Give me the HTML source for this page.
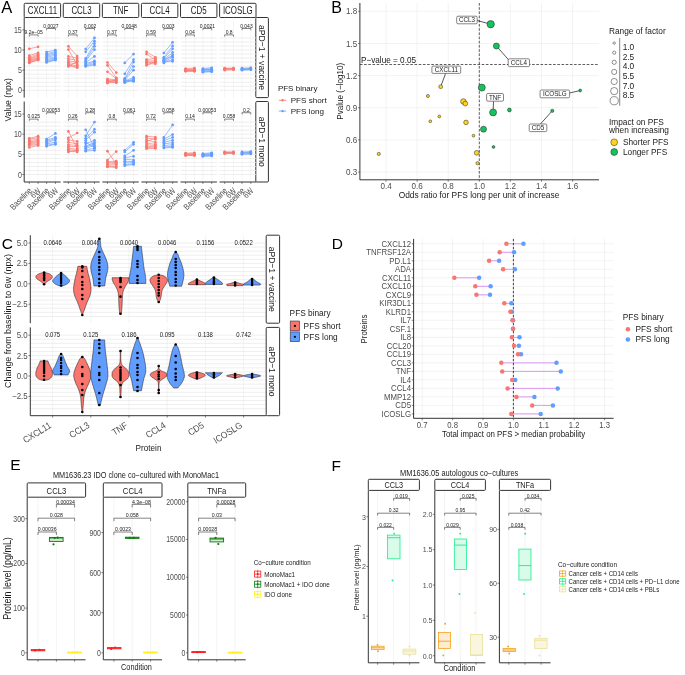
<!DOCTYPE html>
<html><head><meta charset="utf-8"><style>
html,body{margin:0;padding:0;background:#fff;width:685px;height:675px;overflow:hidden}
svg{display:block;-webkit-font-smoothing:antialiased;will-change:transform;font-family:"Liberation Sans", sans-serif}
</style></head><body>
<svg width="685" height="675" viewBox="0 0 685 675">
<rect x="0" y="0" width="685" height="675" fill="#fff"/>
<text transform="translate(1.3 13)" font-size="16.5" fill="#000" text-anchor="start">A</text>
<rect x="24.2" y="3.3" width="36.4" height="14.2" fill="#ffffff" stroke="#333333" stroke-width="1" rx="1"/>
<text transform="translate(42.4 14) scale(0.79 1)" font-size="10" fill="#1a1a1a" text-anchor="middle">CXCL11</text>
<rect x="63.28" y="3.3" width="36.4" height="14.2" fill="#ffffff" stroke="#333333" stroke-width="1" rx="1"/>
<text transform="translate(81.48 14) scale(0.79 1)" font-size="10" fill="#1a1a1a" text-anchor="middle">CCL3</text>
<rect x="102.36" y="3.3" width="36.4" height="14.2" fill="#ffffff" stroke="#333333" stroke-width="1" rx="1"/>
<text transform="translate(120.56 14) scale(0.79 1)" font-size="10" fill="#1a1a1a" text-anchor="middle">TNF</text>
<rect x="141.44" y="3.3" width="36.4" height="14.2" fill="#ffffff" stroke="#333333" stroke-width="1" rx="1"/>
<text transform="translate(159.64 14) scale(0.79 1)" font-size="10" fill="#1a1a1a" text-anchor="middle">CCL4</text>
<rect x="180.52" y="3.3" width="36.4" height="14.2" fill="#ffffff" stroke="#333333" stroke-width="1" rx="1"/>
<text transform="translate(198.72 14) scale(0.79 1)" font-size="10" fill="#1a1a1a" text-anchor="middle">CD5</text>
<rect x="219.6" y="3.3" width="36.4" height="14.2" fill="#ffffff" stroke="#333333" stroke-width="1" rx="1"/>
<text transform="translate(237.8 14) scale(0.79 1)" font-size="10" fill="#1a1a1a" text-anchor="middle">ICOSLG</text>
<rect x="255.8" y="17.5" width="12.6" height="80.1" fill="#ffffff" stroke="#333333" stroke-width="1" rx="1"/>
<text transform="translate(258.68 57.55) rotate(90) scale(0.9 1)" font-size="9.5" fill="#1a1a1a" text-anchor="middle">aPD−1 + vaccine</text>
<line x1="24.2" y1="90.3" x2="60.6" y2="90.3" stroke="#e8e8e8" stroke-width="0.75"/>
<line x1="24.2" y1="86.27" x2="60.6" y2="86.27" stroke="#e8e8e8" stroke-width="0.75"/>
<line x1="24.2" y1="82.24" x2="60.6" y2="82.24" stroke="#e8e8e8" stroke-width="0.75"/>
<line x1="24.2" y1="78.21" x2="60.6" y2="78.21" stroke="#e8e8e8" stroke-width="0.75"/>
<line x1="24.2" y1="74.18" x2="60.6" y2="74.18" stroke="#e8e8e8" stroke-width="0.75"/>
<line x1="24.2" y1="70.15" x2="60.6" y2="70.15" stroke="#e8e8e8" stroke-width="0.75"/>
<line x1="24.2" y1="66.12" x2="60.6" y2="66.12" stroke="#e8e8e8" stroke-width="0.75"/>
<line x1="24.2" y1="62.09" x2="60.6" y2="62.09" stroke="#e8e8e8" stroke-width="0.75"/>
<line x1="24.2" y1="58.06" x2="60.6" y2="58.06" stroke="#e8e8e8" stroke-width="0.75"/>
<line x1="24.2" y1="54.03" x2="60.6" y2="54.03" stroke="#e8e8e8" stroke-width="0.75"/>
<line x1="24.2" y1="50" x2="60.6" y2="50" stroke="#e8e8e8" stroke-width="0.75"/>
<line x1="24.2" y1="45.97" x2="60.6" y2="45.97" stroke="#e8e8e8" stroke-width="0.75"/>
<line x1="24.2" y1="41.94" x2="60.6" y2="41.94" stroke="#e8e8e8" stroke-width="0.75"/>
<line x1="24.2" y1="37.91" x2="60.6" y2="37.91" stroke="#e8e8e8" stroke-width="0.75"/>
<line x1="29.3" y1="17.5" x2="29.3" y2="97.6" stroke="#ebebeb" stroke-width="0.5"/>
<line x1="38.1" y1="17.5" x2="38.1" y2="97.6" stroke="#ebebeb" stroke-width="0.5"/>
<line x1="46.6" y1="17.5" x2="46.6" y2="97.6" stroke="#ebebeb" stroke-width="0.5"/>
<line x1="55.4" y1="17.5" x2="55.4" y2="97.6" stroke="#ebebeb" stroke-width="0.5"/>
<line x1="63.28" y1="90.3" x2="99.68" y2="90.3" stroke="#e8e8e8" stroke-width="0.75"/>
<line x1="63.28" y1="86.27" x2="99.68" y2="86.27" stroke="#e8e8e8" stroke-width="0.75"/>
<line x1="63.28" y1="82.24" x2="99.68" y2="82.24" stroke="#e8e8e8" stroke-width="0.75"/>
<line x1="63.28" y1="78.21" x2="99.68" y2="78.21" stroke="#e8e8e8" stroke-width="0.75"/>
<line x1="63.28" y1="74.18" x2="99.68" y2="74.18" stroke="#e8e8e8" stroke-width="0.75"/>
<line x1="63.28" y1="70.15" x2="99.68" y2="70.15" stroke="#e8e8e8" stroke-width="0.75"/>
<line x1="63.28" y1="66.12" x2="99.68" y2="66.12" stroke="#e8e8e8" stroke-width="0.75"/>
<line x1="63.28" y1="62.09" x2="99.68" y2="62.09" stroke="#e8e8e8" stroke-width="0.75"/>
<line x1="63.28" y1="58.06" x2="99.68" y2="58.06" stroke="#e8e8e8" stroke-width="0.75"/>
<line x1="63.28" y1="54.03" x2="99.68" y2="54.03" stroke="#e8e8e8" stroke-width="0.75"/>
<line x1="63.28" y1="50" x2="99.68" y2="50" stroke="#e8e8e8" stroke-width="0.75"/>
<line x1="63.28" y1="45.97" x2="99.68" y2="45.97" stroke="#e8e8e8" stroke-width="0.75"/>
<line x1="63.28" y1="41.94" x2="99.68" y2="41.94" stroke="#e8e8e8" stroke-width="0.75"/>
<line x1="63.28" y1="37.91" x2="99.68" y2="37.91" stroke="#e8e8e8" stroke-width="0.75"/>
<line x1="68.38" y1="17.5" x2="68.38" y2="97.6" stroke="#ebebeb" stroke-width="0.5"/>
<line x1="77.18" y1="17.5" x2="77.18" y2="97.6" stroke="#ebebeb" stroke-width="0.5"/>
<line x1="85.68" y1="17.5" x2="85.68" y2="97.6" stroke="#ebebeb" stroke-width="0.5"/>
<line x1="94.48" y1="17.5" x2="94.48" y2="97.6" stroke="#ebebeb" stroke-width="0.5"/>
<line x1="102.36" y1="90.3" x2="138.76" y2="90.3" stroke="#e8e8e8" stroke-width="0.75"/>
<line x1="102.36" y1="86.27" x2="138.76" y2="86.27" stroke="#e8e8e8" stroke-width="0.75"/>
<line x1="102.36" y1="82.24" x2="138.76" y2="82.24" stroke="#e8e8e8" stroke-width="0.75"/>
<line x1="102.36" y1="78.21" x2="138.76" y2="78.21" stroke="#e8e8e8" stroke-width="0.75"/>
<line x1="102.36" y1="74.18" x2="138.76" y2="74.18" stroke="#e8e8e8" stroke-width="0.75"/>
<line x1="102.36" y1="70.15" x2="138.76" y2="70.15" stroke="#e8e8e8" stroke-width="0.75"/>
<line x1="102.36" y1="66.12" x2="138.76" y2="66.12" stroke="#e8e8e8" stroke-width="0.75"/>
<line x1="102.36" y1="62.09" x2="138.76" y2="62.09" stroke="#e8e8e8" stroke-width="0.75"/>
<line x1="102.36" y1="58.06" x2="138.76" y2="58.06" stroke="#e8e8e8" stroke-width="0.75"/>
<line x1="102.36" y1="54.03" x2="138.76" y2="54.03" stroke="#e8e8e8" stroke-width="0.75"/>
<line x1="102.36" y1="50" x2="138.76" y2="50" stroke="#e8e8e8" stroke-width="0.75"/>
<line x1="102.36" y1="45.97" x2="138.76" y2="45.97" stroke="#e8e8e8" stroke-width="0.75"/>
<line x1="102.36" y1="41.94" x2="138.76" y2="41.94" stroke="#e8e8e8" stroke-width="0.75"/>
<line x1="102.36" y1="37.91" x2="138.76" y2="37.91" stroke="#e8e8e8" stroke-width="0.75"/>
<line x1="107.46" y1="17.5" x2="107.46" y2="97.6" stroke="#ebebeb" stroke-width="0.5"/>
<line x1="116.26" y1="17.5" x2="116.26" y2="97.6" stroke="#ebebeb" stroke-width="0.5"/>
<line x1="124.76" y1="17.5" x2="124.76" y2="97.6" stroke="#ebebeb" stroke-width="0.5"/>
<line x1="133.56" y1="17.5" x2="133.56" y2="97.6" stroke="#ebebeb" stroke-width="0.5"/>
<line x1="141.44" y1="90.3" x2="177.84" y2="90.3" stroke="#e8e8e8" stroke-width="0.75"/>
<line x1="141.44" y1="86.27" x2="177.84" y2="86.27" stroke="#e8e8e8" stroke-width="0.75"/>
<line x1="141.44" y1="82.24" x2="177.84" y2="82.24" stroke="#e8e8e8" stroke-width="0.75"/>
<line x1="141.44" y1="78.21" x2="177.84" y2="78.21" stroke="#e8e8e8" stroke-width="0.75"/>
<line x1="141.44" y1="74.18" x2="177.84" y2="74.18" stroke="#e8e8e8" stroke-width="0.75"/>
<line x1="141.44" y1="70.15" x2="177.84" y2="70.15" stroke="#e8e8e8" stroke-width="0.75"/>
<line x1="141.44" y1="66.12" x2="177.84" y2="66.12" stroke="#e8e8e8" stroke-width="0.75"/>
<line x1="141.44" y1="62.09" x2="177.84" y2="62.09" stroke="#e8e8e8" stroke-width="0.75"/>
<line x1="141.44" y1="58.06" x2="177.84" y2="58.06" stroke="#e8e8e8" stroke-width="0.75"/>
<line x1="141.44" y1="54.03" x2="177.84" y2="54.03" stroke="#e8e8e8" stroke-width="0.75"/>
<line x1="141.44" y1="50" x2="177.84" y2="50" stroke="#e8e8e8" stroke-width="0.75"/>
<line x1="141.44" y1="45.97" x2="177.84" y2="45.97" stroke="#e8e8e8" stroke-width="0.75"/>
<line x1="141.44" y1="41.94" x2="177.84" y2="41.94" stroke="#e8e8e8" stroke-width="0.75"/>
<line x1="141.44" y1="37.91" x2="177.84" y2="37.91" stroke="#e8e8e8" stroke-width="0.75"/>
<line x1="146.54" y1="17.5" x2="146.54" y2="97.6" stroke="#ebebeb" stroke-width="0.5"/>
<line x1="155.34" y1="17.5" x2="155.34" y2="97.6" stroke="#ebebeb" stroke-width="0.5"/>
<line x1="163.84" y1="17.5" x2="163.84" y2="97.6" stroke="#ebebeb" stroke-width="0.5"/>
<line x1="172.64" y1="17.5" x2="172.64" y2="97.6" stroke="#ebebeb" stroke-width="0.5"/>
<line x1="180.52" y1="90.3" x2="216.92" y2="90.3" stroke="#e8e8e8" stroke-width="0.75"/>
<line x1="180.52" y1="86.27" x2="216.92" y2="86.27" stroke="#e8e8e8" stroke-width="0.75"/>
<line x1="180.52" y1="82.24" x2="216.92" y2="82.24" stroke="#e8e8e8" stroke-width="0.75"/>
<line x1="180.52" y1="78.21" x2="216.92" y2="78.21" stroke="#e8e8e8" stroke-width="0.75"/>
<line x1="180.52" y1="74.18" x2="216.92" y2="74.18" stroke="#e8e8e8" stroke-width="0.75"/>
<line x1="180.52" y1="70.15" x2="216.92" y2="70.15" stroke="#e8e8e8" stroke-width="0.75"/>
<line x1="180.52" y1="66.12" x2="216.92" y2="66.12" stroke="#e8e8e8" stroke-width="0.75"/>
<line x1="180.52" y1="62.09" x2="216.92" y2="62.09" stroke="#e8e8e8" stroke-width="0.75"/>
<line x1="180.52" y1="58.06" x2="216.92" y2="58.06" stroke="#e8e8e8" stroke-width="0.75"/>
<line x1="180.52" y1="54.03" x2="216.92" y2="54.03" stroke="#e8e8e8" stroke-width="0.75"/>
<line x1="180.52" y1="50" x2="216.92" y2="50" stroke="#e8e8e8" stroke-width="0.75"/>
<line x1="180.52" y1="45.97" x2="216.92" y2="45.97" stroke="#e8e8e8" stroke-width="0.75"/>
<line x1="180.52" y1="41.94" x2="216.92" y2="41.94" stroke="#e8e8e8" stroke-width="0.75"/>
<line x1="180.52" y1="37.91" x2="216.92" y2="37.91" stroke="#e8e8e8" stroke-width="0.75"/>
<line x1="185.62" y1="17.5" x2="185.62" y2="97.6" stroke="#ebebeb" stroke-width="0.5"/>
<line x1="194.42" y1="17.5" x2="194.42" y2="97.6" stroke="#ebebeb" stroke-width="0.5"/>
<line x1="202.92" y1="17.5" x2="202.92" y2="97.6" stroke="#ebebeb" stroke-width="0.5"/>
<line x1="211.72" y1="17.5" x2="211.72" y2="97.6" stroke="#ebebeb" stroke-width="0.5"/>
<line x1="219.6" y1="90.3" x2="256" y2="90.3" stroke="#e8e8e8" stroke-width="0.75"/>
<line x1="219.6" y1="86.27" x2="256" y2="86.27" stroke="#e8e8e8" stroke-width="0.75"/>
<line x1="219.6" y1="82.24" x2="256" y2="82.24" stroke="#e8e8e8" stroke-width="0.75"/>
<line x1="219.6" y1="78.21" x2="256" y2="78.21" stroke="#e8e8e8" stroke-width="0.75"/>
<line x1="219.6" y1="74.18" x2="256" y2="74.18" stroke="#e8e8e8" stroke-width="0.75"/>
<line x1="219.6" y1="70.15" x2="256" y2="70.15" stroke="#e8e8e8" stroke-width="0.75"/>
<line x1="219.6" y1="66.12" x2="256" y2="66.12" stroke="#e8e8e8" stroke-width="0.75"/>
<line x1="219.6" y1="62.09" x2="256" y2="62.09" stroke="#e8e8e8" stroke-width="0.75"/>
<line x1="219.6" y1="58.06" x2="256" y2="58.06" stroke="#e8e8e8" stroke-width="0.75"/>
<line x1="219.6" y1="54.03" x2="256" y2="54.03" stroke="#e8e8e8" stroke-width="0.75"/>
<line x1="219.6" y1="50" x2="256" y2="50" stroke="#e8e8e8" stroke-width="0.75"/>
<line x1="219.6" y1="45.97" x2="256" y2="45.97" stroke="#e8e8e8" stroke-width="0.75"/>
<line x1="219.6" y1="41.94" x2="256" y2="41.94" stroke="#e8e8e8" stroke-width="0.75"/>
<line x1="219.6" y1="37.91" x2="256" y2="37.91" stroke="#e8e8e8" stroke-width="0.75"/>
<line x1="224.7" y1="17.5" x2="224.7" y2="97.6" stroke="#ebebeb" stroke-width="0.5"/>
<line x1="233.5" y1="17.5" x2="233.5" y2="97.6" stroke="#ebebeb" stroke-width="0.5"/>
<line x1="242" y1="17.5" x2="242" y2="97.6" stroke="#ebebeb" stroke-width="0.5"/>
<line x1="250.8" y1="17.5" x2="250.8" y2="97.6" stroke="#ebebeb" stroke-width="0.5"/>
<line x1="24.2" y1="17.5" x2="24.2" y2="97.6" stroke="#333" stroke-width="1"/>
<line x1="22.3" y1="90.3" x2="24.2" y2="90.3" stroke="#333" stroke-width="0.6"/>
<text transform="translate(21.8 93.3) scale(0.83 1)" font-size="8.5" fill="#4d4d4d" text-anchor="end">0</text>
<line x1="22.3" y1="70.15" x2="24.2" y2="70.15" stroke="#333" stroke-width="0.6"/>
<text transform="translate(21.8 73.15) scale(0.83 1)" font-size="8.5" fill="#4d4d4d" text-anchor="end">5</text>
<line x1="22.3" y1="50" x2="24.2" y2="50" stroke="#333" stroke-width="0.6"/>
<text transform="translate(21.8 53) scale(0.83 1)" font-size="8.5" fill="#4d4d4d" text-anchor="end">10</text>
<line x1="22.3" y1="29.85" x2="24.2" y2="29.85" stroke="#333" stroke-width="0.6"/>
<text transform="translate(21.8 32.85) scale(0.83 1)" font-size="8.5" fill="#4d4d4d" text-anchor="end">15</text>
<rect x="255.8" y="101.5" width="12.6" height="80.5" fill="#ffffff" stroke="#333333" stroke-width="1" rx="1"/>
<text transform="translate(258.68 141.75) rotate(90) scale(0.9 1)" font-size="9.5" fill="#1a1a1a" text-anchor="middle">aPD−1 mono</text>
<line x1="24.2" y1="174.5" x2="60.6" y2="174.5" stroke="#e8e8e8" stroke-width="0.75"/>
<line x1="24.2" y1="170.47" x2="60.6" y2="170.47" stroke="#e8e8e8" stroke-width="0.75"/>
<line x1="24.2" y1="166.44" x2="60.6" y2="166.44" stroke="#e8e8e8" stroke-width="0.75"/>
<line x1="24.2" y1="162.41" x2="60.6" y2="162.41" stroke="#e8e8e8" stroke-width="0.75"/>
<line x1="24.2" y1="158.38" x2="60.6" y2="158.38" stroke="#e8e8e8" stroke-width="0.75"/>
<line x1="24.2" y1="154.35" x2="60.6" y2="154.35" stroke="#e8e8e8" stroke-width="0.75"/>
<line x1="24.2" y1="150.32" x2="60.6" y2="150.32" stroke="#e8e8e8" stroke-width="0.75"/>
<line x1="24.2" y1="146.29" x2="60.6" y2="146.29" stroke="#e8e8e8" stroke-width="0.75"/>
<line x1="24.2" y1="142.26" x2="60.6" y2="142.26" stroke="#e8e8e8" stroke-width="0.75"/>
<line x1="24.2" y1="138.23" x2="60.6" y2="138.23" stroke="#e8e8e8" stroke-width="0.75"/>
<line x1="24.2" y1="134.2" x2="60.6" y2="134.2" stroke="#e8e8e8" stroke-width="0.75"/>
<line x1="24.2" y1="130.17" x2="60.6" y2="130.17" stroke="#e8e8e8" stroke-width="0.75"/>
<line x1="24.2" y1="126.14" x2="60.6" y2="126.14" stroke="#e8e8e8" stroke-width="0.75"/>
<line x1="24.2" y1="122.11" x2="60.6" y2="122.11" stroke="#e8e8e8" stroke-width="0.75"/>
<line x1="29.3" y1="101.5" x2="29.3" y2="182" stroke="#ebebeb" stroke-width="0.5"/>
<line x1="38.1" y1="101.5" x2="38.1" y2="182" stroke="#ebebeb" stroke-width="0.5"/>
<line x1="46.6" y1="101.5" x2="46.6" y2="182" stroke="#ebebeb" stroke-width="0.5"/>
<line x1="55.4" y1="101.5" x2="55.4" y2="182" stroke="#ebebeb" stroke-width="0.5"/>
<line x1="63.28" y1="174.5" x2="99.68" y2="174.5" stroke="#e8e8e8" stroke-width="0.75"/>
<line x1="63.28" y1="170.47" x2="99.68" y2="170.47" stroke="#e8e8e8" stroke-width="0.75"/>
<line x1="63.28" y1="166.44" x2="99.68" y2="166.44" stroke="#e8e8e8" stroke-width="0.75"/>
<line x1="63.28" y1="162.41" x2="99.68" y2="162.41" stroke="#e8e8e8" stroke-width="0.75"/>
<line x1="63.28" y1="158.38" x2="99.68" y2="158.38" stroke="#e8e8e8" stroke-width="0.75"/>
<line x1="63.28" y1="154.35" x2="99.68" y2="154.35" stroke="#e8e8e8" stroke-width="0.75"/>
<line x1="63.28" y1="150.32" x2="99.68" y2="150.32" stroke="#e8e8e8" stroke-width="0.75"/>
<line x1="63.28" y1="146.29" x2="99.68" y2="146.29" stroke="#e8e8e8" stroke-width="0.75"/>
<line x1="63.28" y1="142.26" x2="99.68" y2="142.26" stroke="#e8e8e8" stroke-width="0.75"/>
<line x1="63.28" y1="138.23" x2="99.68" y2="138.23" stroke="#e8e8e8" stroke-width="0.75"/>
<line x1="63.28" y1="134.2" x2="99.68" y2="134.2" stroke="#e8e8e8" stroke-width="0.75"/>
<line x1="63.28" y1="130.17" x2="99.68" y2="130.17" stroke="#e8e8e8" stroke-width="0.75"/>
<line x1="63.28" y1="126.14" x2="99.68" y2="126.14" stroke="#e8e8e8" stroke-width="0.75"/>
<line x1="63.28" y1="122.11" x2="99.68" y2="122.11" stroke="#e8e8e8" stroke-width="0.75"/>
<line x1="68.38" y1="101.5" x2="68.38" y2="182" stroke="#ebebeb" stroke-width="0.5"/>
<line x1="77.18" y1="101.5" x2="77.18" y2="182" stroke="#ebebeb" stroke-width="0.5"/>
<line x1="85.68" y1="101.5" x2="85.68" y2="182" stroke="#ebebeb" stroke-width="0.5"/>
<line x1="94.48" y1="101.5" x2="94.48" y2="182" stroke="#ebebeb" stroke-width="0.5"/>
<line x1="102.36" y1="174.5" x2="138.76" y2="174.5" stroke="#e8e8e8" stroke-width="0.75"/>
<line x1="102.36" y1="170.47" x2="138.76" y2="170.47" stroke="#e8e8e8" stroke-width="0.75"/>
<line x1="102.36" y1="166.44" x2="138.76" y2="166.44" stroke="#e8e8e8" stroke-width="0.75"/>
<line x1="102.36" y1="162.41" x2="138.76" y2="162.41" stroke="#e8e8e8" stroke-width="0.75"/>
<line x1="102.36" y1="158.38" x2="138.76" y2="158.38" stroke="#e8e8e8" stroke-width="0.75"/>
<line x1="102.36" y1="154.35" x2="138.76" y2="154.35" stroke="#e8e8e8" stroke-width="0.75"/>
<line x1="102.36" y1="150.32" x2="138.76" y2="150.32" stroke="#e8e8e8" stroke-width="0.75"/>
<line x1="102.36" y1="146.29" x2="138.76" y2="146.29" stroke="#e8e8e8" stroke-width="0.75"/>
<line x1="102.36" y1="142.26" x2="138.76" y2="142.26" stroke="#e8e8e8" stroke-width="0.75"/>
<line x1="102.36" y1="138.23" x2="138.76" y2="138.23" stroke="#e8e8e8" stroke-width="0.75"/>
<line x1="102.36" y1="134.2" x2="138.76" y2="134.2" stroke="#e8e8e8" stroke-width="0.75"/>
<line x1="102.36" y1="130.17" x2="138.76" y2="130.17" stroke="#e8e8e8" stroke-width="0.75"/>
<line x1="102.36" y1="126.14" x2="138.76" y2="126.14" stroke="#e8e8e8" stroke-width="0.75"/>
<line x1="102.36" y1="122.11" x2="138.76" y2="122.11" stroke="#e8e8e8" stroke-width="0.75"/>
<line x1="107.46" y1="101.5" x2="107.46" y2="182" stroke="#ebebeb" stroke-width="0.5"/>
<line x1="116.26" y1="101.5" x2="116.26" y2="182" stroke="#ebebeb" stroke-width="0.5"/>
<line x1="124.76" y1="101.5" x2="124.76" y2="182" stroke="#ebebeb" stroke-width="0.5"/>
<line x1="133.56" y1="101.5" x2="133.56" y2="182" stroke="#ebebeb" stroke-width="0.5"/>
<line x1="141.44" y1="174.5" x2="177.84" y2="174.5" stroke="#e8e8e8" stroke-width="0.75"/>
<line x1="141.44" y1="170.47" x2="177.84" y2="170.47" stroke="#e8e8e8" stroke-width="0.75"/>
<line x1="141.44" y1="166.44" x2="177.84" y2="166.44" stroke="#e8e8e8" stroke-width="0.75"/>
<line x1="141.44" y1="162.41" x2="177.84" y2="162.41" stroke="#e8e8e8" stroke-width="0.75"/>
<line x1="141.44" y1="158.38" x2="177.84" y2="158.38" stroke="#e8e8e8" stroke-width="0.75"/>
<line x1="141.44" y1="154.35" x2="177.84" y2="154.35" stroke="#e8e8e8" stroke-width="0.75"/>
<line x1="141.44" y1="150.32" x2="177.84" y2="150.32" stroke="#e8e8e8" stroke-width="0.75"/>
<line x1="141.44" y1="146.29" x2="177.84" y2="146.29" stroke="#e8e8e8" stroke-width="0.75"/>
<line x1="141.44" y1="142.26" x2="177.84" y2="142.26" stroke="#e8e8e8" stroke-width="0.75"/>
<line x1="141.44" y1="138.23" x2="177.84" y2="138.23" stroke="#e8e8e8" stroke-width="0.75"/>
<line x1="141.44" y1="134.2" x2="177.84" y2="134.2" stroke="#e8e8e8" stroke-width="0.75"/>
<line x1="141.44" y1="130.17" x2="177.84" y2="130.17" stroke="#e8e8e8" stroke-width="0.75"/>
<line x1="141.44" y1="126.14" x2="177.84" y2="126.14" stroke="#e8e8e8" stroke-width="0.75"/>
<line x1="141.44" y1="122.11" x2="177.84" y2="122.11" stroke="#e8e8e8" stroke-width="0.75"/>
<line x1="146.54" y1="101.5" x2="146.54" y2="182" stroke="#ebebeb" stroke-width="0.5"/>
<line x1="155.34" y1="101.5" x2="155.34" y2="182" stroke="#ebebeb" stroke-width="0.5"/>
<line x1="163.84" y1="101.5" x2="163.84" y2="182" stroke="#ebebeb" stroke-width="0.5"/>
<line x1="172.64" y1="101.5" x2="172.64" y2="182" stroke="#ebebeb" stroke-width="0.5"/>
<line x1="180.52" y1="174.5" x2="216.92" y2="174.5" stroke="#e8e8e8" stroke-width="0.75"/>
<line x1="180.52" y1="170.47" x2="216.92" y2="170.47" stroke="#e8e8e8" stroke-width="0.75"/>
<line x1="180.52" y1="166.44" x2="216.92" y2="166.44" stroke="#e8e8e8" stroke-width="0.75"/>
<line x1="180.52" y1="162.41" x2="216.92" y2="162.41" stroke="#e8e8e8" stroke-width="0.75"/>
<line x1="180.52" y1="158.38" x2="216.92" y2="158.38" stroke="#e8e8e8" stroke-width="0.75"/>
<line x1="180.52" y1="154.35" x2="216.92" y2="154.35" stroke="#e8e8e8" stroke-width="0.75"/>
<line x1="180.52" y1="150.32" x2="216.92" y2="150.32" stroke="#e8e8e8" stroke-width="0.75"/>
<line x1="180.52" y1="146.29" x2="216.92" y2="146.29" stroke="#e8e8e8" stroke-width="0.75"/>
<line x1="180.52" y1="142.26" x2="216.92" y2="142.26" stroke="#e8e8e8" stroke-width="0.75"/>
<line x1="180.52" y1="138.23" x2="216.92" y2="138.23" stroke="#e8e8e8" stroke-width="0.75"/>
<line x1="180.52" y1="134.2" x2="216.92" y2="134.2" stroke="#e8e8e8" stroke-width="0.75"/>
<line x1="180.52" y1="130.17" x2="216.92" y2="130.17" stroke="#e8e8e8" stroke-width="0.75"/>
<line x1="180.52" y1="126.14" x2="216.92" y2="126.14" stroke="#e8e8e8" stroke-width="0.75"/>
<line x1="180.52" y1="122.11" x2="216.92" y2="122.11" stroke="#e8e8e8" stroke-width="0.75"/>
<line x1="185.62" y1="101.5" x2="185.62" y2="182" stroke="#ebebeb" stroke-width="0.5"/>
<line x1="194.42" y1="101.5" x2="194.42" y2="182" stroke="#ebebeb" stroke-width="0.5"/>
<line x1="202.92" y1="101.5" x2="202.92" y2="182" stroke="#ebebeb" stroke-width="0.5"/>
<line x1="211.72" y1="101.5" x2="211.72" y2="182" stroke="#ebebeb" stroke-width="0.5"/>
<line x1="219.6" y1="174.5" x2="256" y2="174.5" stroke="#e8e8e8" stroke-width="0.75"/>
<line x1="219.6" y1="170.47" x2="256" y2="170.47" stroke="#e8e8e8" stroke-width="0.75"/>
<line x1="219.6" y1="166.44" x2="256" y2="166.44" stroke="#e8e8e8" stroke-width="0.75"/>
<line x1="219.6" y1="162.41" x2="256" y2="162.41" stroke="#e8e8e8" stroke-width="0.75"/>
<line x1="219.6" y1="158.38" x2="256" y2="158.38" stroke="#e8e8e8" stroke-width="0.75"/>
<line x1="219.6" y1="154.35" x2="256" y2="154.35" stroke="#e8e8e8" stroke-width="0.75"/>
<line x1="219.6" y1="150.32" x2="256" y2="150.32" stroke="#e8e8e8" stroke-width="0.75"/>
<line x1="219.6" y1="146.29" x2="256" y2="146.29" stroke="#e8e8e8" stroke-width="0.75"/>
<line x1="219.6" y1="142.26" x2="256" y2="142.26" stroke="#e8e8e8" stroke-width="0.75"/>
<line x1="219.6" y1="138.23" x2="256" y2="138.23" stroke="#e8e8e8" stroke-width="0.75"/>
<line x1="219.6" y1="134.2" x2="256" y2="134.2" stroke="#e8e8e8" stroke-width="0.75"/>
<line x1="219.6" y1="130.17" x2="256" y2="130.17" stroke="#e8e8e8" stroke-width="0.75"/>
<line x1="219.6" y1="126.14" x2="256" y2="126.14" stroke="#e8e8e8" stroke-width="0.75"/>
<line x1="219.6" y1="122.11" x2="256" y2="122.11" stroke="#e8e8e8" stroke-width="0.75"/>
<line x1="224.7" y1="101.5" x2="224.7" y2="182" stroke="#ebebeb" stroke-width="0.5"/>
<line x1="233.5" y1="101.5" x2="233.5" y2="182" stroke="#ebebeb" stroke-width="0.5"/>
<line x1="242" y1="101.5" x2="242" y2="182" stroke="#ebebeb" stroke-width="0.5"/>
<line x1="250.8" y1="101.5" x2="250.8" y2="182" stroke="#ebebeb" stroke-width="0.5"/>
<line x1="24.2" y1="101.5" x2="24.2" y2="182" stroke="#333" stroke-width="1"/>
<line x1="22.3" y1="174.5" x2="24.2" y2="174.5" stroke="#333" stroke-width="0.6"/>
<text transform="translate(21.8 177.5) scale(0.83 1)" font-size="8.5" fill="#4d4d4d" text-anchor="end">0</text>
<line x1="22.3" y1="154.35" x2="24.2" y2="154.35" stroke="#333" stroke-width="0.6"/>
<text transform="translate(21.8 157.35) scale(0.83 1)" font-size="8.5" fill="#4d4d4d" text-anchor="end">5</text>
<line x1="22.3" y1="134.2" x2="24.2" y2="134.2" stroke="#333" stroke-width="0.6"/>
<text transform="translate(21.8 137.2) scale(0.83 1)" font-size="8.5" fill="#4d4d4d" text-anchor="end">10</text>
<line x1="22.3" y1="114.05" x2="24.2" y2="114.05" stroke="#333" stroke-width="0.6"/>
<text transform="translate(21.8 117.05) scale(0.83 1)" font-size="8.5" fill="#4d4d4d" text-anchor="end">15</text>
<line x1="24.2" y1="182" x2="60.6" y2="182" stroke="#333" stroke-width="1"/>
<line x1="29.3" y1="182" x2="29.3" y2="183.9" stroke="#333" stroke-width="0.6"/>
<text transform="translate(32.5 191.3) rotate(-45) scale(0.82 1)" font-size="8.6" fill="#4d4d4d" text-anchor="end">Baseline</text>
<line x1="38.1" y1="182" x2="38.1" y2="183.9" stroke="#333" stroke-width="0.6"/>
<text transform="translate(41.3 191.3) rotate(-45) scale(0.82 1)" font-size="8.6" fill="#4d4d4d" text-anchor="end">6W</text>
<line x1="46.6" y1="182" x2="46.6" y2="183.9" stroke="#333" stroke-width="0.6"/>
<text transform="translate(49.8 191.3) rotate(-45) scale(0.82 1)" font-size="8.6" fill="#4d4d4d" text-anchor="end">Baseline</text>
<line x1="55.4" y1="182" x2="55.4" y2="183.9" stroke="#333" stroke-width="0.6"/>
<text transform="translate(58.6 191.3) rotate(-45) scale(0.82 1)" font-size="8.6" fill="#4d4d4d" text-anchor="end">6W</text>
<line x1="63.28" y1="182" x2="99.68" y2="182" stroke="#333" stroke-width="1"/>
<line x1="68.38" y1="182" x2="68.38" y2="183.9" stroke="#333" stroke-width="0.6"/>
<text transform="translate(71.58 191.3) rotate(-45) scale(0.82 1)" font-size="8.6" fill="#4d4d4d" text-anchor="end">Baseline</text>
<line x1="77.18" y1="182" x2="77.18" y2="183.9" stroke="#333" stroke-width="0.6"/>
<text transform="translate(80.38 191.3) rotate(-45) scale(0.82 1)" font-size="8.6" fill="#4d4d4d" text-anchor="end">6W</text>
<line x1="85.68" y1="182" x2="85.68" y2="183.9" stroke="#333" stroke-width="0.6"/>
<text transform="translate(88.88 191.3) rotate(-45) scale(0.82 1)" font-size="8.6" fill="#4d4d4d" text-anchor="end">Baseline</text>
<line x1="94.48" y1="182" x2="94.48" y2="183.9" stroke="#333" stroke-width="0.6"/>
<text transform="translate(97.68 191.3) rotate(-45) scale(0.82 1)" font-size="8.6" fill="#4d4d4d" text-anchor="end">6W</text>
<line x1="102.36" y1="182" x2="138.76" y2="182" stroke="#333" stroke-width="1"/>
<line x1="107.46" y1="182" x2="107.46" y2="183.9" stroke="#333" stroke-width="0.6"/>
<text transform="translate(110.66 191.3) rotate(-45) scale(0.82 1)" font-size="8.6" fill="#4d4d4d" text-anchor="end">Baseline</text>
<line x1="116.26" y1="182" x2="116.26" y2="183.9" stroke="#333" stroke-width="0.6"/>
<text transform="translate(119.46 191.3) rotate(-45) scale(0.82 1)" font-size="8.6" fill="#4d4d4d" text-anchor="end">6W</text>
<line x1="124.76" y1="182" x2="124.76" y2="183.9" stroke="#333" stroke-width="0.6"/>
<text transform="translate(127.96 191.3) rotate(-45) scale(0.82 1)" font-size="8.6" fill="#4d4d4d" text-anchor="end">Baseline</text>
<line x1="133.56" y1="182" x2="133.56" y2="183.9" stroke="#333" stroke-width="0.6"/>
<text transform="translate(136.76 191.3) rotate(-45) scale(0.82 1)" font-size="8.6" fill="#4d4d4d" text-anchor="end">6W</text>
<line x1="141.44" y1="182" x2="177.84" y2="182" stroke="#333" stroke-width="1"/>
<line x1="146.54" y1="182" x2="146.54" y2="183.9" stroke="#333" stroke-width="0.6"/>
<text transform="translate(149.74 191.3) rotate(-45) scale(0.82 1)" font-size="8.6" fill="#4d4d4d" text-anchor="end">Baseline</text>
<line x1="155.34" y1="182" x2="155.34" y2="183.9" stroke="#333" stroke-width="0.6"/>
<text transform="translate(158.54 191.3) rotate(-45) scale(0.82 1)" font-size="8.6" fill="#4d4d4d" text-anchor="end">6W</text>
<line x1="163.84" y1="182" x2="163.84" y2="183.9" stroke="#333" stroke-width="0.6"/>
<text transform="translate(167.04 191.3) rotate(-45) scale(0.82 1)" font-size="8.6" fill="#4d4d4d" text-anchor="end">Baseline</text>
<line x1="172.64" y1="182" x2="172.64" y2="183.9" stroke="#333" stroke-width="0.6"/>
<text transform="translate(175.84 191.3) rotate(-45) scale(0.82 1)" font-size="8.6" fill="#4d4d4d" text-anchor="end">6W</text>
<line x1="180.52" y1="182" x2="216.92" y2="182" stroke="#333" stroke-width="1"/>
<line x1="185.62" y1="182" x2="185.62" y2="183.9" stroke="#333" stroke-width="0.6"/>
<text transform="translate(188.82 191.3) rotate(-45) scale(0.82 1)" font-size="8.6" fill="#4d4d4d" text-anchor="end">Baseline</text>
<line x1="194.42" y1="182" x2="194.42" y2="183.9" stroke="#333" stroke-width="0.6"/>
<text transform="translate(197.62 191.3) rotate(-45) scale(0.82 1)" font-size="8.6" fill="#4d4d4d" text-anchor="end">6W</text>
<line x1="202.92" y1="182" x2="202.92" y2="183.9" stroke="#333" stroke-width="0.6"/>
<text transform="translate(206.12 191.3) rotate(-45) scale(0.82 1)" font-size="8.6" fill="#4d4d4d" text-anchor="end">Baseline</text>
<line x1="211.72" y1="182" x2="211.72" y2="183.9" stroke="#333" stroke-width="0.6"/>
<text transform="translate(214.92 191.3) rotate(-45) scale(0.82 1)" font-size="8.6" fill="#4d4d4d" text-anchor="end">6W</text>
<line x1="219.6" y1="182" x2="256" y2="182" stroke="#333" stroke-width="1"/>
<line x1="224.7" y1="182" x2="224.7" y2="183.9" stroke="#333" stroke-width="0.6"/>
<text transform="translate(227.9 191.3) rotate(-45) scale(0.82 1)" font-size="8.6" fill="#4d4d4d" text-anchor="end">Baseline</text>
<line x1="233.5" y1="182" x2="233.5" y2="183.9" stroke="#333" stroke-width="0.6"/>
<text transform="translate(236.7 191.3) rotate(-45) scale(0.82 1)" font-size="8.6" fill="#4d4d4d" text-anchor="end">6W</text>
<line x1="242" y1="182" x2="242" y2="183.9" stroke="#333" stroke-width="0.6"/>
<text transform="translate(245.2 191.3) rotate(-45) scale(0.82 1)" font-size="8.6" fill="#4d4d4d" text-anchor="end">Baseline</text>
<line x1="250.8" y1="182" x2="250.8" y2="183.9" stroke="#333" stroke-width="0.6"/>
<text transform="translate(254 191.3) rotate(-45) scale(0.82 1)" font-size="8.6" fill="#4d4d4d" text-anchor="end">6W</text>
<text transform="translate(10.6 99.8) rotate(-90)" font-size="8.6" fill="#1a1a1a" text-anchor="middle">Value (npx)</text>
<g stroke="#F8766D" stroke-width="0.65"><line x1="29.3" y1="48.79" x2="38.1" y2="46.78"/><line x1="29.3" y1="55.64" x2="38.1" y2="52.82"/><line x1="29.3" y1="57.25" x2="38.1" y2="54.03"/><line x1="29.3" y1="58.46" x2="38.1" y2="55.24"/><line x1="29.3" y1="59.27" x2="38.1" y2="56.45"/><line x1="29.3" y1="60.07" x2="38.1" y2="57.66"/><line x1="29.3" y1="60.88" x2="38.1" y2="58.46"/><line x1="29.3" y1="61.69" x2="38.1" y2="59.27"/><line x1="29.3" y1="62.49" x2="38.1" y2="59.67"/><line x1="29.3" y1="62.9" x2="38.1" y2="60.07"/></g>
<g fill="#F8766D"><circle cx="29.3" cy="48.79" r="1.35"/><circle cx="38.1" cy="46.78" r="1.35"/><circle cx="29.3" cy="55.64" r="1.35"/><circle cx="38.1" cy="52.82" r="1.35"/><circle cx="29.3" cy="57.25" r="1.35"/><circle cx="38.1" cy="54.03" r="1.35"/><circle cx="29.3" cy="58.46" r="1.35"/><circle cx="38.1" cy="55.24" r="1.35"/><circle cx="29.3" cy="59.27" r="1.35"/><circle cx="38.1" cy="56.45" r="1.35"/><circle cx="29.3" cy="60.07" r="1.35"/><circle cx="38.1" cy="57.66" r="1.35"/><circle cx="29.3" cy="60.88" r="1.35"/><circle cx="38.1" cy="58.46" r="1.35"/><circle cx="29.3" cy="61.69" r="1.35"/><circle cx="38.1" cy="59.27" r="1.35"/><circle cx="29.3" cy="62.49" r="1.35"/><circle cx="38.1" cy="59.67" r="1.35"/><circle cx="29.3" cy="62.9" r="1.35"/><circle cx="38.1" cy="60.07" r="1.35"/></g>
<g stroke="#619CFF" stroke-width="0.65"><line x1="46.6" y1="52.01" x2="55.4" y2="50"/><line x1="46.6" y1="53.63" x2="55.4" y2="51.61"/><line x1="46.6" y1="54.84" x2="55.4" y2="52.82"/><line x1="46.6" y1="56.04" x2="55.4" y2="54.03"/><line x1="46.6" y1="57.25" x2="55.4" y2="55.24"/><line x1="46.6" y1="58.46" x2="55.4" y2="56.85"/><line x1="46.6" y1="59.67" x2="55.4" y2="58.06"/><line x1="46.6" y1="60.88" x2="55.4" y2="58.87"/><line x1="46.6" y1="61.69" x2="55.4" y2="59.67"/><line x1="46.6" y1="62.49" x2="55.4" y2="60.07"/></g>
<g fill="#619CFF"><circle cx="46.6" cy="52.01" r="1.35"/><circle cx="55.4" cy="50" r="1.35"/><circle cx="46.6" cy="53.63" r="1.35"/><circle cx="55.4" cy="51.61" r="1.35"/><circle cx="46.6" cy="54.84" r="1.35"/><circle cx="55.4" cy="52.82" r="1.35"/><circle cx="46.6" cy="56.04" r="1.35"/><circle cx="55.4" cy="54.03" r="1.35"/><circle cx="46.6" cy="57.25" r="1.35"/><circle cx="55.4" cy="55.24" r="1.35"/><circle cx="46.6" cy="58.46" r="1.35"/><circle cx="55.4" cy="56.85" r="1.35"/><circle cx="46.6" cy="59.67" r="1.35"/><circle cx="55.4" cy="58.06" r="1.35"/><circle cx="46.6" cy="60.88" r="1.35"/><circle cx="55.4" cy="58.87" r="1.35"/><circle cx="46.6" cy="61.69" r="1.35"/><circle cx="55.4" cy="59.67" r="1.35"/><circle cx="46.6" cy="62.49" r="1.35"/><circle cx="55.4" cy="60.07" r="1.35"/></g>
<path d="M29.3 36.6V34.9H38.1V36.6" fill="none" stroke="#333" stroke-width="0.6"/>
<text transform="translate(33.7 34.1)" font-size="5" fill="#1a1a1a" text-anchor="middle">9.2e−05</text>
<path d="M46.6 30.2V28.5H55.4V30.2" fill="none" stroke="#333" stroke-width="0.6"/>
<text transform="translate(51 27.7)" font-size="5" fill="#1a1a1a" text-anchor="middle">0.0027</text>
<g stroke="#F8766D" stroke-width="0.65"><line x1="68.38" y1="46.37" x2="77.18" y2="56.04"/><line x1="68.38" y1="49.6" x2="77.18" y2="65.31"/><line x1="68.38" y1="56.45" x2="77.18" y2="58.06"/><line x1="68.38" y1="58.87" x2="77.18" y2="60.07"/><line x1="68.38" y1="60.88" x2="77.18" y2="62.09"/><line x1="68.38" y1="62.49" x2="77.18" y2="64.1"/><line x1="68.38" y1="63.7" x2="77.18" y2="66.12"/><line x1="68.38" y1="64.91" x2="77.18" y2="66.93"/><line x1="68.38" y1="65.72" x2="77.18" y2="67.73"/><line x1="68.38" y1="66.52" x2="77.18" y2="61.28"/></g>
<g fill="#F8766D"><circle cx="68.38" cy="46.37" r="1.35"/><circle cx="77.18" cy="56.04" r="1.35"/><circle cx="68.38" cy="49.6" r="1.35"/><circle cx="77.18" cy="65.31" r="1.35"/><circle cx="68.38" cy="56.45" r="1.35"/><circle cx="77.18" cy="58.06" r="1.35"/><circle cx="68.38" cy="58.87" r="1.35"/><circle cx="77.18" cy="60.07" r="1.35"/><circle cx="68.38" cy="60.88" r="1.35"/><circle cx="77.18" cy="62.09" r="1.35"/><circle cx="68.38" cy="62.49" r="1.35"/><circle cx="77.18" cy="64.1" r="1.35"/><circle cx="68.38" cy="63.7" r="1.35"/><circle cx="77.18" cy="66.12" r="1.35"/><circle cx="68.38" cy="64.91" r="1.35"/><circle cx="77.18" cy="66.93" r="1.35"/><circle cx="68.38" cy="65.72" r="1.35"/><circle cx="77.18" cy="67.73" r="1.35"/><circle cx="68.38" cy="66.52" r="1.35"/><circle cx="77.18" cy="61.28" r="1.35"/></g>
<g stroke="#619CFF" stroke-width="0.65"><line x1="85.68" y1="48.99" x2="94.48" y2="37.91"/><line x1="85.68" y1="51.81" x2="94.48" y2="41.13"/><line x1="85.68" y1="58.46" x2="94.48" y2="43.55"/><line x1="85.68" y1="60.07" x2="94.48" y2="46.37"/><line x1="85.68" y1="61.28" x2="94.48" y2="49.6"/><line x1="85.68" y1="62.49" x2="94.48" y2="56.45"/><line x1="85.68" y1="63.7" x2="94.48" y2="60.88"/><line x1="85.68" y1="64.91" x2="94.48" y2="62.09"/><line x1="85.68" y1="65.72" x2="94.48" y2="63.7"/><line x1="85.68" y1="66.52" x2="94.48" y2="64.91"/></g>
<g fill="#619CFF"><circle cx="85.68" cy="48.99" r="1.35"/><circle cx="94.48" cy="37.91" r="1.35"/><circle cx="85.68" cy="51.81" r="1.35"/><circle cx="94.48" cy="41.13" r="1.35"/><circle cx="85.68" cy="58.46" r="1.35"/><circle cx="94.48" cy="43.55" r="1.35"/><circle cx="85.68" cy="60.07" r="1.35"/><circle cx="94.48" cy="46.37" r="1.35"/><circle cx="85.68" cy="61.28" r="1.35"/><circle cx="94.48" cy="49.6" r="1.35"/><circle cx="85.68" cy="62.49" r="1.35"/><circle cx="94.48" cy="56.45" r="1.35"/><circle cx="85.68" cy="63.7" r="1.35"/><circle cx="94.48" cy="60.88" r="1.35"/><circle cx="85.68" cy="64.91" r="1.35"/><circle cx="94.48" cy="62.09" r="1.35"/><circle cx="85.68" cy="65.72" r="1.35"/><circle cx="94.48" cy="63.7" r="1.35"/><circle cx="85.68" cy="66.52" r="1.35"/><circle cx="94.48" cy="64.91" r="1.35"/></g>
<path d="M68.38 36.6V34.9H77.18V36.6" fill="none" stroke="#333" stroke-width="0.6"/>
<text transform="translate(72.78 34.1)" font-size="5" fill="#1a1a1a" text-anchor="middle">0.37</text>
<path d="M85.68 30.2V28.5H94.48V30.2" fill="none" stroke="#333" stroke-width="0.6"/>
<text transform="translate(90.08 27.7)" font-size="5" fill="#1a1a1a" text-anchor="middle">0.002</text>
<g stroke="#F8766D" stroke-width="0.65"><line x1="107.46" y1="62.49" x2="116.26" y2="72.57"/><line x1="107.46" y1="65.31" x2="116.26" y2="77.81"/><line x1="107.46" y1="71.76" x2="116.26" y2="78.61"/><line x1="107.46" y1="79.02" x2="116.26" y2="79.82"/><line x1="107.46" y1="80.22" x2="116.26" y2="80.63"/><line x1="107.46" y1="81.03" x2="116.26" y2="81.43"/><line x1="107.46" y1="81.84" x2="116.26" y2="82.24"/><line x1="107.46" y1="82.64" x2="116.26" y2="82.64"/><line x1="107.46" y1="83.05" x2="116.26" y2="79.42"/></g>
<g fill="#F8766D"><circle cx="107.46" cy="62.49" r="1.35"/><circle cx="116.26" cy="72.57" r="1.35"/><circle cx="107.46" cy="65.31" r="1.35"/><circle cx="116.26" cy="77.81" r="1.35"/><circle cx="107.46" cy="71.76" r="1.35"/><circle cx="116.26" cy="78.61" r="1.35"/><circle cx="107.46" cy="79.02" r="1.35"/><circle cx="116.26" cy="79.82" r="1.35"/><circle cx="107.46" cy="80.22" r="1.35"/><circle cx="116.26" cy="80.63" r="1.35"/><circle cx="107.46" cy="81.03" r="1.35"/><circle cx="116.26" cy="81.43" r="1.35"/><circle cx="107.46" cy="81.84" r="1.35"/><circle cx="116.26" cy="82.24" r="1.35"/><circle cx="107.46" cy="82.64" r="1.35"/><circle cx="116.26" cy="82.64" r="1.35"/><circle cx="107.46" cy="83.05" r="1.35"/><circle cx="116.26" cy="79.42" r="1.35"/></g>
<g stroke="#619CFF" stroke-width="0.65"><line x1="124.76" y1="62.9" x2="133.56" y2="54.03"/><line x1="124.76" y1="73.78" x2="133.56" y2="59.67"/><line x1="124.76" y1="78.41" x2="133.56" y2="62.09"/><line x1="124.76" y1="79.42" x2="133.56" y2="66.52"/><line x1="124.76" y1="80.22" x2="133.56" y2="70.15"/><line x1="124.76" y1="81.03" x2="133.56" y2="77.4"/><line x1="124.76" y1="81.84" x2="133.56" y2="78.61"/><line x1="124.76" y1="82.64" x2="133.56" y2="79.82"/><line x1="124.76" y1="82.24" x2="133.56" y2="80.63"/><line x1="124.76" y1="79.82" x2="133.56" y2="81.43"/></g>
<g fill="#619CFF"><circle cx="124.76" cy="62.9" r="1.35"/><circle cx="133.56" cy="54.03" r="1.35"/><circle cx="124.76" cy="73.78" r="1.35"/><circle cx="133.56" cy="59.67" r="1.35"/><circle cx="124.76" cy="78.41" r="1.35"/><circle cx="133.56" cy="62.09" r="1.35"/><circle cx="124.76" cy="79.42" r="1.35"/><circle cx="133.56" cy="66.52" r="1.35"/><circle cx="124.76" cy="80.22" r="1.35"/><circle cx="133.56" cy="70.15" r="1.35"/><circle cx="124.76" cy="81.03" r="1.35"/><circle cx="133.56" cy="77.4" r="1.35"/><circle cx="124.76" cy="81.84" r="1.35"/><circle cx="133.56" cy="78.61" r="1.35"/><circle cx="124.76" cy="82.64" r="1.35"/><circle cx="133.56" cy="79.82" r="1.35"/><circle cx="124.76" cy="82.24" r="1.35"/><circle cx="133.56" cy="80.63" r="1.35"/><circle cx="124.76" cy="79.82" r="1.35"/><circle cx="133.56" cy="81.43" r="1.35"/></g>
<path d="M107.46 36.6V34.9H116.26V36.6" fill="none" stroke="#333" stroke-width="0.6"/>
<text transform="translate(111.86 34.1)" font-size="5" fill="#1a1a1a" text-anchor="middle">0.37</text>
<path d="M124.76 30.2V28.5H133.56V30.2" fill="none" stroke="#333" stroke-width="0.6"/>
<text transform="translate(129.16 27.7)" font-size="5" fill="#1a1a1a" text-anchor="middle">0.0048</text>
<g stroke="#F8766D" stroke-width="0.65"><line x1="146.54" y1="51.81" x2="155.34" y2="57.25"/><line x1="146.54" y1="54.03" x2="155.34" y2="59.67"/><line x1="146.54" y1="59.67" x2="155.34" y2="58.46"/><line x1="146.54" y1="60.88" x2="155.34" y2="60.88"/><line x1="146.54" y1="62.09" x2="155.34" y2="62.09"/><line x1="146.54" y1="62.9" x2="155.34" y2="62.49"/><line x1="146.54" y1="64.1" x2="155.34" y2="63.7"/><line x1="146.54" y1="65.31" x2="155.34" y2="61.69"/></g>
<g fill="#F8766D"><circle cx="146.54" cy="51.81" r="1.35"/><circle cx="155.34" cy="57.25" r="1.35"/><circle cx="146.54" cy="54.03" r="1.35"/><circle cx="155.34" cy="59.67" r="1.35"/><circle cx="146.54" cy="59.67" r="1.35"/><circle cx="155.34" cy="58.46" r="1.35"/><circle cx="146.54" cy="60.88" r="1.35"/><circle cx="155.34" cy="60.88" r="1.35"/><circle cx="146.54" cy="62.09" r="1.35"/><circle cx="155.34" cy="62.09" r="1.35"/><circle cx="146.54" cy="62.9" r="1.35"/><circle cx="155.34" cy="62.49" r="1.35"/><circle cx="146.54" cy="64.1" r="1.35"/><circle cx="155.34" cy="63.7" r="1.35"/><circle cx="146.54" cy="65.31" r="1.35"/><circle cx="155.34" cy="61.69" r="1.35"/></g>
<g stroke="#619CFF" stroke-width="0.65"><line x1="163.84" y1="53.02" x2="172.64" y2="42.34"/><line x1="163.84" y1="57.25" x2="172.64" y2="45.97"/><line x1="163.84" y1="58.46" x2="172.64" y2="48.79"/><line x1="163.84" y1="59.67" x2="172.64" y2="52.42"/><line x1="163.84" y1="60.88" x2="172.64" y2="54.84"/><line x1="163.84" y1="62.09" x2="172.64" y2="57.25"/><line x1="163.84" y1="62.9" x2="172.64" y2="59.67"/><line x1="163.84" y1="61.28" x2="172.64" y2="61.28"/><line x1="163.84" y1="60.07" x2="172.64" y2="56.04"/></g>
<g fill="#619CFF"><circle cx="163.84" cy="53.02" r="1.35"/><circle cx="172.64" cy="42.34" r="1.35"/><circle cx="163.84" cy="57.25" r="1.35"/><circle cx="172.64" cy="45.97" r="1.35"/><circle cx="163.84" cy="58.46" r="1.35"/><circle cx="172.64" cy="48.79" r="1.35"/><circle cx="163.84" cy="59.67" r="1.35"/><circle cx="172.64" cy="52.42" r="1.35"/><circle cx="163.84" cy="60.88" r="1.35"/><circle cx="172.64" cy="54.84" r="1.35"/><circle cx="163.84" cy="62.09" r="1.35"/><circle cx="172.64" cy="57.25" r="1.35"/><circle cx="163.84" cy="62.9" r="1.35"/><circle cx="172.64" cy="59.67" r="1.35"/><circle cx="163.84" cy="61.28" r="1.35"/><circle cx="172.64" cy="61.28" r="1.35"/><circle cx="163.84" cy="60.07" r="1.35"/><circle cx="172.64" cy="56.04" r="1.35"/></g>
<path d="M146.54 36.6V34.9H155.34V36.6" fill="none" stroke="#333" stroke-width="0.6"/>
<text transform="translate(150.94 34.1)" font-size="5" fill="#1a1a1a" text-anchor="middle">0.59</text>
<path d="M163.84 30.2V28.5H172.64V30.2" fill="none" stroke="#333" stroke-width="0.6"/>
<text transform="translate(168.24 27.7)" font-size="5" fill="#1a1a1a" text-anchor="middle">0.003</text>
<g stroke="#F8766D" stroke-width="0.65"><line x1="185.62" y1="68.54" x2="194.42" y2="68.13"/><line x1="185.62" y1="69.34" x2="194.42" y2="68.94"/><line x1="185.62" y1="70.15" x2="194.42" y2="69.75"/><line x1="185.62" y1="70.55" x2="194.42" y2="70.55"/><line x1="185.62" y1="70.96" x2="194.42" y2="70.96"/><line x1="185.62" y1="71.36" x2="194.42" y2="71.36"/><line x1="185.62" y1="69.75" x2="194.42" y2="70.15"/></g>
<g fill="#F8766D"><circle cx="185.62" cy="68.54" r="1.35"/><circle cx="194.42" cy="68.13" r="1.35"/><circle cx="185.62" cy="69.34" r="1.35"/><circle cx="194.42" cy="68.94" r="1.35"/><circle cx="185.62" cy="70.15" r="1.35"/><circle cx="194.42" cy="69.75" r="1.35"/><circle cx="185.62" cy="70.55" r="1.35"/><circle cx="194.42" cy="70.55" r="1.35"/><circle cx="185.62" cy="70.96" r="1.35"/><circle cx="194.42" cy="70.96" r="1.35"/><circle cx="185.62" cy="71.36" r="1.35"/><circle cx="194.42" cy="71.36" r="1.35"/><circle cx="185.62" cy="69.75" r="1.35"/><circle cx="194.42" cy="70.15" r="1.35"/></g>
<g stroke="#619CFF" stroke-width="0.65"><line x1="202.92" y1="68.54" x2="211.72" y2="67.73"/><line x1="202.92" y1="69.34" x2="211.72" y2="68.94"/><line x1="202.92" y1="70.15" x2="211.72" y2="69.75"/><line x1="202.92" y1="70.96" x2="211.72" y2="70.55"/><line x1="202.92" y1="71.76" x2="211.72" y2="71.36"/><line x1="202.92" y1="72.16" x2="211.72" y2="71.76"/><line x1="202.92" y1="69.75" x2="211.72" y2="69.34"/></g>
<g fill="#619CFF"><circle cx="202.92" cy="68.54" r="1.35"/><circle cx="211.72" cy="67.73" r="1.35"/><circle cx="202.92" cy="69.34" r="1.35"/><circle cx="211.72" cy="68.94" r="1.35"/><circle cx="202.92" cy="70.15" r="1.35"/><circle cx="211.72" cy="69.75" r="1.35"/><circle cx="202.92" cy="70.96" r="1.35"/><circle cx="211.72" cy="70.55" r="1.35"/><circle cx="202.92" cy="71.76" r="1.35"/><circle cx="211.72" cy="71.36" r="1.35"/><circle cx="202.92" cy="72.16" r="1.35"/><circle cx="211.72" cy="71.76" r="1.35"/><circle cx="202.92" cy="69.75" r="1.35"/><circle cx="211.72" cy="69.34" r="1.35"/></g>
<path d="M185.62 36.6V34.9H194.42V36.6" fill="none" stroke="#333" stroke-width="0.6"/>
<text transform="translate(190.02 34.1)" font-size="5" fill="#1a1a1a" text-anchor="middle">0.04</text>
<path d="M202.92 30.2V28.5H211.72V30.2" fill="none" stroke="#333" stroke-width="0.6"/>
<text transform="translate(207.32 27.7)" font-size="5" fill="#1a1a1a" text-anchor="middle">0.0021</text>
<g stroke="#F8766D" stroke-width="0.65"><line x1="224.7" y1="68.13" x2="233.5" y2="68.13"/><line x1="224.7" y1="68.94" x2="233.5" y2="68.54"/><line x1="224.7" y1="69.34" x2="233.5" y2="69.34"/><line x1="224.7" y1="70.15" x2="233.5" y2="69.75"/><line x1="224.7" y1="68.54" x2="233.5" y2="68.94"/></g>
<g fill="#F8766D"><circle cx="224.7" cy="68.13" r="1.35"/><circle cx="233.5" cy="68.13" r="1.35"/><circle cx="224.7" cy="68.94" r="1.35"/><circle cx="233.5" cy="68.54" r="1.35"/><circle cx="224.7" cy="69.34" r="1.35"/><circle cx="233.5" cy="69.34" r="1.35"/><circle cx="224.7" cy="70.15" r="1.35"/><circle cx="233.5" cy="69.75" r="1.35"/><circle cx="224.7" cy="68.54" r="1.35"/><circle cx="233.5" cy="68.94" r="1.35"/></g>
<g stroke="#619CFF" stroke-width="0.65"><line x1="242" y1="68.13" x2="250.8" y2="67.73"/><line x1="242" y1="68.94" x2="250.8" y2="68.54"/><line x1="242" y1="69.75" x2="250.8" y2="69.34"/><line x1="242" y1="70.15" x2="250.8" y2="69.75"/><line x1="242" y1="69.34" x2="250.8" y2="68.94"/></g>
<g fill="#619CFF"><circle cx="242" cy="68.13" r="1.35"/><circle cx="250.8" cy="67.73" r="1.35"/><circle cx="242" cy="68.94" r="1.35"/><circle cx="250.8" cy="68.54" r="1.35"/><circle cx="242" cy="69.75" r="1.35"/><circle cx="250.8" cy="69.34" r="1.35"/><circle cx="242" cy="70.15" r="1.35"/><circle cx="250.8" cy="69.75" r="1.35"/><circle cx="242" cy="69.34" r="1.35"/><circle cx="250.8" cy="68.94" r="1.35"/></g>
<path d="M224.7 36.6V34.9H233.5V36.6" fill="none" stroke="#333" stroke-width="0.6"/>
<text transform="translate(229.1 34.1)" font-size="5" fill="#1a1a1a" text-anchor="middle">0.8</text>
<path d="M242 30.2V28.5H250.8V30.2" fill="none" stroke="#333" stroke-width="0.6"/>
<text transform="translate(246.4 27.7)" font-size="5" fill="#1a1a1a" text-anchor="middle">0.043</text>
<g stroke="#F8766D" stroke-width="0.65"><line x1="29.3" y1="138.23" x2="38.1" y2="136.22"/><line x1="29.3" y1="139.44" x2="38.1" y2="137.42"/><line x1="29.3" y1="140.65" x2="38.1" y2="139.04"/><line x1="29.3" y1="141.86" x2="38.1" y2="140.25"/><line x1="29.3" y1="142.66" x2="38.1" y2="141.45"/><line x1="29.3" y1="143.47" x2="38.1" y2="142.66"/><line x1="29.3" y1="144.28" x2="38.1" y2="143.87"/><line x1="29.3" y1="145.48" x2="38.1" y2="144.68"/><line x1="29.3" y1="147.5" x2="38.1" y2="145.48"/></g>
<g fill="#F8766D"><circle cx="29.3" cy="138.23" r="1.35"/><circle cx="38.1" cy="136.22" r="1.35"/><circle cx="29.3" cy="139.44" r="1.35"/><circle cx="38.1" cy="137.42" r="1.35"/><circle cx="29.3" cy="140.65" r="1.35"/><circle cx="38.1" cy="139.04" r="1.35"/><circle cx="29.3" cy="141.86" r="1.35"/><circle cx="38.1" cy="140.25" r="1.35"/><circle cx="29.3" cy="142.66" r="1.35"/><circle cx="38.1" cy="141.45" r="1.35"/><circle cx="29.3" cy="143.47" r="1.35"/><circle cx="38.1" cy="142.66" r="1.35"/><circle cx="29.3" cy="144.28" r="1.35"/><circle cx="38.1" cy="143.87" r="1.35"/><circle cx="29.3" cy="145.48" r="1.35"/><circle cx="38.1" cy="144.68" r="1.35"/><circle cx="29.3" cy="147.5" r="1.35"/><circle cx="38.1" cy="145.48" r="1.35"/></g>
<g stroke="#619CFF" stroke-width="0.65"><line x1="46.6" y1="139.04" x2="55.4" y2="133.39"/><line x1="46.6" y1="140.25" x2="55.4" y2="137.42"/><line x1="46.6" y1="141.45" x2="55.4" y2="138.63"/><line x1="46.6" y1="142.66" x2="55.4" y2="139.84"/><line x1="46.6" y1="143.87" x2="55.4" y2="142.26"/><line x1="46.6" y1="145.08" x2="55.4" y2="143.87"/><line x1="46.6" y1="146.29" x2="55.4" y2="144.28"/></g>
<g fill="#619CFF"><circle cx="46.6" cy="139.04" r="1.35"/><circle cx="55.4" cy="133.39" r="1.35"/><circle cx="46.6" cy="140.25" r="1.35"/><circle cx="55.4" cy="137.42" r="1.35"/><circle cx="46.6" cy="141.45" r="1.35"/><circle cx="55.4" cy="138.63" r="1.35"/><circle cx="46.6" cy="142.66" r="1.35"/><circle cx="55.4" cy="139.84" r="1.35"/><circle cx="46.6" cy="143.87" r="1.35"/><circle cx="55.4" cy="142.26" r="1.35"/><circle cx="46.6" cy="145.08" r="1.35"/><circle cx="55.4" cy="143.87" r="1.35"/><circle cx="46.6" cy="146.29" r="1.35"/><circle cx="55.4" cy="144.28" r="1.35"/></g>
<path d="M29.3 120.8V119.1H38.1V120.8" fill="none" stroke="#333" stroke-width="0.6"/>
<text transform="translate(33.7 118.3)" font-size="5" fill="#1a1a1a" text-anchor="middle">0.025</text>
<path d="M46.6 114.4V112.7H55.4V114.4" fill="none" stroke="#333" stroke-width="0.6"/>
<text transform="translate(51 111.9)" font-size="5" fill="#1a1a1a" text-anchor="middle">0.00053</text>
<g stroke="#F8766D" stroke-width="0.65"><line x1="68.38" y1="131.38" x2="77.18" y2="148.31"/><line x1="68.38" y1="137.83" x2="77.18" y2="132.99"/><line x1="68.38" y1="139.84" x2="77.18" y2="141.45"/><line x1="68.38" y1="142.26" x2="77.18" y2="143.87"/><line x1="68.38" y1="144.68" x2="77.18" y2="145.48"/><line x1="68.38" y1="146.29" x2="77.18" y2="146.69"/><line x1="68.38" y1="147.9" x2="77.18" y2="149.51"/><line x1="68.38" y1="149.51" x2="77.18" y2="150.72"/><line x1="68.38" y1="150.72" x2="77.18" y2="151.93"/><line x1="68.38" y1="151.93" x2="77.18" y2="150.32"/></g>
<g fill="#F8766D"><circle cx="68.38" cy="131.38" r="1.35"/><circle cx="77.18" cy="148.31" r="1.35"/><circle cx="68.38" cy="137.83" r="1.35"/><circle cx="77.18" cy="132.99" r="1.35"/><circle cx="68.38" cy="139.84" r="1.35"/><circle cx="77.18" cy="141.45" r="1.35"/><circle cx="68.38" cy="142.26" r="1.35"/><circle cx="77.18" cy="143.87" r="1.35"/><circle cx="68.38" cy="144.68" r="1.35"/><circle cx="77.18" cy="145.48" r="1.35"/><circle cx="68.38" cy="146.29" r="1.35"/><circle cx="77.18" cy="146.69" r="1.35"/><circle cx="68.38" cy="147.9" r="1.35"/><circle cx="77.18" cy="149.51" r="1.35"/><circle cx="68.38" cy="149.51" r="1.35"/><circle cx="77.18" cy="150.72" r="1.35"/><circle cx="68.38" cy="150.72" r="1.35"/><circle cx="77.18" cy="151.93" r="1.35"/><circle cx="68.38" cy="151.93" r="1.35"/><circle cx="77.18" cy="150.32" r="1.35"/></g>
<g stroke="#619CFF" stroke-width="0.65"><line x1="85.68" y1="129.77" x2="94.48" y2="147.9"/><line x1="85.68" y1="135.81" x2="94.48" y2="122.11"/><line x1="85.68" y1="138.23" x2="94.48" y2="129.36"/><line x1="85.68" y1="140.25" x2="94.48" y2="132.19"/><line x1="85.68" y1="143.87" x2="94.48" y2="140.25"/><line x1="85.68" y1="146.29" x2="94.48" y2="142.26"/><line x1="85.68" y1="148.31" x2="94.48" y2="145.48"/><line x1="85.68" y1="149.92" x2="94.48" y2="148.31"/><line x1="85.68" y1="151.13" x2="94.48" y2="150.32"/><line x1="85.68" y1="142.26" x2="94.48" y2="147.1"/><line x1="85.68" y1="147.1" x2="94.48" y2="143.87"/></g>
<g fill="#619CFF"><circle cx="85.68" cy="129.77" r="1.35"/><circle cx="94.48" cy="147.9" r="1.35"/><circle cx="85.68" cy="135.81" r="1.35"/><circle cx="94.48" cy="122.11" r="1.35"/><circle cx="85.68" cy="138.23" r="1.35"/><circle cx="94.48" cy="129.36" r="1.35"/><circle cx="85.68" cy="140.25" r="1.35"/><circle cx="94.48" cy="132.19" r="1.35"/><circle cx="85.68" cy="143.87" r="1.35"/><circle cx="94.48" cy="140.25" r="1.35"/><circle cx="85.68" cy="146.29" r="1.35"/><circle cx="94.48" cy="142.26" r="1.35"/><circle cx="85.68" cy="148.31" r="1.35"/><circle cx="94.48" cy="145.48" r="1.35"/><circle cx="85.68" cy="149.92" r="1.35"/><circle cx="94.48" cy="148.31" r="1.35"/><circle cx="85.68" cy="151.13" r="1.35"/><circle cx="94.48" cy="150.32" r="1.35"/><circle cx="85.68" cy="142.26" r="1.35"/><circle cx="94.48" cy="147.1" r="1.35"/><circle cx="85.68" cy="147.1" r="1.35"/><circle cx="94.48" cy="143.87" r="1.35"/></g>
<path d="M68.38 120.8V119.1H77.18V120.8" fill="none" stroke="#333" stroke-width="0.6"/>
<text transform="translate(72.78 118.3)" font-size="5" fill="#1a1a1a" text-anchor="middle">0.26</text>
<path d="M85.68 114.4V112.7H94.48V114.4" fill="none" stroke="#333" stroke-width="0.6"/>
<text transform="translate(90.08 111.9)" font-size="5" fill="#1a1a1a" text-anchor="middle">0.28</text>
<g stroke="#F8766D" stroke-width="0.65"><line x1="107.46" y1="151.13" x2="116.26" y2="164.02"/><line x1="107.46" y1="159.99" x2="116.26" y2="151.53"/><line x1="107.46" y1="161.6" x2="116.26" y2="161.2"/><line x1="107.46" y1="162.81" x2="116.26" y2="162.41"/><line x1="107.46" y1="164.02" x2="116.26" y2="163.62"/><line x1="107.46" y1="165.23" x2="116.26" y2="164.83"/><line x1="107.46" y1="166.44" x2="116.26" y2="166.44"/><line x1="107.46" y1="166.84" x2="116.26" y2="167.65"/></g>
<g fill="#F8766D"><circle cx="107.46" cy="151.13" r="1.35"/><circle cx="116.26" cy="164.02" r="1.35"/><circle cx="107.46" cy="159.99" r="1.35"/><circle cx="116.26" cy="151.53" r="1.35"/><circle cx="107.46" cy="161.6" r="1.35"/><circle cx="116.26" cy="161.2" r="1.35"/><circle cx="107.46" cy="162.81" r="1.35"/><circle cx="116.26" cy="162.41" r="1.35"/><circle cx="107.46" cy="164.02" r="1.35"/><circle cx="116.26" cy="163.62" r="1.35"/><circle cx="107.46" cy="165.23" r="1.35"/><circle cx="116.26" cy="164.83" r="1.35"/><circle cx="107.46" cy="166.44" r="1.35"/><circle cx="116.26" cy="166.44" r="1.35"/><circle cx="107.46" cy="166.84" r="1.35"/><circle cx="116.26" cy="167.65" r="1.35"/></g>
<g stroke="#619CFF" stroke-width="0.65"><line x1="124.76" y1="150.32" x2="133.56" y2="142.26"/><line x1="124.76" y1="151.93" x2="133.56" y2="144.28"/><line x1="124.76" y1="155.96" x2="133.56" y2="150.32"/><line x1="124.76" y1="157.57" x2="133.56" y2="156.37"/><line x1="124.76" y1="159.19" x2="133.56" y2="159.99"/><line x1="124.76" y1="161.2" x2="133.56" y2="161.6"/><line x1="124.76" y1="162.81" x2="133.56" y2="162.81"/><line x1="124.76" y1="164.43" x2="133.56" y2="164.02"/><line x1="124.76" y1="165.63" x2="133.56" y2="164.43"/></g>
<g fill="#619CFF"><circle cx="124.76" cy="150.32" r="1.35"/><circle cx="133.56" cy="142.26" r="1.35"/><circle cx="124.76" cy="151.93" r="1.35"/><circle cx="133.56" cy="144.28" r="1.35"/><circle cx="124.76" cy="155.96" r="1.35"/><circle cx="133.56" cy="150.32" r="1.35"/><circle cx="124.76" cy="157.57" r="1.35"/><circle cx="133.56" cy="156.37" r="1.35"/><circle cx="124.76" cy="159.19" r="1.35"/><circle cx="133.56" cy="159.99" r="1.35"/><circle cx="124.76" cy="161.2" r="1.35"/><circle cx="133.56" cy="161.6" r="1.35"/><circle cx="124.76" cy="162.81" r="1.35"/><circle cx="133.56" cy="162.81" r="1.35"/><circle cx="124.76" cy="164.43" r="1.35"/><circle cx="133.56" cy="164.02" r="1.35"/><circle cx="124.76" cy="165.63" r="1.35"/><circle cx="133.56" cy="164.43" r="1.35"/></g>
<path d="M107.46 120.8V119.1H116.26V120.8" fill="none" stroke="#333" stroke-width="0.6"/>
<text transform="translate(111.86 118.3)" font-size="5" fill="#1a1a1a" text-anchor="middle">0.8</text>
<path d="M124.76 114.4V112.7H133.56V114.4" fill="none" stroke="#333" stroke-width="0.6"/>
<text transform="translate(129.16 111.9)" font-size="5" fill="#1a1a1a" text-anchor="middle">0.061</text>
<g stroke="#F8766D" stroke-width="0.65"><line x1="146.54" y1="136.22" x2="155.34" y2="137.02"/><line x1="146.54" y1="137.83" x2="155.34" y2="139.44"/><line x1="146.54" y1="139.84" x2="155.34" y2="142.26"/><line x1="146.54" y1="141.45" x2="155.34" y2="138.23"/><line x1="146.54" y1="143.07" x2="155.34" y2="144.28"/><line x1="146.54" y1="144.68" x2="155.34" y2="145.48"/><line x1="146.54" y1="146.29" x2="155.34" y2="146.69"/><line x1="146.54" y1="147.5" x2="155.34" y2="147.9"/><line x1="146.54" y1="148.71" x2="155.34" y2="148.31"/></g>
<g fill="#F8766D"><circle cx="146.54" cy="136.22" r="1.35"/><circle cx="155.34" cy="137.02" r="1.35"/><circle cx="146.54" cy="137.83" r="1.35"/><circle cx="155.34" cy="139.44" r="1.35"/><circle cx="146.54" cy="139.84" r="1.35"/><circle cx="155.34" cy="142.26" r="1.35"/><circle cx="146.54" cy="141.45" r="1.35"/><circle cx="155.34" cy="138.23" r="1.35"/><circle cx="146.54" cy="143.07" r="1.35"/><circle cx="155.34" cy="144.28" r="1.35"/><circle cx="146.54" cy="144.68" r="1.35"/><circle cx="155.34" cy="145.48" r="1.35"/><circle cx="146.54" cy="146.29" r="1.35"/><circle cx="155.34" cy="146.69" r="1.35"/><circle cx="146.54" cy="147.5" r="1.35"/><circle cx="155.34" cy="147.9" r="1.35"/><circle cx="146.54" cy="148.71" r="1.35"/><circle cx="155.34" cy="148.31" r="1.35"/></g>
<g stroke="#619CFF" stroke-width="0.65"><line x1="163.84" y1="137.42" x2="172.64" y2="124.93"/><line x1="163.84" y1="139.04" x2="172.64" y2="134.6"/><line x1="163.84" y1="140.65" x2="172.64" y2="137.42"/><line x1="163.84" y1="142.26" x2="172.64" y2="140.25"/><line x1="163.84" y1="143.87" x2="172.64" y2="142.66"/><line x1="163.84" y1="145.48" x2="172.64" y2="144.68"/><line x1="163.84" y1="147.1" x2="172.64" y2="146.29"/><line x1="163.84" y1="147.9" x2="172.64" y2="147.5"/></g>
<g fill="#619CFF"><circle cx="163.84" cy="137.42" r="1.35"/><circle cx="172.64" cy="124.93" r="1.35"/><circle cx="163.84" cy="139.04" r="1.35"/><circle cx="172.64" cy="134.6" r="1.35"/><circle cx="163.84" cy="140.65" r="1.35"/><circle cx="172.64" cy="137.42" r="1.35"/><circle cx="163.84" cy="142.26" r="1.35"/><circle cx="172.64" cy="140.25" r="1.35"/><circle cx="163.84" cy="143.87" r="1.35"/><circle cx="172.64" cy="142.66" r="1.35"/><circle cx="163.84" cy="145.48" r="1.35"/><circle cx="172.64" cy="144.68" r="1.35"/><circle cx="163.84" cy="147.1" r="1.35"/><circle cx="172.64" cy="146.29" r="1.35"/><circle cx="163.84" cy="147.9" r="1.35"/><circle cx="172.64" cy="147.5" r="1.35"/></g>
<path d="M146.54 120.8V119.1H155.34V120.8" fill="none" stroke="#333" stroke-width="0.6"/>
<text transform="translate(150.94 118.3)" font-size="5" fill="#1a1a1a" text-anchor="middle">0.72</text>
<path d="M163.84 114.4V112.7H172.64V114.4" fill="none" stroke="#333" stroke-width="0.6"/>
<text transform="translate(168.24 111.9)" font-size="5" fill="#1a1a1a" text-anchor="middle">0.058</text>
<g stroke="#F8766D" stroke-width="0.65"><line x1="185.62" y1="153.14" x2="194.42" y2="152.74"/><line x1="185.62" y1="153.95" x2="194.42" y2="153.54"/><line x1="185.62" y1="154.35" x2="194.42" y2="154.35"/><line x1="185.62" y1="154.75" x2="194.42" y2="154.75"/><line x1="185.62" y1="155.16" x2="194.42" y2="155.16"/><line x1="185.62" y1="155.56" x2="194.42" y2="155.56"/></g>
<g fill="#F8766D"><circle cx="185.62" cy="153.14" r="1.35"/><circle cx="194.42" cy="152.74" r="1.35"/><circle cx="185.62" cy="153.95" r="1.35"/><circle cx="194.42" cy="153.54" r="1.35"/><circle cx="185.62" cy="154.35" r="1.35"/><circle cx="194.42" cy="154.35" r="1.35"/><circle cx="185.62" cy="154.75" r="1.35"/><circle cx="194.42" cy="154.75" r="1.35"/><circle cx="185.62" cy="155.16" r="1.35"/><circle cx="194.42" cy="155.16" r="1.35"/><circle cx="185.62" cy="155.56" r="1.35"/><circle cx="194.42" cy="155.56" r="1.35"/></g>
<g stroke="#619CFF" stroke-width="0.65"><line x1="202.92" y1="153.54" x2="211.72" y2="152.74"/><line x1="202.92" y1="154.35" x2="211.72" y2="153.54"/><line x1="202.92" y1="154.75" x2="211.72" y2="154.35"/><line x1="202.92" y1="155.56" x2="211.72" y2="154.75"/><line x1="202.92" y1="155.96" x2="211.72" y2="155.56"/><line x1="202.92" y1="156.37" x2="211.72" y2="155.96"/></g>
<g fill="#619CFF"><circle cx="202.92" cy="153.54" r="1.35"/><circle cx="211.72" cy="152.74" r="1.35"/><circle cx="202.92" cy="154.35" r="1.35"/><circle cx="211.72" cy="153.54" r="1.35"/><circle cx="202.92" cy="154.75" r="1.35"/><circle cx="211.72" cy="154.35" r="1.35"/><circle cx="202.92" cy="155.56" r="1.35"/><circle cx="211.72" cy="154.75" r="1.35"/><circle cx="202.92" cy="155.96" r="1.35"/><circle cx="211.72" cy="155.56" r="1.35"/><circle cx="202.92" cy="156.37" r="1.35"/><circle cx="211.72" cy="155.96" r="1.35"/></g>
<path d="M185.62 120.8V119.1H194.42V120.8" fill="none" stroke="#333" stroke-width="0.6"/>
<text transform="translate(190.02 118.3)" font-size="5" fill="#1a1a1a" text-anchor="middle">0.14</text>
<path d="M202.92 114.4V112.7H211.72V114.4" fill="none" stroke="#333" stroke-width="0.6"/>
<text transform="translate(207.32 111.9)" font-size="5" fill="#1a1a1a" text-anchor="middle">0.00053</text>
<g stroke="#F8766D" stroke-width="0.65"><line x1="224.7" y1="151.93" x2="233.5" y2="151.93"/><line x1="224.7" y1="152.34" x2="233.5" y2="152.34"/><line x1="224.7" y1="152.74" x2="233.5" y2="152.74"/><line x1="224.7" y1="153.14" x2="233.5" y2="153.14"/><line x1="224.7" y1="153.54" x2="233.5" y2="153.54"/></g>
<g fill="#F8766D"><circle cx="224.7" cy="151.93" r="1.35"/><circle cx="233.5" cy="151.93" r="1.35"/><circle cx="224.7" cy="152.34" r="1.35"/><circle cx="233.5" cy="152.34" r="1.35"/><circle cx="224.7" cy="152.74" r="1.35"/><circle cx="233.5" cy="152.74" r="1.35"/><circle cx="224.7" cy="153.14" r="1.35"/><circle cx="233.5" cy="153.14" r="1.35"/><circle cx="224.7" cy="153.54" r="1.35"/><circle cx="233.5" cy="153.54" r="1.35"/></g>
<g stroke="#619CFF" stroke-width="0.65"><line x1="242" y1="151.93" x2="250.8" y2="151.53"/><line x1="242" y1="152.74" x2="250.8" y2="152.34"/><line x1="242" y1="153.14" x2="250.8" y2="152.74"/><line x1="242" y1="153.95" x2="250.8" y2="153.54"/><line x1="242" y1="154.35" x2="250.8" y2="153.95"/></g>
<g fill="#619CFF"><circle cx="242" cy="151.93" r="1.35"/><circle cx="250.8" cy="151.53" r="1.35"/><circle cx="242" cy="152.74" r="1.35"/><circle cx="250.8" cy="152.34" r="1.35"/><circle cx="242" cy="153.14" r="1.35"/><circle cx="250.8" cy="152.74" r="1.35"/><circle cx="242" cy="153.95" r="1.35"/><circle cx="250.8" cy="153.54" r="1.35"/><circle cx="242" cy="154.35" r="1.35"/><circle cx="250.8" cy="153.95" r="1.35"/></g>
<path d="M224.7 120.8V119.1H233.5V120.8" fill="none" stroke="#333" stroke-width="0.6"/>
<text transform="translate(229.1 118.3)" font-size="5" fill="#1a1a1a" text-anchor="middle">0.058</text>
<path d="M242 114.4V112.7H250.8V114.4" fill="none" stroke="#333" stroke-width="0.6"/>
<text transform="translate(246.4 111.9)" font-size="5" fill="#1a1a1a" text-anchor="middle">0.2</text>
<text transform="translate(277.9 90.8)" font-size="8" fill="#1a1a1a" text-anchor="start">PFS binary</text>
<line x1="278.9" y1="100.3" x2="286.3" y2="100.3" stroke="#F8766D" stroke-width="0.8"/>
<circle cx="282.6" cy="100.3" r="1.2" fill="#F8766D" stroke="none" stroke-width="0.5"/>
<text transform="translate(290.7 103.2)" font-size="8.1" fill="#1a1a1a" text-anchor="start">PFS short</text>
<line x1="278.9" y1="111.1" x2="286.3" y2="111.1" stroke="#619CFF" stroke-width="0.8"/>
<circle cx="282.6" cy="111.1" r="1.2" fill="#619CFF" stroke="none" stroke-width="0.5"/>
<text transform="translate(290.7 114)" font-size="8.1" fill="#1a1a1a" text-anchor="start">PFS long</text>
<text transform="translate(331.3 12.9)" font-size="16" fill="#000" text-anchor="start">B</text>
<line x1="386" y1="3" x2="386" y2="179.8" stroke="#ebebeb" stroke-width="0.6"/>
<line x1="417.1" y1="3" x2="417.1" y2="179.8" stroke="#ebebeb" stroke-width="0.6"/>
<line x1="448.2" y1="3" x2="448.2" y2="179.8" stroke="#ebebeb" stroke-width="0.6"/>
<line x1="479.3" y1="3" x2="479.3" y2="179.8" stroke="#ebebeb" stroke-width="0.6"/>
<line x1="510.4" y1="3" x2="510.4" y2="179.8" stroke="#ebebeb" stroke-width="0.6"/>
<line x1="541.5" y1="3" x2="541.5" y2="179.8" stroke="#ebebeb" stroke-width="0.6"/>
<line x1="572.6" y1="3" x2="572.6" y2="179.8" stroke="#ebebeb" stroke-width="0.6"/>
<line x1="359.9" y1="172.05" x2="599" y2="172.05" stroke="#ebebeb" stroke-width="0.6"/>
<line x1="359.9" y1="139.9" x2="599" y2="139.9" stroke="#ebebeb" stroke-width="0.6"/>
<line x1="359.9" y1="107.75" x2="599" y2="107.75" stroke="#ebebeb" stroke-width="0.6"/>
<line x1="359.9" y1="75.6" x2="599" y2="75.6" stroke="#ebebeb" stroke-width="0.6"/>
<line x1="359.9" y1="43.45" x2="599" y2="43.45" stroke="#ebebeb" stroke-width="0.6"/>
<line x1="359.9" y1="11.3" x2="599" y2="11.3" stroke="#ebebeb" stroke-width="0.6"/>
<line x1="359.9" y1="3" x2="359.9" y2="179.8" stroke="#333" stroke-width="1"/>
<line x1="359.9" y1="179.8" x2="599" y2="179.8" stroke="#333" stroke-width="1"/>
<line x1="358" y1="172.05" x2="359.9" y2="172.05" stroke="#333" stroke-width="0.6"/>
<text transform="translate(357.3 175.15) scale(0.92 1)" font-size="8.8" fill="#4d4d4d" text-anchor="end">0.3</text>
<line x1="358" y1="139.9" x2="359.9" y2="139.9" stroke="#333" stroke-width="0.6"/>
<text transform="translate(357.3 143) scale(0.92 1)" font-size="8.8" fill="#4d4d4d" text-anchor="end">0.6</text>
<line x1="358" y1="107.75" x2="359.9" y2="107.75" stroke="#333" stroke-width="0.6"/>
<text transform="translate(357.3 110.85) scale(0.92 1)" font-size="8.8" fill="#4d4d4d" text-anchor="end">0.9</text>
<line x1="358" y1="75.6" x2="359.9" y2="75.6" stroke="#333" stroke-width="0.6"/>
<text transform="translate(357.3 78.7) scale(0.92 1)" font-size="8.8" fill="#4d4d4d" text-anchor="end">1.2</text>
<line x1="358" y1="43.45" x2="359.9" y2="43.45" stroke="#333" stroke-width="0.6"/>
<text transform="translate(357.3 46.55) scale(0.92 1)" font-size="8.8" fill="#4d4d4d" text-anchor="end">1.5</text>
<line x1="358" y1="11.3" x2="359.9" y2="11.3" stroke="#333" stroke-width="0.6"/>
<text transform="translate(357.3 14.4) scale(0.92 1)" font-size="8.8" fill="#4d4d4d" text-anchor="end">1.8</text>
<line x1="386" y1="179.8" x2="386" y2="181.7" stroke="#333" stroke-width="0.6"/>
<text transform="translate(386 188.6) scale(0.92 1)" font-size="8.8" fill="#4d4d4d" text-anchor="middle">0.4</text>
<line x1="417.1" y1="179.8" x2="417.1" y2="181.7" stroke="#333" stroke-width="0.6"/>
<text transform="translate(417.1 188.6) scale(0.92 1)" font-size="8.8" fill="#4d4d4d" text-anchor="middle">0.6</text>
<line x1="448.2" y1="179.8" x2="448.2" y2="181.7" stroke="#333" stroke-width="0.6"/>
<text transform="translate(448.2 188.6) scale(0.92 1)" font-size="8.8" fill="#4d4d4d" text-anchor="middle">0.8</text>
<line x1="479.3" y1="179.8" x2="479.3" y2="181.7" stroke="#333" stroke-width="0.6"/>
<text transform="translate(479.3 188.6) scale(0.92 1)" font-size="8.8" fill="#4d4d4d" text-anchor="middle">1.0</text>
<line x1="510.4" y1="179.8" x2="510.4" y2="181.7" stroke="#333" stroke-width="0.6"/>
<text transform="translate(510.4 188.6) scale(0.92 1)" font-size="8.8" fill="#4d4d4d" text-anchor="middle">1.2</text>
<line x1="541.5" y1="179.8" x2="541.5" y2="181.7" stroke="#333" stroke-width="0.6"/>
<text transform="translate(541.5 188.6) scale(0.92 1)" font-size="8.8" fill="#4d4d4d" text-anchor="middle">1.4</text>
<line x1="572.6" y1="179.8" x2="572.6" y2="181.7" stroke="#333" stroke-width="0.6"/>
<text transform="translate(572.6 188.6) scale(0.92 1)" font-size="8.8" fill="#4d4d4d" text-anchor="middle">1.6</text>
<text transform="translate(479 198.3) scale(0.94 1)" font-size="8.9" fill="#1a1a1a" text-anchor="middle">Odds ratio for PFS long per unit of increase</text>
<text transform="translate(342.6 91.3) rotate(-90) scale(0.91 1)" font-size="8.9" fill="#1a1a1a" text-anchor="middle">Pvalue (−log10)</text>
<line x1="359.9" y1="64.5" x2="599" y2="64.5" stroke="#333" stroke-width="0.8" stroke-dasharray="2.6 1.6"/>
<line x1="479.3" y1="3" x2="479.3" y2="179.8" stroke="#333" stroke-width="0.8" stroke-dasharray="2.6 1.6"/>
<text transform="translate(361 63.2) scale(0.91 1)" font-size="9" fill="#1a1a1a" text-anchor="start">P−value = 0.05</text>
<line x1="477.2" y1="20.5" x2="490.7" y2="24.2" stroke="#111" stroke-width="0.7"/>
<line x1="496.4" y1="46" x2="509.2" y2="60.5" stroke="#111" stroke-width="0.7"/>
<line x1="445.6" y1="73.4" x2="440.7" y2="86.7" stroke="#111" stroke-width="0.7"/>
<line x1="493.5" y1="101.3" x2="493.1" y2="112.4" stroke="#111" stroke-width="0.7"/>
<line x1="569.6" y1="93" x2="580.2" y2="90.5" stroke="#111" stroke-width="0.7"/>
<line x1="540.5" y1="123.9" x2="552.3" y2="110.8" stroke="#111" stroke-width="0.7"/>
<circle cx="490.7" cy="24.2" r="3.7" fill="#16C25C" stroke="#222" stroke-width="0.5"/>
<circle cx="496.4" cy="46" r="3" fill="#16C25C" stroke="#222" stroke-width="0.5"/>
<circle cx="481.8" cy="87.6" r="3.5" fill="#16C25C" stroke="#222" stroke-width="0.5"/>
<circle cx="493.1" cy="112.4" r="3.5" fill="#16C25C" stroke="#222" stroke-width="0.5"/>
<circle cx="509.4" cy="110" r="1.9" fill="#16C25C" stroke="#222" stroke-width="0.5"/>
<circle cx="483.5" cy="129.2" r="3" fill="#16C25C" stroke="#222" stroke-width="0.5"/>
<circle cx="493.5" cy="147" r="1.4" fill="#16C25C" stroke="#222" stroke-width="0.5"/>
<circle cx="580.2" cy="90.5" r="1.4" fill="#16C25C" stroke="#222" stroke-width="0.5"/>
<circle cx="552.3" cy="110.8" r="1.6" fill="#16C25C" stroke="#222" stroke-width="0.5"/>
<circle cx="440.7" cy="86.7" r="1.9" fill="#FFD21F" stroke="#222" stroke-width="0.5"/>
<circle cx="427.9" cy="96" r="1.6" fill="#FFD21F" stroke="#222" stroke-width="0.5"/>
<circle cx="463.4" cy="101.5" r="2.8" fill="#FFD21F" stroke="#222" stroke-width="0.5"/>
<circle cx="465.3" cy="103.6" r="2.4" fill="#FFD21F" stroke="#222" stroke-width="0.5"/>
<circle cx="430.3" cy="121.3" r="1.4" fill="#FFD21F" stroke="#222" stroke-width="0.5"/>
<circle cx="439.3" cy="116.5" r="1.4" fill="#FFD21F" stroke="#222" stroke-width="0.5"/>
<circle cx="466" cy="122.4" r="2.3" fill="#FFD21F" stroke="#222" stroke-width="0.5"/>
<circle cx="473.5" cy="135.7" r="1.4" fill="#FFD21F" stroke="#222" stroke-width="0.5"/>
<circle cx="476.7" cy="152.8" r="2.4" fill="#FFD21F" stroke="#222" stroke-width="0.5"/>
<circle cx="477.5" cy="163.2" r="1.6" fill="#FFD21F" stroke="#222" stroke-width="0.5"/>
<circle cx="378.8" cy="153.9" r="1.6" fill="#FFD21F" stroke="#222" stroke-width="0.5"/>
<rect x="456.7" y="16.2" width="20.5" height="7.6" fill="#fff" stroke="#333" stroke-width="0.6" rx="1.2"/>
<text transform="translate(466.95 22.4) scale(0.9 1)" font-size="7" fill="#1a1a1a" text-anchor="middle">CCL3</text>
<rect x="508.2" y="58.8" width="21.3" height="7.8" fill="#fff" stroke="#333" stroke-width="0.6" rx="1.2"/>
<text transform="translate(518.85 65.1) scale(0.9 1)" font-size="7" fill="#1a1a1a" text-anchor="middle">CCL4</text>
<rect x="431.9" y="66.1" width="28.8" height="7.3" fill="#fff" stroke="#333" stroke-width="0.6" rx="1.2"/>
<text transform="translate(446.3 72.15) scale(0.9 1)" font-size="7" fill="#1a1a1a" text-anchor="middle">CXCL11</text>
<rect x="486.6" y="93.5" width="16.9" height="7.7" fill="#fff" stroke="#333" stroke-width="0.6" rx="1.2"/>
<text transform="translate(495.05 99.75) scale(0.9 1)" font-size="7" fill="#1a1a1a" text-anchor="middle">TNF</text>
<rect x="540.1" y="90" width="29.5" height="7.8" fill="#fff" stroke="#333" stroke-width="0.6" rx="1.2"/>
<text transform="translate(554.85 96.3) scale(0.9 1)" font-size="7" fill="#1a1a1a" text-anchor="middle">ICOSLG</text>
<rect x="529.2" y="124" width="17.6" height="7.6" fill="#fff" stroke="#333" stroke-width="0.6" rx="1.2"/>
<text transform="translate(538 130.2) scale(0.9 1)" font-size="7" fill="#1a1a1a" text-anchor="middle">CD5</text>
<text transform="translate(609 33.5)" font-size="8.3" fill="#1a1a1a" text-anchor="start">Range of factor</text>
<line x1="619.7" y1="38" x2="619.7" y2="105.7" stroke="#333" stroke-width="0.6"/>
<circle cx="614.2" cy="43.1" r="1.2" fill="none" stroke="#222" stroke-width="0.5"/>
<text transform="translate(622.7 50.2)" font-size="8.3" fill="#1a1a1a" text-anchor="start">1.0</text>
<circle cx="614.2" cy="52.7" r="1.6" fill="none" stroke="#222" stroke-width="0.5"/>
<text transform="translate(622.7 59.8)" font-size="8.3" fill="#1a1a1a" text-anchor="start">2.5</text>
<circle cx="614.2" cy="62.3" r="2.1" fill="none" stroke="#222" stroke-width="0.5"/>
<text transform="translate(622.7 69.4)" font-size="8.3" fill="#1a1a1a" text-anchor="start">4.0</text>
<circle cx="614.2" cy="71.9" r="2.6" fill="none" stroke="#222" stroke-width="0.5"/>
<text transform="translate(622.7 79)" font-size="8.3" fill="#1a1a1a" text-anchor="start">5.5</text>
<circle cx="614.2" cy="81.5" r="3.1" fill="none" stroke="#222" stroke-width="0.5"/>
<text transform="translate(622.7 88.6)" font-size="8.3" fill="#1a1a1a" text-anchor="start">7.0</text>
<circle cx="614.2" cy="91.1" r="3.6" fill="none" stroke="#222" stroke-width="0.5"/>
<text transform="translate(622.7 98.2)" font-size="8.3" fill="#1a1a1a" text-anchor="start">8.5</text>
<circle cx="614.2" cy="100.7" r="4.1" fill="none" stroke="#222" stroke-width="0.5"/>
<text transform="translate(609 124.5)" font-size="8.3" fill="#1a1a1a" text-anchor="start">Impact on PFS</text>
<text transform="translate(609 133.2)" font-size="8.3" fill="#1a1a1a" text-anchor="start">when increasing</text>
<circle cx="614.2" cy="142.3" r="3.4" fill="#FFD21F" stroke="#222" stroke-width="0.5"/>
<text transform="translate(622.9 145)" font-size="8.3" fill="#1a1a1a" text-anchor="start">Shorter PFS</text>
<circle cx="614.2" cy="152" r="3.4" fill="#16C25C" stroke="#222" stroke-width="0.5"/>
<text transform="translate(622.9 154.7)" font-size="8.3" fill="#1a1a1a" text-anchor="start">Longer PFS</text>
<text transform="translate(1.8 248.8)" font-size="15.5" fill="#000" text-anchor="start">C</text>
<line x1="30.3" y1="243" x2="266.2" y2="243" stroke="#e8e8e8" stroke-width="0.7"/>
<line x1="30.3" y1="247.08" x2="266.2" y2="247.08" stroke="#e8e8e8" stroke-width="0.7"/>
<line x1="30.3" y1="251.16" x2="266.2" y2="251.16" stroke="#e8e8e8" stroke-width="0.7"/>
<line x1="30.3" y1="255.24" x2="266.2" y2="255.24" stroke="#e8e8e8" stroke-width="0.7"/>
<line x1="30.3" y1="259.32" x2="266.2" y2="259.32" stroke="#e8e8e8" stroke-width="0.7"/>
<line x1="30.3" y1="263.4" x2="266.2" y2="263.4" stroke="#e8e8e8" stroke-width="0.7"/>
<line x1="30.3" y1="267.48" x2="266.2" y2="267.48" stroke="#e8e8e8" stroke-width="0.7"/>
<line x1="30.3" y1="271.56" x2="266.2" y2="271.56" stroke="#e8e8e8" stroke-width="0.7"/>
<line x1="30.3" y1="275.64" x2="266.2" y2="275.64" stroke="#e8e8e8" stroke-width="0.7"/>
<line x1="30.3" y1="279.72" x2="266.2" y2="279.72" stroke="#e8e8e8" stroke-width="0.7"/>
<line x1="30.3" y1="283.8" x2="266.2" y2="283.8" stroke="#e8e8e8" stroke-width="0.7"/>
<line x1="30.3" y1="287.88" x2="266.2" y2="287.88" stroke="#e8e8e8" stroke-width="0.7"/>
<line x1="30.3" y1="291.96" x2="266.2" y2="291.96" stroke="#e8e8e8" stroke-width="0.7"/>
<line x1="30.3" y1="296.04" x2="266.2" y2="296.04" stroke="#e8e8e8" stroke-width="0.7"/>
<line x1="30.3" y1="300.12" x2="266.2" y2="300.12" stroke="#e8e8e8" stroke-width="0.7"/>
<line x1="30.3" y1="304.2" x2="266.2" y2="304.2" stroke="#e8e8e8" stroke-width="0.7"/>
<line x1="30.3" y1="308.28" x2="266.2" y2="308.28" stroke="#e8e8e8" stroke-width="0.7"/>
<line x1="30.3" y1="312.36" x2="266.2" y2="312.36" stroke="#e8e8e8" stroke-width="0.7"/>
<line x1="30.3" y1="316.44" x2="266.2" y2="316.44" stroke="#e8e8e8" stroke-width="0.7"/>
<line x1="52.6" y1="235.2" x2="52.6" y2="323.2" stroke="#ebebeb" stroke-width="0.6"/>
<line x1="90.8" y1="235.2" x2="90.8" y2="323.2" stroke="#ebebeb" stroke-width="0.6"/>
<line x1="129" y1="235.2" x2="129" y2="323.2" stroke="#ebebeb" stroke-width="0.6"/>
<line x1="167.2" y1="235.2" x2="167.2" y2="323.2" stroke="#ebebeb" stroke-width="0.6"/>
<line x1="205.4" y1="235.2" x2="205.4" y2="323.2" stroke="#ebebeb" stroke-width="0.6"/>
<line x1="243.6" y1="235.2" x2="243.6" y2="323.2" stroke="#ebebeb" stroke-width="0.6"/>
<line x1="30.3" y1="235.2" x2="30.3" y2="323.2" stroke="#333" stroke-width="1"/>
<line x1="28.4" y1="243" x2="30.3" y2="243" stroke="#333" stroke-width="0.6"/>
<text transform="translate(27.7 246) scale(0.92 1)" font-size="8.6" fill="#4d4d4d" text-anchor="end">5.0</text>
<line x1="28.4" y1="263.4" x2="30.3" y2="263.4" stroke="#333" stroke-width="0.6"/>
<text transform="translate(27.7 266.4) scale(0.92 1)" font-size="8.6" fill="#4d4d4d" text-anchor="end">2.5</text>
<line x1="28.4" y1="283.8" x2="30.3" y2="283.8" stroke="#333" stroke-width="0.6"/>
<text transform="translate(27.7 286.8) scale(0.92 1)" font-size="8.6" fill="#4d4d4d" text-anchor="end">0.0</text>
<line x1="28.4" y1="304.2" x2="30.3" y2="304.2" stroke="#333" stroke-width="0.6"/>
<text transform="translate(27.7 307.2) scale(0.92 1)" font-size="8.6" fill="#4d4d4d" text-anchor="end">−2.5</text>
<rect x="266.2" y="235.2" width="13.4" height="88" fill="#ffffff" stroke="#333333" stroke-width="1" rx="1"/>
<text transform="translate(269.48 279.2) rotate(90) scale(0.9 1)" font-size="9.5" fill="#1a1a1a" text-anchor="middle">aPD−1 + vaccine</text>
<text transform="translate(52.6 245.2) scale(0.95 1)" font-size="6.3" fill="#1a1a1a" text-anchor="middle">0.0646</text>
<text transform="translate(90.8 245.2) scale(0.95 1)" font-size="6.3" fill="#1a1a1a" text-anchor="middle">0.0046</text>
<text transform="translate(129 245.2) scale(0.95 1)" font-size="6.3" fill="#1a1a1a" text-anchor="middle">0.0040</text>
<text transform="translate(167.2 245.2) scale(0.95 1)" font-size="6.3" fill="#1a1a1a" text-anchor="middle">0.0046</text>
<text transform="translate(205.4 245.2) scale(0.95 1)" font-size="6.3" fill="#1a1a1a" text-anchor="middle">0.1156</text>
<text transform="translate(243.6 245.2) scale(0.95 1)" font-size="6.3" fill="#1a1a1a" text-anchor="middle">0.0522</text>
<line x1="30.3" y1="335.2" x2="266.2" y2="335.2" stroke="#e8e8e8" stroke-width="0.7"/>
<line x1="30.3" y1="339.28" x2="266.2" y2="339.28" stroke="#e8e8e8" stroke-width="0.7"/>
<line x1="30.3" y1="343.36" x2="266.2" y2="343.36" stroke="#e8e8e8" stroke-width="0.7"/>
<line x1="30.3" y1="347.44" x2="266.2" y2="347.44" stroke="#e8e8e8" stroke-width="0.7"/>
<line x1="30.3" y1="351.52" x2="266.2" y2="351.52" stroke="#e8e8e8" stroke-width="0.7"/>
<line x1="30.3" y1="355.6" x2="266.2" y2="355.6" stroke="#e8e8e8" stroke-width="0.7"/>
<line x1="30.3" y1="359.68" x2="266.2" y2="359.68" stroke="#e8e8e8" stroke-width="0.7"/>
<line x1="30.3" y1="363.76" x2="266.2" y2="363.76" stroke="#e8e8e8" stroke-width="0.7"/>
<line x1="30.3" y1="367.84" x2="266.2" y2="367.84" stroke="#e8e8e8" stroke-width="0.7"/>
<line x1="30.3" y1="371.92" x2="266.2" y2="371.92" stroke="#e8e8e8" stroke-width="0.7"/>
<line x1="30.3" y1="376" x2="266.2" y2="376" stroke="#e8e8e8" stroke-width="0.7"/>
<line x1="30.3" y1="380.08" x2="266.2" y2="380.08" stroke="#e8e8e8" stroke-width="0.7"/>
<line x1="30.3" y1="384.16" x2="266.2" y2="384.16" stroke="#e8e8e8" stroke-width="0.7"/>
<line x1="30.3" y1="388.24" x2="266.2" y2="388.24" stroke="#e8e8e8" stroke-width="0.7"/>
<line x1="30.3" y1="392.32" x2="266.2" y2="392.32" stroke="#e8e8e8" stroke-width="0.7"/>
<line x1="30.3" y1="396.4" x2="266.2" y2="396.4" stroke="#e8e8e8" stroke-width="0.7"/>
<line x1="30.3" y1="400.48" x2="266.2" y2="400.48" stroke="#e8e8e8" stroke-width="0.7"/>
<line x1="30.3" y1="404.56" x2="266.2" y2="404.56" stroke="#e8e8e8" stroke-width="0.7"/>
<line x1="30.3" y1="408.64" x2="266.2" y2="408.64" stroke="#e8e8e8" stroke-width="0.7"/>
<line x1="52.6" y1="327.4" x2="52.6" y2="415.7" stroke="#ebebeb" stroke-width="0.6"/>
<line x1="90.8" y1="327.4" x2="90.8" y2="415.7" stroke="#ebebeb" stroke-width="0.6"/>
<line x1="129" y1="327.4" x2="129" y2="415.7" stroke="#ebebeb" stroke-width="0.6"/>
<line x1="167.2" y1="327.4" x2="167.2" y2="415.7" stroke="#ebebeb" stroke-width="0.6"/>
<line x1="205.4" y1="327.4" x2="205.4" y2="415.7" stroke="#ebebeb" stroke-width="0.6"/>
<line x1="243.6" y1="327.4" x2="243.6" y2="415.7" stroke="#ebebeb" stroke-width="0.6"/>
<line x1="30.3" y1="327.4" x2="30.3" y2="415.7" stroke="#333" stroke-width="1"/>
<line x1="28.4" y1="335.2" x2="30.3" y2="335.2" stroke="#333" stroke-width="0.6"/>
<text transform="translate(27.7 338.2) scale(0.92 1)" font-size="8.6" fill="#4d4d4d" text-anchor="end">5.0</text>
<line x1="28.4" y1="355.6" x2="30.3" y2="355.6" stroke="#333" stroke-width="0.6"/>
<text transform="translate(27.7 358.6) scale(0.92 1)" font-size="8.6" fill="#4d4d4d" text-anchor="end">2.5</text>
<line x1="28.4" y1="376" x2="30.3" y2="376" stroke="#333" stroke-width="0.6"/>
<text transform="translate(27.7 379) scale(0.92 1)" font-size="8.6" fill="#4d4d4d" text-anchor="end">0.0</text>
<line x1="28.4" y1="396.4" x2="30.3" y2="396.4" stroke="#333" stroke-width="0.6"/>
<text transform="translate(27.7 399.4) scale(0.92 1)" font-size="8.6" fill="#4d4d4d" text-anchor="end">−2.5</text>
<rect x="266.2" y="327.4" width="13.4" height="88.3" fill="#ffffff" stroke="#333333" stroke-width="1" rx="1"/>
<text transform="translate(269.48 371.55) rotate(90) scale(0.9 1)" font-size="9.5" fill="#1a1a1a" text-anchor="middle">aPD−1 mono</text>
<text transform="translate(52.6 337.4) scale(0.95 1)" font-size="6.3" fill="#1a1a1a" text-anchor="middle">0.075</text>
<text transform="translate(90.8 337.4) scale(0.95 1)" font-size="6.3" fill="#1a1a1a" text-anchor="middle">0.125</text>
<text transform="translate(129 337.4) scale(0.95 1)" font-size="6.3" fill="#1a1a1a" text-anchor="middle">0.186</text>
<text transform="translate(167.2 337.4) scale(0.95 1)" font-size="6.3" fill="#1a1a1a" text-anchor="middle">0.095</text>
<text transform="translate(205.4 337.4) scale(0.95 1)" font-size="6.3" fill="#1a1a1a" text-anchor="middle">0.138</text>
<text transform="translate(243.6 337.4) scale(0.95 1)" font-size="6.3" fill="#1a1a1a" text-anchor="middle">0.742</text>
<line x1="30.3" y1="415.7" x2="266.2" y2="415.7" stroke="#333" stroke-width="1"/>
<line x1="52.6" y1="415.7" x2="52.6" y2="417.6" stroke="#333" stroke-width="0.6"/>
<text transform="translate(52 427) rotate(-32) scale(0.9 1)" font-size="9.4" fill="#4d4d4d" text-anchor="end">CXCL11</text>
<line x1="90.8" y1="415.7" x2="90.8" y2="417.6" stroke="#333" stroke-width="0.6"/>
<text transform="translate(90.2 427) rotate(-32) scale(0.9 1)" font-size="9.4" fill="#4d4d4d" text-anchor="end">CCL3</text>
<line x1="129" y1="415.7" x2="129" y2="417.6" stroke="#333" stroke-width="0.6"/>
<text transform="translate(128.4 427) rotate(-32) scale(0.9 1)" font-size="9.4" fill="#4d4d4d" text-anchor="end">TNF</text>
<line x1="167.2" y1="415.7" x2="167.2" y2="417.6" stroke="#333" stroke-width="0.6"/>
<text transform="translate(166.6 427) rotate(-32) scale(0.9 1)" font-size="9.4" fill="#4d4d4d" text-anchor="end">CCL4</text>
<line x1="205.4" y1="415.7" x2="205.4" y2="417.6" stroke="#333" stroke-width="0.6"/>
<text transform="translate(204.8 427) rotate(-32) scale(0.9 1)" font-size="9.4" fill="#4d4d4d" text-anchor="end">CD5</text>
<line x1="243.6" y1="415.7" x2="243.6" y2="417.6" stroke="#333" stroke-width="0.6"/>
<text transform="translate(243 427) rotate(-32) scale(0.9 1)" font-size="9.4" fill="#4d4d4d" text-anchor="end">ICOSLG</text>
<text transform="translate(148.5 451.2) scale(0.95 1)" font-size="8.6" fill="#1a1a1a" text-anchor="middle">Protein</text>
<text transform="translate(10.6 321) rotate(-90) scale(0.95 1)" font-size="9.4" fill="#1a1a1a" text-anchor="middle">Change from baseline to 6w (npx)</text>
<polygon points="44.1,272.4 44.88,272.58 45.71,272.77 46.53,272.95 47.32,273.13 48.02,273.32 48.6,273.5 49.24,273.75 49.79,274 50.27,274.25 50.67,274.5 51.01,274.75 51.3,275 51.64,275.33 51.91,275.67 52.13,276 52.29,276.33 52.38,276.67 52.4,277 52.34,277.33 52.21,277.67 52.01,278 51.75,278.33 51.44,278.67 51.1,279 50.69,279.33 50.21,279.67 49.68,280 49.13,280.33 48.59,280.67 48.1,281 47.65,281.33 47.22,281.67 46.81,282 46.4,282.33 46,282.67 45.6,283 45.34,283.22 45.09,283.43 44.84,283.65 44.59,283.87 44.35,284.08 44.1,284.3 44.1,284.3 43.85,284.08 43.61,283.87 43.36,283.65 43.11,283.43 42.86,283.22 42.6,283 42.2,282.67 41.8,282.33 41.39,282 40.98,281.67 40.55,281.33 40.1,281 39.61,280.67 39.07,280.33 38.52,280 37.99,279.67 37.51,279.33 37.1,279 36.76,278.67 36.45,278.33 36.19,278 35.99,277.67 35.86,277.33 35.8,277 35.82,276.67 35.91,276.33 36.07,276 36.29,275.67 36.56,275.33 36.9,275 37.19,274.75 37.53,274.5 37.93,274.25 38.41,274 38.96,273.75 39.6,273.5 40.18,273.32 40.88,273.13 41.67,272.95 42.49,272.77 43.32,272.58 44.1,272.4" fill="#F8766D" stroke="#222" stroke-width="0.55" stroke-linejoin="round"/>
<g fill="#000"><circle cx="44.1" cy="272.5" r="1.3"/><circle cx="44.1" cy="274" r="1.3"/><circle cx="44.1" cy="275.5" r="1.3"/><circle cx="44.1" cy="277" r="1.3"/><circle cx="44.1" cy="278.5" r="1.3"/><circle cx="44.1" cy="280" r="1.3"/><circle cx="44.1" cy="284.3" r="1.3"/></g>
<polygon points="61.1,272.9 61.44,273.08 61.8,273.27 62.15,273.45 62.49,273.63 62.81,273.82 63.1,274 63.57,274.33 64.01,274.67 64.44,275 64.84,275.33 65.22,275.67 65.6,276 66.06,276.42 66.51,276.83 66.94,277.25 67.35,277.67 67.74,278.08 68.1,278.5 68.43,278.88 68.77,279.27 69.08,279.65 69.34,280.03 69.52,280.42 69.6,280.8 69.57,281.17 69.45,281.53 69.26,281.9 68.99,282.27 68.67,282.63 68.3,283 67.91,283.33 67.47,283.67 66.96,284 66.4,284.33 65.78,284.67 65.1,285 64.55,285.23 63.92,285.47 63.23,285.7 62.51,285.93 61.79,286.17 61.1,286.4 61.1,286.4 60.41,286.17 59.69,285.93 58.97,285.7 58.28,285.47 57.65,285.23 57.1,285 56.42,284.67 55.8,284.33 55.24,284 54.73,283.67 54.29,283.33 53.9,283 53.53,282.63 53.21,282.27 52.94,281.9 52.75,281.53 52.63,281.17 52.6,280.8 52.68,280.42 52.86,280.03 53.12,279.65 53.43,279.27 53.77,278.88 54.1,278.5 54.46,278.08 54.85,277.67 55.26,277.25 55.69,276.83 56.14,276.42 56.6,276 56.98,275.67 57.36,275.33 57.76,275 58.19,274.67 58.63,274.33 59.1,274 59.39,273.82 59.71,273.63 60.05,273.45 60.4,273.27 60.76,273.08 61.1,272.9" fill="#619CFF" stroke="#222" stroke-width="0.55" stroke-linejoin="round"/>
<g fill="#000"><circle cx="61.1" cy="273" r="1.3"/><circle cx="61.1" cy="275" r="1.3"/><circle cx="61.1" cy="277" r="1.3"/><circle cx="61.1" cy="279" r="1.3"/><circle cx="61.1" cy="281" r="1.3"/><circle cx="61.1" cy="283" r="1.3"/><circle cx="61.1" cy="285.5" r="1.3"/></g>
<polygon points="86.7,266.3 86.88,267.25 87.05,268.2 87.23,269.15 87.41,270.1 87.59,271.05 87.8,272 88.12,273.33 88.48,274.67 88.84,276 89.2,277.33 89.52,278.67 89.8,280 90.1,281.6 90.39,283.2 90.65,284.8 90.87,286.4 91.01,288 91.06,289.6 91.01,290.67 90.88,291.73 90.68,292.8 90.43,293.87 90.13,294.93 89.8,296 89.38,297.17 88.9,298.33 88.37,299.5 87.82,300.67 87.29,301.83 86.8,303 86.36,304.17 85.94,305.33 85.53,306.5 85.13,307.67 84.73,308.83 84.3,310 83.98,310.83 83.65,311.67 83.32,312.5 82.98,313.33 82.64,314.17 82.3,315 82.3,315 81.96,314.17 81.62,313.33 81.28,312.5 80.95,311.67 80.62,310.83 80.3,310 79.87,308.83 79.47,307.67 79.07,306.5 78.66,305.33 78.24,304.17 77.8,303 77.31,301.83 76.78,300.67 76.23,299.5 75.7,298.33 75.22,297.17 74.8,296 74.47,294.93 74.17,293.87 73.92,292.8 73.72,291.73 73.59,290.67 73.54,289.6 73.59,288 73.73,286.4 73.95,284.8 74.21,283.2 74.5,281.6 74.8,280 75.08,278.67 75.4,277.33 75.76,276 76.12,274.67 76.48,273.33 76.8,272 77.01,271.05 77.19,270.1 77.37,269.15 77.55,268.2 77.72,267.25 77.9,266.3" fill="#F8766D" stroke="#222" stroke-width="0.55" stroke-linejoin="round"/>
<g fill="#000"><circle cx="82.3" cy="266.3" r="1.3"/><circle cx="82.3" cy="267.5" r="1.3"/><circle cx="82.3" cy="271" r="1.3"/><circle cx="82.3" cy="277" r="1.3"/><circle cx="82.3" cy="282" r="1.3"/><circle cx="82.3" cy="285" r="1.3"/><circle cx="82.3" cy="289" r="1.3"/><circle cx="82.3" cy="295" r="1.3"/><circle cx="82.3" cy="299" r="1.3"/><circle cx="82.3" cy="315" r="1.3"/></g>
<polygon points="100.1,238.8 100.16,239.5 100.23,240.2 100.29,240.9 100.35,241.6 100.42,242.3 100.5,243 100.57,243.75 100.63,244.5 100.69,245.25 100.77,246 100.9,246.75 101.1,247.5 101.54,248.75 102.05,250 102.6,251.25 103.18,252.5 103.75,253.75 104.3,255 104.74,256 105.19,257 105.64,258 106.07,259 106.46,260 106.8,261 107.08,261.97 107.33,262.93 107.54,263.9 107.71,264.87 107.83,265.83 107.9,266.8 107.91,267.67 107.85,268.53 107.75,269.4 107.62,270.27 107.46,271.13 107.3,272 107.08,273 106.83,274 106.55,275 106.27,276 106.01,277 105.8,278 105.57,279.33 105.38,280.67 105.2,282 105.04,283.33 104.87,284.67 104.7,286 93.9,286 93.73,284.67 93.56,283.33 93.4,282 93.22,280.67 93.03,279.33 92.8,278 92.59,277 92.33,276 92.05,275 91.77,274 91.52,273 91.3,272 91.14,271.13 90.98,270.27 90.85,269.4 90.75,268.53 90.69,267.67 90.7,266.8 90.77,265.83 90.89,264.87 91.06,263.9 91.27,262.93 91.52,261.97 91.8,261 92.14,260 92.53,259 92.96,258 93.41,257 93.86,256 94.3,255 94.85,253.75 95.42,252.5 96,251.25 96.55,250 97.06,248.75 97.5,247.5 97.7,246.75 97.83,246 97.91,245.25 97.97,244.5 98.03,243.75 98.1,243 98.18,242.3 98.25,241.6 98.31,240.9 98.37,240.2 98.44,239.5 98.5,238.8" fill="#619CFF" stroke="#222" stroke-width="0.55" stroke-linejoin="round"/>
<g fill="#000"><circle cx="99.3" cy="238.8" r="1.3"/><circle cx="99.3" cy="252" r="1.3"/><circle cx="99.3" cy="257" r="1.3"/><circle cx="99.3" cy="260" r="1.3"/><circle cx="99.3" cy="263" r="1.3"/><circle cx="99.3" cy="267" r="1.3"/><circle cx="99.3" cy="270" r="1.3"/><circle cx="99.3" cy="274" r="1.3"/><circle cx="99.3" cy="279" r="1.3"/><circle cx="99.3" cy="283" r="1.3"/><circle cx="99.3" cy="286" r="1.3"/></g>
<polygon points="129,277.7 128.85,278.42 128.73,279.13 128.61,279.85 128.46,280.57 128.26,281.28 128,282 127.59,282.83 127.09,283.67 126.54,284.5 125.99,285.33 125.46,286.17 125,287 124.59,287.83 124.21,288.67 123.85,289.5 123.53,290.33 123.24,291.17 123,292 122.83,292.77 122.72,293.53 122.65,294.3 122.6,295.07 122.55,295.83 122.5,296.6 122.43,297.5 122.38,298.4 122.33,299.3 122.29,300.2 122.25,301.1 122.2,302 122.15,303 122.11,304 122.07,305 122.02,306 121.97,307 121.9,308 121.82,308.95 121.72,309.9 121.62,310.85 121.51,311.8 121.4,312.75 121.3,313.7 119.7,313.7 119.6,312.75 119.49,311.8 119.38,310.85 119.28,309.9 119.18,308.95 119.1,308 119.03,307 118.98,306 118.93,305 118.89,304 118.85,303 118.8,302 118.75,301.1 118.71,300.2 118.67,299.3 118.62,298.4 118.57,297.5 118.5,296.6 118.45,295.83 118.4,295.07 118.35,294.3 118.28,293.53 118.17,292.77 118,292 117.76,291.17 117.47,290.33 117.15,289.5 116.79,288.67 116.41,287.83 116,287 115.54,286.17 115.01,285.33 114.46,284.5 113.91,283.67 113.41,282.83 113,282 112.74,281.28 112.54,280.57 112.39,279.85 112.27,279.13 112.15,278.42 112,277.7" fill="#F8766D" stroke="#222" stroke-width="0.55" stroke-linejoin="round"/>
<g fill="#000"><circle cx="120.5" cy="278" r="1.3"/><circle cx="120.5" cy="279" r="1.3"/><circle cx="120.5" cy="280.5" r="1.3"/><circle cx="120.5" cy="282" r="1.3"/><circle cx="120.5" cy="287" r="1.3"/><circle cx="120.5" cy="296.6" r="1.3"/><circle cx="120.5" cy="313.7" r="1.3"/></g>
<polygon points="141.4,246.3 141.5,247.25 141.6,248.2 141.69,249.15 141.79,250.1 141.89,251.05 142,252 142.16,253.33 142.32,254.67 142.49,256 142.66,257.33 142.83,258.67 143,260 143.16,261.33 143.32,262.67 143.47,264 143.63,265.33 143.81,266.67 144,268 144.2,269.17 144.42,270.33 144.65,271.5 144.89,272.67 145.11,273.83 145.3,275 145.42,275.83 145.52,276.67 145.61,277.5 145.68,278.33 145.75,279.17 145.8,280 145.82,280.57 145.83,281.13 145.83,281.7 145.81,282.27 145.8,282.83 145.8,283.4 129.2,283.4 129.2,282.83 129.19,282.27 129.17,281.7 129.17,281.13 129.18,280.57 129.2,280 129.25,279.17 129.32,278.33 129.39,277.5 129.48,276.67 129.58,275.83 129.7,275 129.89,273.83 130.11,272.67 130.35,271.5 130.58,270.33 130.8,269.17 131,268 131.19,266.67 131.37,265.33 131.53,264 131.68,262.67 131.84,261.33 132,260 132.17,258.67 132.34,257.33 132.51,256 132.68,254.67 132.84,253.33 133,252 133.11,251.05 133.21,250.1 133.31,249.15 133.4,248.2 133.5,247.25 133.6,246.3" fill="#619CFF" stroke="#222" stroke-width="0.55" stroke-linejoin="round"/>
<g fill="#000"><circle cx="137.5" cy="246.3" r="1.3"/><circle cx="137.5" cy="248" r="1.3"/><circle cx="137.5" cy="250" r="1.3"/><circle cx="137.5" cy="261" r="1.3"/><circle cx="137.5" cy="264" r="1.3"/><circle cx="137.5" cy="267" r="1.3"/><circle cx="137.5" cy="276" r="1.3"/><circle cx="137.5" cy="280" r="1.3"/><circle cx="137.5" cy="283" r="1.3"/></g>
<polygon points="158.7,274.7 159.41,274.83 160.17,274.97 160.93,275.1 161.64,275.23 162.25,275.37 162.7,275.5 163.54,275.83 164.27,276.17 164.91,276.5 165.44,276.83 165.87,277.17 166.2,277.5 166.65,278.08 166.99,278.67 167.23,279.25 167.38,279.83 167.43,280.42 167.4,281 167.23,281.67 166.92,282.33 166.53,283 166.08,283.67 165.62,284.33 165.2,285 164.79,285.67 164.35,286.33 163.91,287 163.47,287.67 163.06,288.33 162.7,289 162.47,289.5 162.27,290 162.09,290.5 161.94,291 161.81,291.5 161.7,292 161.58,292.67 161.5,293.33 161.44,294 161.38,294.67 161.3,295.33 161.2,296 161.08,296.67 160.95,297.33 160.81,298 160.65,298.67 160.45,299.33 160.2,300 160.02,300.35 159.79,300.7 159.53,301.05 159.25,301.4 158.96,301.75 158.7,302.1 158.7,302.1 158.44,301.75 158.15,301.4 157.87,301.05 157.61,300.7 157.38,300.35 157.2,300 156.95,299.33 156.75,298.67 156.59,298 156.45,297.33 156.32,296.67 156.2,296 156.1,295.33 156.02,294.67 155.96,294 155.9,293.33 155.82,292.67 155.7,292 155.59,291.5 155.46,291 155.31,290.5 155.13,290 154.93,289.5 154.7,289 154.34,288.33 153.93,287.67 153.49,287 153.05,286.33 152.61,285.67 152.2,285 151.78,284.33 151.32,283.67 150.87,283 150.48,282.33 150.17,281.67 150,281 149.97,280.42 150.02,279.83 150.17,279.25 150.41,278.67 150.75,278.08 151.2,277.5 151.53,277.17 151.96,276.83 152.49,276.5 153.13,276.17 153.86,275.83 154.7,275.5 155.15,275.37 155.76,275.23 156.47,275.1 157.23,274.97 157.99,274.83 158.7,274.7" fill="#F8766D" stroke="#222" stroke-width="0.55" stroke-linejoin="round"/>
<g fill="#000"><circle cx="158.7" cy="274.7" r="1.3"/><circle cx="158.7" cy="278" r="1.3"/><circle cx="158.7" cy="281" r="1.3"/><circle cx="158.7" cy="284" r="1.3"/><circle cx="158.7" cy="287" r="1.3"/><circle cx="158.7" cy="290" r="1.3"/><circle cx="158.7" cy="293" r="1.3"/><circle cx="158.7" cy="295.5" r="1.3"/><circle cx="158.7" cy="302" r="1.3"/></g>
<polygon points="175.7,251.9 176.05,252.25 176.43,252.6 176.8,252.95 177.15,253.3 177.46,253.65 177.7,254 178.04,254.67 178.31,255.33 178.54,256 178.74,256.67 178.96,257.33 179.2,258 179.62,259 180.07,260 180.53,261 180.97,262 181.36,263 181.7,264 182.18,265.63 182.63,267.27 183.05,268.9 183.41,270.53 183.7,272.17 183.9,273.8 183.94,274.83 183.89,275.87 183.76,276.9 183.59,277.93 183.39,278.97 183.2,280 183,281.03 182.76,282.07 182.5,283.1 182.23,284.13 181.96,285.17 181.7,286.2 169.7,286.2 169.44,285.17 169.17,284.13 168.9,283.1 168.64,282.07 168.4,281.03 168.2,280 168.01,278.97 167.81,277.93 167.64,276.9 167.51,275.87 167.46,274.83 167.5,273.8 167.7,272.17 167.99,270.53 168.35,268.9 168.77,267.27 169.22,265.63 169.7,264 170.04,263 170.43,262 170.87,261 171.33,260 171.78,259 172.2,258 172.44,257.33 172.66,256.67 172.86,256 173.09,255.33 173.36,254.67 173.7,254 173.94,253.65 174.25,253.3 174.6,252.95 174.97,252.6 175.35,252.25 175.7,251.9" fill="#619CFF" stroke="#222" stroke-width="0.55" stroke-linejoin="round"/>
<g fill="#000"><circle cx="175.7" cy="252" r="1.3"/><circle cx="175.7" cy="259" r="1.3"/><circle cx="175.7" cy="262" r="1.3"/><circle cx="175.7" cy="265" r="1.3"/><circle cx="175.7" cy="268" r="1.3"/><circle cx="175.7" cy="272" r="1.3"/><circle cx="175.7" cy="275" r="1.3"/><circle cx="175.7" cy="279" r="1.3"/><circle cx="175.7" cy="282" r="1.3"/><circle cx="175.7" cy="285.5" r="1.3"/></g>
<polygon points="197.2,279.3 197.56,279.5 197.91,279.7 198.26,279.9 198.62,280.1 198.99,280.3 199.4,280.5 199.96,280.75 200.55,281 201.17,281.25 201.78,281.5 202.37,281.75 202.9,282 203.4,282.25 203.89,282.5 204.35,282.75 204.77,283 205.12,283.25 205.4,283.5 205.53,283.7 205.56,283.9 205.54,284.1 205.48,284.3 205.43,284.5 205.4,284.7 188.4,284.7 188.37,284.5 188.32,284.3 188.26,284.1 188.24,283.9 188.27,283.7 188.4,283.5 188.68,283.25 189.03,283 189.45,282.75 189.91,282.5 190.4,282.25 190.9,282 191.43,281.75 192.02,281.5 192.63,281.25 193.25,281 193.84,280.75 194.4,280.5 194.81,280.3 195.18,280.1 195.54,279.9 195.89,279.7 196.24,279.5 196.6,279.3" fill="#F8766D" stroke="#222" stroke-width="0.55" stroke-linejoin="round"/>
<g fill="#000"><circle cx="196.9" cy="279.5" r="1.3"/><circle cx="196.9" cy="281" r="1.3"/><circle cx="196.9" cy="282.5" r="1.3"/><circle cx="196.9" cy="284" r="1.3"/></g>
<polygon points="214.2,277.1 214.65,277.42 215.09,277.73 215.54,278.05 215.99,278.37 216.44,278.68 216.9,279 217.4,279.33 217.91,279.67 218.42,280 218.93,280.33 219.43,280.67 219.9,281 220.37,281.33 220.85,281.67 221.31,282 221.74,282.33 222.11,282.67 222.4,283 222.52,283.23 222.55,283.47 222.53,283.7 222.48,283.93 222.42,284.17 222.4,284.4 205.4,284.4 205.38,284.17 205.32,283.93 205.27,283.7 205.25,283.47 205.28,283.23 205.4,283 205.69,282.67 206.06,282.33 206.49,282 206.95,281.67 207.43,281.33 207.9,281 208.37,280.67 208.87,280.33 209.38,280 209.89,279.67 210.4,279.33 210.9,279 211.36,278.68 211.81,278.37 212.26,278.05 212.71,277.73 213.15,277.42 213.6,277.1" fill="#619CFF" stroke="#222" stroke-width="0.55" stroke-linejoin="round"/>
<g fill="#000"><circle cx="213.9" cy="277.5" r="1.3"/><circle cx="213.9" cy="279" r="1.3"/><circle cx="213.9" cy="281" r="1.3"/><circle cx="213.9" cy="282.5" r="1.3"/><circle cx="213.9" cy="284" r="1.3"/></g>
<polygon points="235.6,282 236.34,282.25 237.08,282.5 237.81,282.75 238.56,283 239.32,283.25 240.1,283.5 240.7,283.67 241.38,283.83 242.08,284 242.73,284.17 243.26,284.33 243.6,284.5 243.76,284.7 243.75,284.9 243.62,285.1 243.42,285.3 243.23,285.5 243.1,285.7 227.1,285.7 226.97,285.5 226.78,285.3 226.58,285.1 226.45,284.9 226.44,284.7 226.6,284.5 226.94,284.33 227.47,284.17 228.12,284 228.82,283.83 229.5,283.67 230.1,283.5 230.88,283.25 231.64,283 232.39,282.75 233.12,282.5 233.86,282.25 234.6,282" fill="#F8766D" stroke="#222" stroke-width="0.55" stroke-linejoin="round"/>
<g fill="#000"><circle cx="235.1" cy="282.5" r="1.3"/><circle cx="235.1" cy="284" r="1.3"/><circle cx="235.1" cy="285.5" r="1.3"/></g>
<polygon points="252.4,278.4 252.77,278.67 253.14,278.93 253.51,279.2 253.88,279.47 254.25,279.73 254.6,280 255.02,280.33 255.41,280.67 255.8,281 256.19,281.33 256.62,281.67 257.1,282 257.67,282.33 258.34,282.67 259.04,283 259.71,283.33 260.28,283.67 260.7,284 260.79,284.18 260.75,284.37 260.61,284.55 260.42,284.73 260.24,284.92 260.1,285.1 244.1,285.1 243.96,284.92 243.78,284.73 243.59,284.55 243.45,284.37 243.41,284.18 243.5,284 243.92,283.67 244.49,283.33 245.16,283 245.86,282.67 246.53,282.33 247.1,282 247.58,281.67 248.01,281.33 248.4,281 248.79,280.67 249.18,280.33 249.6,280 249.95,279.73 250.32,279.47 250.69,279.2 251.06,278.93 251.43,278.67 251.8,278.4" fill="#619CFF" stroke="#222" stroke-width="0.55" stroke-linejoin="round"/>
<g fill="#000"><circle cx="252.1" cy="279" r="1.3"/><circle cx="252.1" cy="281" r="1.3"/><circle cx="252.1" cy="283" r="1.3"/><circle cx="252.1" cy="285" r="1.3"/></g>
<polygon points="48,360.9 48.18,361.42 48.35,361.93 48.52,362.45 48.7,362.97 48.89,363.48 49.1,364 49.42,364.67 49.77,365.33 50.14,366 50.5,366.67 50.83,367.33 51.1,368 51.41,368.87 51.69,369.73 51.95,370.6 52.16,371.47 52.31,372.33 52.4,373.2 52.42,373.83 52.41,374.47 52.34,375.1 52.2,375.73 51.96,376.37 51.6,377 51.27,377.45 50.86,377.9 50.35,378.35 49.73,378.8 48.99,379.25 48.1,379.7 47.7,379.83 47.11,379.97 46.39,380.1 45.6,380.23 44.82,380.37 44.1,380.5 44.1,380.5 43.38,380.37 42.6,380.23 41.81,380.1 41.09,379.97 40.5,379.83 40.1,379.7 39.21,379.25 38.47,378.8 37.85,378.35 37.34,377.9 36.93,377.45 36.6,377 36.24,376.37 36,375.73 35.86,375.1 35.79,374.47 35.78,373.83 35.8,373.2 35.89,372.33 36.04,371.47 36.25,370.6 36.51,369.73 36.79,368.87 37.1,368 37.37,367.33 37.7,366.67 38.06,366 38.43,365.33 38.78,364.67 39.1,364 39.31,363.48 39.5,362.97 39.68,362.45 39.85,361.93 40.02,361.42 40.2,360.9" fill="#F8766D" stroke="#222" stroke-width="0.55" stroke-linejoin="round"/>
<g fill="#000"><circle cx="44.1" cy="361" r="1.3"/><circle cx="44.1" cy="363" r="1.3"/><circle cx="44.1" cy="365" r="1.3"/><circle cx="44.1" cy="367" r="1.3"/><circle cx="44.1" cy="369" r="1.3"/><circle cx="44.1" cy="371" r="1.3"/><circle cx="44.1" cy="373" r="1.3"/><circle cx="44.1" cy="376" r="1.3"/><circle cx="44.1" cy="379.7" r="1.3"/></g>
<polygon points="61.6,353.9 61.86,354.25 62.13,354.6 62.41,354.95 62.67,355.3 62.9,355.65 63.1,356 63.4,356.67 63.66,357.33 63.9,358 64.12,358.67 64.35,359.33 64.6,360 65,361 65.4,362 65.81,363 66.22,364 66.65,365 67.1,366 67.53,366.82 68.04,367.63 68.56,368.45 69.04,369.27 69.4,370.08 69.6,370.9 69.58,371.57 69.39,372.23 69.09,372.9 68.74,373.57 68.4,374.23 68.1,374.9 54.1,374.9 53.8,374.23 53.46,373.57 53.11,372.9 52.81,372.23 52.62,371.57 52.6,370.9 52.8,370.08 53.16,369.27 53.64,368.45 54.16,367.63 54.67,366.82 55.1,366 55.55,365 55.98,364 56.39,363 56.8,362 57.2,361 57.6,360 57.85,359.33 58.08,358.67 58.3,358 58.54,357.33 58.8,356.67 59.1,356 59.3,355.65 59.53,355.3 59.79,354.95 60.07,354.6 60.34,354.25 60.6,353.9" fill="#619CFF" stroke="#222" stroke-width="0.55" stroke-linejoin="round"/>
<g fill="#000"><circle cx="61.1" cy="354" r="1.3"/><circle cx="61.1" cy="358" r="1.3"/><circle cx="61.1" cy="360" r="1.3"/><circle cx="61.1" cy="363" r="1.3"/><circle cx="61.1" cy="366" r="1.3"/><circle cx="61.1" cy="368" r="1.3"/><circle cx="61.1" cy="371" r="1.3"/><circle cx="61.1" cy="374" r="1.3"/></g>
<polygon points="82.8,356.5 83.14,356.92 83.5,357.33 83.86,357.75 84.21,358.17 84.52,358.58 84.8,359 85.28,359.83 85.72,360.67 86.14,361.5 86.54,362.33 86.92,363.17 87.3,364 87.76,365 88.22,366 88.66,367 89.08,368 89.47,369 89.8,370 90.09,370.97 90.37,371.93 90.6,372.9 90.78,373.87 90.89,374.83 90.9,375.8 90.8,376.83 90.61,377.87 90.35,378.9 90.03,379.93 89.67,380.97 89.3,382 88.78,383.33 88.19,384.67 87.56,386 86.93,387.33 86.34,388.67 85.8,390 85.44,391 85.11,392 84.81,393 84.54,394 84.31,395 84.1,396 83.93,397.02 83.81,398.03 83.72,399.05 83.65,400.07 83.58,401.08 83.5,402.1 83.43,402.92 83.36,403.73 83.3,404.55 83.24,405.37 83.17,406.18 83.1,407 83.02,407.78 82.94,408.57 82.86,409.35 82.77,410.13 82.68,410.92 82.6,411.7 82,411.7 81.92,410.92 81.83,410.13 81.74,409.35 81.66,408.57 81.58,407.78 81.5,407 81.43,406.18 81.36,405.37 81.3,404.55 81.24,403.73 81.17,402.92 81.1,402.1 81.02,401.08 80.95,400.07 80.88,399.05 80.79,398.03 80.67,397.02 80.5,396 80.29,395 80.06,394 79.79,393 79.49,392 79.16,391 78.8,390 78.26,388.67 77.67,387.33 77.04,386 76.41,384.67 75.82,383.33 75.3,382 74.93,380.97 74.57,379.93 74.25,378.9 73.99,377.87 73.8,376.83 73.7,375.8 73.71,374.83 73.82,373.87 74,372.9 74.23,371.93 74.51,370.97 74.8,370 75.13,369 75.52,368 75.94,367 76.38,366 76.84,365 77.3,364 77.68,363.17 78.06,362.33 78.46,361.5 78.88,360.67 79.32,359.83 79.8,359 80.08,358.58 80.39,358.17 80.74,357.75 81.1,357.33 81.46,356.92 81.8,356.5" fill="#F8766D" stroke="#222" stroke-width="0.55" stroke-linejoin="round"/>
<g fill="#000"><circle cx="82.3" cy="357" r="1.3"/><circle cx="82.3" cy="367" r="1.3"/><circle cx="82.3" cy="374" r="1.3"/><circle cx="82.3" cy="376" r="1.3"/><circle cx="82.3" cy="384" r="1.3"/><circle cx="82.3" cy="390" r="1.3"/><circle cx="82.3" cy="395" r="1.3"/><circle cx="82.3" cy="412" r="1.3"/></g>
<polygon points="104.6,339.9 104.71,341.58 104.81,343.27 104.92,344.95 105.03,346.63 105.15,348.32 105.3,350 105.47,351.67 105.68,353.33 105.89,355 106.11,356.67 106.32,358.33 106.5,360 106.8,362.63 107.13,365.27 107.45,367.9 107.72,370.53 107.88,373.17 107.9,375.8 107.77,377.33 107.5,378.87 107.12,380.4 106.69,381.93 106.23,383.47 105.8,385 105.33,386.67 104.83,388.33 104.31,390 103.78,391.67 103.28,393.33 102.8,395 102.35,396.7 101.93,398.4 101.52,400.1 101.11,401.8 100.71,403.5 100.3,405.2 98.3,405.2 97.89,403.5 97.49,401.8 97.08,400.1 96.67,398.4 96.25,396.7 95.8,395 95.32,393.33 94.82,391.67 94.29,390 93.77,388.33 93.27,386.67 92.8,385 92.37,383.47 91.91,381.93 91.48,380.4 91.1,378.87 90.83,377.33 90.7,375.8 90.72,373.17 90.88,370.53 91.15,367.9 91.47,365.27 91.8,362.63 92.1,360 92.28,358.33 92.49,356.67 92.71,355 92.92,353.33 93.13,351.67 93.3,350 93.45,348.32 93.57,346.63 93.68,344.95 93.79,343.27 93.89,341.58 94,339.9" fill="#619CFF" stroke="#222" stroke-width="0.55" stroke-linejoin="round"/>
<g fill="#000"><circle cx="99.3" cy="340" r="1.3"/><circle cx="99.3" cy="344" r="1.3"/><circle cx="99.3" cy="348" r="1.3"/><circle cx="99.3" cy="353" r="1.3"/><circle cx="99.3" cy="367" r="1.3"/><circle cx="99.3" cy="373" r="1.3"/><circle cx="99.3" cy="375" r="1.3"/><circle cx="99.3" cy="380" r="1.3"/><circle cx="99.3" cy="393" r="1.3"/><circle cx="99.3" cy="405" r="1.3"/></g>
<polygon points="120.8,350.4 120.8,352 120.78,353.6 120.76,355.2 120.76,356.8 120.8,358.4 120.9,360 120.96,360.83 121.03,361.67 121.14,362.5 121.32,363.33 121.6,364.17 122,365 122.39,365.5 122.94,366 123.59,366.5 124.28,367 124.93,367.5 125.5,368 125.99,368.5 126.46,369 126.91,369.5 127.31,370 127.68,370.5 128,371 128.28,371.5 128.52,372 128.72,372.5 128.87,373 128.97,373.5 129,374 128.99,374.67 128.95,375.33 128.85,376 128.67,376.67 128.4,377.33 128,378 127.43,378.65 126.67,379.3 125.81,379.95 124.93,380.6 124.14,381.25 123.5,381.9 122.99,382.58 122.56,383.27 122.21,383.95 121.92,384.63 121.68,385.32 121.5,386 121.31,387 121.21,388 121.17,389 121.16,390 121.14,391 121.1,392 121.05,392.8 121,393.6 120.95,394.4 120.9,395.2 120.85,396 120.8,396.8 120.2,396.8 120.15,396 120.1,395.2 120.05,394.4 120,393.6 119.95,392.8 119.9,392 119.86,391 119.84,390 119.83,389 119.79,388 119.69,387 119.5,386 119.32,385.32 119.08,384.63 118.79,383.95 118.44,383.27 118.01,382.58 117.5,381.9 116.86,381.25 116.07,380.6 115.19,379.95 114.33,379.3 113.57,378.65 113,378 112.6,377.33 112.33,376.67 112.15,376 112.05,375.33 112.01,374.67 112,374 112.03,373.5 112.13,373 112.28,372.5 112.48,372 112.72,371.5 113,371 113.32,370.5 113.69,370 114.09,369.5 114.54,369 115.01,368.5 115.5,368 116.07,367.5 116.72,367 117.41,366.5 118.06,366 118.61,365.5 119,365 119.4,364.17 119.68,363.33 119.86,362.5 119.97,361.67 120.04,360.83 120.1,360 120.2,358.4 120.24,356.8 120.24,355.2 120.22,353.6 120.2,352 120.2,350.4" fill="#F8766D" stroke="#222" stroke-width="0.55" stroke-linejoin="round"/>
<g fill="#000"><circle cx="120.5" cy="351" r="1.3"/><circle cx="120.5" cy="367.5" r="1.3"/><circle cx="120.5" cy="370" r="1.3"/><circle cx="120.5" cy="372" r="1.3"/><circle cx="120.5" cy="374" r="1.3"/><circle cx="120.5" cy="376" r="1.3"/><circle cx="120.5" cy="378" r="1.3"/><circle cx="120.5" cy="380" r="1.3"/><circle cx="120.5" cy="385" r="1.3"/><circle cx="120.5" cy="397" r="1.3"/></g>
<polygon points="138,338.1 138.42,339.25 138.85,340.4 139.28,341.55 139.7,342.7 140.11,343.85 140.5,345 141.05,346.67 141.61,348.33 142.15,350 142.66,351.67 143.11,353.33 143.5,355 144.04,357.58 144.57,360.17 145.05,362.75 145.44,365.33 145.7,367.92 145.8,370.5 145.68,372.08 145.36,373.67 144.91,375.25 144.4,376.83 143.91,378.42 143.5,380 143.12,381.78 142.77,383.57 142.42,385.35 142.08,387.13 141.74,388.92 141.4,390.7 133.6,390.7 133.26,388.92 132.92,387.13 132.58,385.35 132.23,383.57 131.88,381.78 131.5,380 131.09,378.42 130.6,376.83 130.09,375.25 129.64,373.67 129.32,372.08 129.2,370.5 129.3,367.92 129.56,365.33 129.95,362.75 130.43,360.17 130.96,357.58 131.5,355 131.89,353.33 132.34,351.67 132.85,350 133.39,348.33 133.95,346.67 134.5,345 134.89,343.85 135.3,342.7 135.72,341.55 136.15,340.4 136.58,339.25 137,338.1" fill="#619CFF" stroke="#222" stroke-width="0.55" stroke-linejoin="round"/>
<g fill="#000"><circle cx="137.5" cy="338" r="1.3"/><circle cx="137.5" cy="353" r="1.3"/><circle cx="137.5" cy="358" r="1.3"/><circle cx="137.5" cy="365" r="1.3"/><circle cx="137.5" cy="368" r="1.3"/><circle cx="137.5" cy="372" r="1.3"/><circle cx="137.5" cy="375" r="1.3"/><circle cx="137.5" cy="380" r="1.3"/><circle cx="137.5" cy="387" r="1.3"/><circle cx="137.5" cy="391" r="1.3"/></g>
<polygon points="159,366.1 159,366.58 158.96,367.07 158.93,367.55 158.93,368.03 159,368.52 159.2,369 159.43,369.33 159.76,369.67 160.16,370 160.63,370.33 161.14,370.67 161.7,371 162.2,371.25 162.8,371.5 163.46,371.75 164.11,372 164.71,372.25 165.2,372.5 165.69,372.8 166.15,373.1 166.55,373.4 166.87,373.7 167.1,374 167.2,374.3 167.19,374.75 167.06,375.2 166.83,375.65 166.52,376.1 166.14,376.55 165.7,377 165.17,377.45 164.51,377.9 163.79,378.35 163.05,378.8 162.33,379.25 161.7,379.7 161.19,380.08 160.68,380.47 160.19,380.85 159.77,381.23 159.46,381.62 159.3,382 159.02,383.9 158.91,385.8 158.91,387.7 158.96,389.6 159,391.5 159,393.4 158.4,393.4 158.4,391.5 158.44,389.6 158.49,387.7 158.49,385.8 158.38,383.9 158.1,382 157.94,381.62 157.63,381.23 157.21,380.85 156.72,380.47 156.21,380.08 155.7,379.7 155.07,379.25 154.35,378.8 153.61,378.35 152.89,377.9 152.23,377.45 151.7,377 151.26,376.55 150.88,376.1 150.57,375.65 150.34,375.2 150.21,374.75 150.2,374.3 150.3,374 150.53,373.7 150.85,373.4 151.25,373.1 151.71,372.8 152.2,372.5 152.69,372.25 153.29,372 153.94,371.75 154.6,371.5 155.2,371.25 155.7,371 156.26,370.67 156.77,370.33 157.24,370 157.64,369.67 157.97,369.33 158.2,369 158.4,368.52 158.47,368.03 158.47,367.55 158.44,367.07 158.4,366.58 158.4,366.1" fill="#F8766D" stroke="#222" stroke-width="0.55" stroke-linejoin="round"/>
<g fill="#000"><circle cx="158.7" cy="366" r="1.3"/><circle cx="158.7" cy="372" r="1.3"/><circle cx="158.7" cy="374.5" r="1.3"/><circle cx="158.7" cy="376.5" r="1.3"/><circle cx="158.7" cy="379" r="1.3"/><circle cx="158.7" cy="390" r="1.3"/><circle cx="158.7" cy="393" r="1.3"/></g>
<polygon points="176,344.2 176.38,344.83 176.79,345.47 177.19,346.1 177.57,346.73 177.92,347.37 178.2,348 178.63,349.17 179,350.33 179.33,351.5 179.64,352.67 179.92,353.83 180.2,355 180.57,356.67 180.92,358.33 181.25,360 181.56,361.67 181.88,363.33 182.2,365 182.63,366.85 183.12,368.7 183.61,370.55 184.04,372.4 184.32,374.25 184.4,376.1 184.27,377.25 183.96,378.4 183.51,379.55 182.96,380.7 182.35,381.85 181.7,383 181.17,383.83 180.54,384.67 179.85,385.5 179.12,386.33 178.39,387.17 177.7,388 173.7,388 173.01,387.17 172.28,386.33 171.55,385.5 170.86,384.67 170.23,383.83 169.7,383 169.05,381.85 168.44,380.7 167.89,379.55 167.44,378.4 167.13,377.25 167,376.1 167.08,374.25 167.36,372.4 167.79,370.55 168.28,368.7 168.77,366.85 169.2,365 169.52,363.33 169.84,361.67 170.15,360 170.48,358.33 170.83,356.67 171.2,355 171.48,353.83 171.76,352.67 172.07,351.5 172.4,350.33 172.77,349.17 173.2,348 173.48,347.37 173.83,346.73 174.21,346.1 174.61,345.47 175.02,344.83 175.4,344.2" fill="#619CFF" stroke="#222" stroke-width="0.55" stroke-linejoin="round"/>
<g fill="#000"><circle cx="175.7" cy="344.5" r="1.3"/><circle cx="175.7" cy="356" r="1.3"/><circle cx="175.7" cy="362.5" r="1.3"/><circle cx="175.7" cy="369" r="1.3"/><circle cx="175.7" cy="373.5" r="1.3"/><circle cx="175.7" cy="377" r="1.3"/><circle cx="175.7" cy="380" r="1.3"/></g>
<polygon points="197.9,372.1 198.77,372.33 199.69,372.57 200.6,372.8 201.47,373.03 202.25,373.27 202.9,373.5 203.56,373.78 204.16,374.07 204.66,374.35 205.06,374.63 205.31,374.92 205.4,375.2 205.29,375.5 204.99,375.8 204.56,376.1 204.03,376.4 203.46,376.7 202.9,377 202.32,377.3 201.68,377.6 200.99,377.9 200.29,378.2 199.58,378.5 198.9,378.8 194.9,378.8 194.22,378.5 193.51,378.2 192.81,377.9 192.12,377.6 191.48,377.3 190.9,377 190.34,376.7 189.77,376.4 189.24,376.1 188.81,375.8 188.51,375.5 188.4,375.2 188.49,374.92 188.74,374.63 189.14,374.35 189.64,374.07 190.24,373.78 190.9,373.5 191.55,373.27 192.33,373.03 193.2,372.8 194.11,372.57 195.03,372.33 195.9,372.1" fill="#F8766D" stroke="#222" stroke-width="0.55" stroke-linejoin="round"/>
<g fill="#000"><circle cx="196.9" cy="372.5" r="1.3"/><circle cx="196.9" cy="374" r="1.3"/><circle cx="196.9" cy="375.5" r="1.3"/><circle cx="196.9" cy="377" r="1.3"/><circle cx="196.9" cy="378.5" r="1.3"/></g>
<polygon points="222.4,372.8 222,373.17 221.62,373.53 221.24,373.9 220.84,374.27 220.4,374.63 219.9,375 219.15,375.48 218.34,375.97 217.49,376.45 216.62,376.93 215.75,377.42 214.9,377.9 212.9,377.9 212.05,377.42 211.18,376.93 210.31,376.45 209.46,375.97 208.65,375.48 207.9,375 207.4,374.63 206.96,374.27 206.56,373.9 206.18,373.53 205.8,373.17 205.4,372.8" fill="#619CFF" stroke="#222" stroke-width="0.55" stroke-linejoin="round"/>
<g fill="#000"><circle cx="213.9" cy="373" r="1.3"/><circle cx="213.9" cy="374.5" r="1.3"/><circle cx="213.9" cy="376" r="1.3"/><circle cx="213.9" cy="377.5" r="1.3"/></g>
<polygon points="235.6,373.9 237.12,374.22 238.86,374.53 240.6,374.85 242.12,375.17 243.19,375.48 243.6,375.8 243.19,376.15 242.12,376.5 240.6,376.85 238.86,377.2 237.12,377.55 235.6,377.9 234.6,377.9 233.08,377.55 231.34,377.2 229.6,376.85 228.08,376.5 227.01,376.15 226.6,375.8 227.01,375.48 228.08,375.17 229.6,374.85 231.34,374.53 233.08,374.22 234.6,373.9" fill="#F8766D" stroke="#222" stroke-width="0.55" stroke-linejoin="round"/>
<g fill="#000"><circle cx="235.1" cy="374" r="1.3"/><circle cx="235.1" cy="375.5" r="1.3"/><circle cx="235.1" cy="377.5" r="1.3"/></g>
<polygon points="252.6,373.9 254.14,374.22 255.9,374.53 257.66,374.85 259.2,375.17 260.29,375.48 260.7,375.8 260.29,376.15 259.2,376.5 257.66,376.85 255.9,377.2 254.14,377.55 252.6,377.9 251.6,377.9 250.06,377.55 248.3,377.2 246.54,376.85 245,376.5 243.91,376.15 243.5,375.8 243.91,375.48 245,375.17 246.54,374.85 248.3,374.53 250.06,374.22 251.6,373.9" fill="#619CFF" stroke="#222" stroke-width="0.55" stroke-linejoin="round"/>
<g fill="#000"><circle cx="252.1" cy="374" r="1.3"/><circle cx="252.1" cy="376" r="1.3"/><circle cx="252.1" cy="377.5" r="1.3"/></g>
<text transform="translate(289.6 315.6)" font-size="8.3" fill="#1a1a1a" text-anchor="start">PFS binary</text>
<rect x="290.2" y="321" width="9.4" height="9.8" fill="#F8766D" stroke="#333" stroke-width="0.6"/>
<circle cx="294.9" cy="325.9" r="1.1" fill="#000" stroke="none" stroke-width="0.5"/>
<text transform="translate(303.6 328.9)" font-size="8.3" fill="#1a1a1a" text-anchor="start">PFS short</text>
<rect x="290.2" y="331.9" width="9.4" height="9.8" fill="#619CFF" stroke="#333" stroke-width="0.6"/>
<circle cx="294.9" cy="336.8" r="1.1" fill="#000" stroke="none" stroke-width="0.5"/>
<text transform="translate(303.6 339.8)" font-size="8.3" fill="#1a1a1a" text-anchor="start">PFS long</text>
<text transform="translate(331.8 249.2)" font-size="15.5" fill="#000" text-anchor="start">D</text>
<line x1="422.2" y1="238.9" x2="422.2" y2="418.3" stroke="#ebebeb" stroke-width="0.6"/>
<line x1="452.6" y1="238.9" x2="452.6" y2="418.3" stroke="#ebebeb" stroke-width="0.6"/>
<line x1="483" y1="238.9" x2="483" y2="418.3" stroke="#ebebeb" stroke-width="0.6"/>
<line x1="513.4" y1="238.9" x2="513.4" y2="418.3" stroke="#ebebeb" stroke-width="0.6"/>
<line x1="543.8" y1="238.9" x2="543.8" y2="418.3" stroke="#ebebeb" stroke-width="0.6"/>
<line x1="574.2" y1="238.9" x2="574.2" y2="418.3" stroke="#ebebeb" stroke-width="0.6"/>
<line x1="604.6" y1="238.9" x2="604.6" y2="418.3" stroke="#ebebeb" stroke-width="0.6"/>
<line x1="413.6" y1="243.8" x2="613.6" y2="243.8" stroke="#ebebeb" stroke-width="0.6"/>
<line x1="413.6" y1="252.31" x2="613.6" y2="252.31" stroke="#ebebeb" stroke-width="0.6"/>
<line x1="413.6" y1="260.81" x2="613.6" y2="260.81" stroke="#ebebeb" stroke-width="0.6"/>
<line x1="413.6" y1="269.31" x2="613.6" y2="269.31" stroke="#ebebeb" stroke-width="0.6"/>
<line x1="413.6" y1="277.82" x2="613.6" y2="277.82" stroke="#ebebeb" stroke-width="0.6"/>
<line x1="413.6" y1="286.33" x2="613.6" y2="286.33" stroke="#ebebeb" stroke-width="0.6"/>
<line x1="413.6" y1="294.83" x2="613.6" y2="294.83" stroke="#ebebeb" stroke-width="0.6"/>
<line x1="413.6" y1="303.34" x2="613.6" y2="303.34" stroke="#ebebeb" stroke-width="0.6"/>
<line x1="413.6" y1="311.84" x2="613.6" y2="311.84" stroke="#ebebeb" stroke-width="0.6"/>
<line x1="413.6" y1="320.35" x2="613.6" y2="320.35" stroke="#ebebeb" stroke-width="0.6"/>
<line x1="413.6" y1="328.85" x2="613.6" y2="328.85" stroke="#ebebeb" stroke-width="0.6"/>
<line x1="413.6" y1="337.36" x2="613.6" y2="337.36" stroke="#ebebeb" stroke-width="0.6"/>
<line x1="413.6" y1="345.86" x2="613.6" y2="345.86" stroke="#ebebeb" stroke-width="0.6"/>
<line x1="413.6" y1="354.37" x2="613.6" y2="354.37" stroke="#ebebeb" stroke-width="0.6"/>
<line x1="413.6" y1="362.87" x2="613.6" y2="362.87" stroke="#ebebeb" stroke-width="0.6"/>
<line x1="413.6" y1="371.38" x2="613.6" y2="371.38" stroke="#ebebeb" stroke-width="0.6"/>
<line x1="413.6" y1="379.88" x2="613.6" y2="379.88" stroke="#ebebeb" stroke-width="0.6"/>
<line x1="413.6" y1="388.38" x2="613.6" y2="388.38" stroke="#ebebeb" stroke-width="0.6"/>
<line x1="413.6" y1="396.89" x2="613.6" y2="396.89" stroke="#ebebeb" stroke-width="0.6"/>
<line x1="413.6" y1="405.4" x2="613.6" y2="405.4" stroke="#ebebeb" stroke-width="0.6"/>
<line x1="413.6" y1="413.9" x2="613.6" y2="413.9" stroke="#ebebeb" stroke-width="0.6"/>
<line x1="413.6" y1="238.9" x2="413.6" y2="418.3" stroke="#333" stroke-width="1"/>
<line x1="413.6" y1="418.3" x2="613.6" y2="418.3" stroke="#333" stroke-width="1"/>
<line x1="411.7" y1="243.8" x2="413.6" y2="243.8" stroke="#333" stroke-width="0.6"/>
<text transform="translate(411 246.8) scale(0.92 1)" font-size="8.5" fill="#4d4d4d" text-anchor="end">CXCL12</text>
<line x1="411.7" y1="252.31" x2="413.6" y2="252.31" stroke="#333" stroke-width="0.6"/>
<text transform="translate(411 255.31) scale(0.92 1)" font-size="8.5" fill="#4d4d4d" text-anchor="end">TNFRSF12A</text>
<line x1="411.7" y1="260.81" x2="413.6" y2="260.81" stroke="#333" stroke-width="0.6"/>
<text transform="translate(411 263.81) scale(0.92 1)" font-size="8.5" fill="#4d4d4d" text-anchor="end">PD.L1</text>
<line x1="411.7" y1="269.31" x2="413.6" y2="269.31" stroke="#333" stroke-width="0.6"/>
<text transform="translate(411 272.31) scale(0.92 1)" font-size="8.5" fill="#4d4d4d" text-anchor="end">ADA</text>
<line x1="411.7" y1="277.82" x2="413.6" y2="277.82" stroke="#333" stroke-width="0.6"/>
<text transform="translate(411 280.82) scale(0.92 1)" font-size="8.5" fill="#4d4d4d" text-anchor="end">CXCL11</text>
<line x1="411.7" y1="286.33" x2="413.6" y2="286.33" stroke="#333" stroke-width="0.6"/>
<text transform="translate(411 289.33) scale(0.92 1)" font-size="8.5" fill="#4d4d4d" text-anchor="end">CXCL10</text>
<line x1="411.7" y1="294.83" x2="413.6" y2="294.83" stroke="#333" stroke-width="0.6"/>
<text transform="translate(411 297.83) scale(0.92 1)" font-size="8.5" fill="#4d4d4d" text-anchor="end">CXCL9</text>
<line x1="411.7" y1="303.34" x2="413.6" y2="303.34" stroke="#333" stroke-width="0.6"/>
<text transform="translate(411 306.34) scale(0.92 1)" font-size="8.5" fill="#4d4d4d" text-anchor="end">KIR3DL1</text>
<line x1="411.7" y1="311.84" x2="413.6" y2="311.84" stroke="#333" stroke-width="0.6"/>
<text transform="translate(411 314.84) scale(0.92 1)" font-size="8.5" fill="#4d4d4d" text-anchor="end">KLRD1</text>
<line x1="411.7" y1="320.35" x2="413.6" y2="320.35" stroke="#333" stroke-width="0.6"/>
<text transform="translate(411 323.35) scale(0.92 1)" font-size="8.5" fill="#4d4d4d" text-anchor="end">IL7</text>
<line x1="411.7" y1="328.85" x2="413.6" y2="328.85" stroke="#333" stroke-width="0.6"/>
<text transform="translate(411 331.85) scale(0.92 1)" font-size="8.5" fill="#4d4d4d" text-anchor="end">CSF.1</text>
<line x1="411.7" y1="337.36" x2="413.6" y2="337.36" stroke="#333" stroke-width="0.6"/>
<text transform="translate(411 340.36) scale(0.92 1)" font-size="8.5" fill="#4d4d4d" text-anchor="end">IL8</text>
<line x1="411.7" y1="345.86" x2="413.6" y2="345.86" stroke="#333" stroke-width="0.6"/>
<text transform="translate(411 348.86) scale(0.92 1)" font-size="8.5" fill="#4d4d4d" text-anchor="end">CCL20</text>
<line x1="411.7" y1="354.37" x2="413.6" y2="354.37" stroke="#333" stroke-width="0.6"/>
<text transform="translate(411 357.37) scale(0.92 1)" font-size="8.5" fill="#4d4d4d" text-anchor="end">CCL19</text>
<line x1="411.7" y1="362.87" x2="413.6" y2="362.87" stroke="#333" stroke-width="0.6"/>
<text transform="translate(411 365.87) scale(0.92 1)" font-size="8.5" fill="#4d4d4d" text-anchor="end">CCL3</text>
<line x1="411.7" y1="371.38" x2="413.6" y2="371.38" stroke="#333" stroke-width="0.6"/>
<text transform="translate(411 374.38) scale(0.92 1)" font-size="8.5" fill="#4d4d4d" text-anchor="end">TNF</text>
<line x1="411.7" y1="379.88" x2="413.6" y2="379.88" stroke="#333" stroke-width="0.6"/>
<text transform="translate(411 382.88) scale(0.92 1)" font-size="8.5" fill="#4d4d4d" text-anchor="end">IL4</text>
<line x1="411.7" y1="388.38" x2="413.6" y2="388.38" stroke="#333" stroke-width="0.6"/>
<text transform="translate(411 391.38) scale(0.92 1)" font-size="8.5" fill="#4d4d4d" text-anchor="end">CCL4</text>
<line x1="411.7" y1="396.89" x2="413.6" y2="396.89" stroke="#333" stroke-width="0.6"/>
<text transform="translate(411 399.89) scale(0.92 1)" font-size="8.5" fill="#4d4d4d" text-anchor="end">MMP12</text>
<line x1="411.7" y1="405.4" x2="413.6" y2="405.4" stroke="#333" stroke-width="0.6"/>
<text transform="translate(411 408.4) scale(0.92 1)" font-size="8.5" fill="#4d4d4d" text-anchor="end">CD5</text>
<line x1="411.7" y1="413.9" x2="413.6" y2="413.9" stroke="#333" stroke-width="0.6"/>
<text transform="translate(411 416.9) scale(0.92 1)" font-size="8.5" fill="#4d4d4d" text-anchor="end">ICOSLG</text>
<line x1="422.2" y1="418.3" x2="422.2" y2="420.2" stroke="#333" stroke-width="0.6"/>
<text transform="translate(422.2 427.6) scale(0.92 1)" font-size="8.4" fill="#4d4d4d" text-anchor="middle">0.7</text>
<line x1="452.6" y1="418.3" x2="452.6" y2="420.2" stroke="#333" stroke-width="0.6"/>
<text transform="translate(452.6 427.6) scale(0.92 1)" font-size="8.4" fill="#4d4d4d" text-anchor="middle">0.8</text>
<line x1="483" y1="418.3" x2="483" y2="420.2" stroke="#333" stroke-width="0.6"/>
<text transform="translate(483 427.6) scale(0.92 1)" font-size="8.4" fill="#4d4d4d" text-anchor="middle">0.9</text>
<line x1="513.4" y1="418.3" x2="513.4" y2="420.2" stroke="#333" stroke-width="0.6"/>
<text transform="translate(513.4 427.6) scale(0.92 1)" font-size="8.4" fill="#4d4d4d" text-anchor="middle">1.0</text>
<line x1="543.8" y1="418.3" x2="543.8" y2="420.2" stroke="#333" stroke-width="0.6"/>
<text transform="translate(543.8 427.6) scale(0.92 1)" font-size="8.4" fill="#4d4d4d" text-anchor="middle">1.1</text>
<line x1="574.2" y1="418.3" x2="574.2" y2="420.2" stroke="#333" stroke-width="0.6"/>
<text transform="translate(574.2 427.6) scale(0.92 1)" font-size="8.4" fill="#4d4d4d" text-anchor="middle">1.2</text>
<line x1="604.6" y1="418.3" x2="604.6" y2="420.2" stroke="#333" stroke-width="0.6"/>
<text transform="translate(604.6 427.6) scale(0.92 1)" font-size="8.4" fill="#4d4d4d" text-anchor="middle">1.3</text>
<text transform="translate(513.6 437.3) scale(0.95 1)" font-size="8.3" fill="#1a1a1a" text-anchor="middle">Total impact on PFS &gt; median probability</text>
<text transform="translate(366.5 329) rotate(-90) scale(0.95 1)" font-size="8.3" fill="#1a1a1a" text-anchor="middle">Proteins</text>
<line x1="506.4" y1="243.8" x2="523.4" y2="243.8" stroke="#D98CF2" stroke-width="0.9"/>
<line x1="499.7" y1="252.31" x2="514" y2="252.31" stroke="#D98CF2" stroke-width="0.9"/>
<line x1="489.1" y1="260.81" x2="499.1" y2="260.81" stroke="#D98CF2" stroke-width="0.9"/>
<line x1="503.1" y1="269.31" x2="514.9" y2="269.31" stroke="#D98CF2" stroke-width="0.9"/>
<line x1="454.3" y1="277.82" x2="479.1" y2="277.82" stroke="#D98CF2" stroke-width="0.9"/>
<line x1="475.3" y1="286.33" x2="490.6" y2="286.33" stroke="#D98CF2" stroke-width="0.9"/>
<line x1="476.4" y1="294.83" x2="490" y2="294.83" stroke="#D98CF2" stroke-width="0.9"/>
<line x1="504.3" y1="303.34" x2="511.3" y2="303.34" stroke="#D98CF2" stroke-width="0.9"/>
<line x1="510.4" y1="311.84" x2="511.9" y2="311.84" stroke="#D98CF2" stroke-width="0.9"/>
<line x1="512.5" y1="320.35" x2="513" y2="320.35" stroke="#D98CF2" stroke-width="0.9"/>
<line x1="513.1" y1="328.85" x2="513" y2="328.85" stroke="#D98CF2" stroke-width="0.9"/>
<line x1="511.9" y1="337.36" x2="519.5" y2="337.36" stroke="#D98CF2" stroke-width="0.9"/>
<line x1="514" y1="345.86" x2="518.9" y2="345.86" stroke="#D98CF2" stroke-width="0.9"/>
<line x1="518" y1="354.37" x2="521" y2="354.37" stroke="#D98CF2" stroke-width="0.9"/>
<line x1="501.3" y1="362.87" x2="556.5" y2="362.87" stroke="#D98CF2" stroke-width="0.9"/>
<line x1="502.2" y1="371.38" x2="560.8" y2="371.38" stroke="#D98CF2" stroke-width="0.9"/>
<line x1="512.2" y1="379.88" x2="515.2" y2="379.88" stroke="#D98CF2" stroke-width="0.9"/>
<line x1="507.6" y1="388.38" x2="557.7" y2="388.38" stroke="#D98CF2" stroke-width="0.9"/>
<line x1="516.4" y1="396.89" x2="534.4" y2="396.89" stroke="#D98CF2" stroke-width="0.9"/>
<line x1="532.2" y1="405.4" x2="552.9" y2="405.4" stroke="#D98CF2" stroke-width="0.9"/>
<line x1="511.3" y1="413.9" x2="540.7" y2="413.9" stroke="#D98CF2" stroke-width="0.9"/>
<line x1="513.4" y1="238.9" x2="513.4" y2="418.3" stroke="#111" stroke-width="0.8" stroke-dasharray="2.4 1.6"/>
<circle cx="523.4" cy="243.8" r="2.25" fill="#619CFF" stroke="none" stroke-width="0.5"/>
<circle cx="506.4" cy="243.8" r="2.25" fill="#F8766D" stroke="none" stroke-width="0.5"/>
<circle cx="514" cy="252.31" r="2.25" fill="#619CFF" stroke="none" stroke-width="0.5"/>
<circle cx="499.7" cy="252.31" r="2.25" fill="#F8766D" stroke="none" stroke-width="0.5"/>
<circle cx="499.1" cy="260.81" r="2.25" fill="#619CFF" stroke="none" stroke-width="0.5"/>
<circle cx="489.1" cy="260.81" r="2.25" fill="#F8766D" stroke="none" stroke-width="0.5"/>
<circle cx="514.9" cy="269.31" r="2.25" fill="#619CFF" stroke="none" stroke-width="0.5"/>
<circle cx="503.1" cy="269.31" r="2.25" fill="#F8766D" stroke="none" stroke-width="0.5"/>
<circle cx="479.1" cy="277.82" r="2.25" fill="#619CFF" stroke="none" stroke-width="0.5"/>
<circle cx="454.3" cy="277.82" r="2.25" fill="#F8766D" stroke="none" stroke-width="0.5"/>
<circle cx="490.6" cy="286.33" r="2.25" fill="#619CFF" stroke="none" stroke-width="0.5"/>
<circle cx="475.3" cy="286.33" r="2.25" fill="#F8766D" stroke="none" stroke-width="0.5"/>
<circle cx="490" cy="294.83" r="2.25" fill="#619CFF" stroke="none" stroke-width="0.5"/>
<circle cx="476.4" cy="294.83" r="2.25" fill="#F8766D" stroke="none" stroke-width="0.5"/>
<circle cx="511.3" cy="303.34" r="2.25" fill="#619CFF" stroke="none" stroke-width="0.5"/>
<circle cx="504.3" cy="303.34" r="2.25" fill="#F8766D" stroke="none" stroke-width="0.5"/>
<circle cx="511.9" cy="311.84" r="2.25" fill="#619CFF" stroke="none" stroke-width="0.5"/>
<circle cx="510.4" cy="311.84" r="2.25" fill="#F8766D" stroke="none" stroke-width="0.5"/>
<circle cx="513" cy="320.35" r="2.25" fill="#619CFF" stroke="none" stroke-width="0.5"/>
<circle cx="512.5" cy="320.35" r="2.25" fill="#F8766D" stroke="none" stroke-width="0.5"/>
<circle cx="513" cy="328.85" r="2.25" fill="#619CFF" stroke="none" stroke-width="0.5"/>
<circle cx="513.1" cy="328.85" r="2.25" fill="#F8766D" stroke="none" stroke-width="0.5"/>
<circle cx="519.5" cy="337.36" r="2.25" fill="#619CFF" stroke="none" stroke-width="0.5"/>
<circle cx="511.9" cy="337.36" r="2.25" fill="#F8766D" stroke="none" stroke-width="0.5"/>
<circle cx="518.9" cy="345.86" r="2.25" fill="#619CFF" stroke="none" stroke-width="0.5"/>
<circle cx="514" cy="345.86" r="2.25" fill="#F8766D" stroke="none" stroke-width="0.5"/>
<circle cx="521" cy="354.37" r="2.25" fill="#619CFF" stroke="none" stroke-width="0.5"/>
<circle cx="518" cy="354.37" r="2.25" fill="#F8766D" stroke="none" stroke-width="0.5"/>
<circle cx="556.5" cy="362.87" r="2.25" fill="#619CFF" stroke="none" stroke-width="0.5"/>
<circle cx="501.3" cy="362.87" r="2.25" fill="#F8766D" stroke="none" stroke-width="0.5"/>
<circle cx="560.8" cy="371.38" r="2.25" fill="#619CFF" stroke="none" stroke-width="0.5"/>
<circle cx="502.2" cy="371.38" r="2.25" fill="#F8766D" stroke="none" stroke-width="0.5"/>
<circle cx="515.2" cy="379.88" r="2.25" fill="#619CFF" stroke="none" stroke-width="0.5"/>
<circle cx="512.2" cy="379.88" r="2.25" fill="#F8766D" stroke="none" stroke-width="0.5"/>
<circle cx="557.7" cy="388.38" r="2.25" fill="#619CFF" stroke="none" stroke-width="0.5"/>
<circle cx="507.6" cy="388.38" r="2.25" fill="#F8766D" stroke="none" stroke-width="0.5"/>
<circle cx="534.4" cy="396.89" r="2.25" fill="#619CFF" stroke="none" stroke-width="0.5"/>
<circle cx="516.4" cy="396.89" r="2.25" fill="#F8766D" stroke="none" stroke-width="0.5"/>
<circle cx="552.9" cy="405.4" r="2.25" fill="#619CFF" stroke="none" stroke-width="0.5"/>
<circle cx="532.2" cy="405.4" r="2.25" fill="#F8766D" stroke="none" stroke-width="0.5"/>
<circle cx="540.7" cy="413.9" r="2.25" fill="#619CFF" stroke="none" stroke-width="0.5"/>
<circle cx="511.3" cy="413.9" r="2.25" fill="#F8766D" stroke="none" stroke-width="0.5"/>
<text transform="translate(622.7 320.2)" font-size="8.3" fill="#1a1a1a" text-anchor="start">PFS binary</text>
<circle cx="627.9" cy="329.2" r="2.3" fill="#F8766D" stroke="none" stroke-width="0.5"/>
<text transform="translate(635.5 332.1)" font-size="8.3" fill="#1a1a1a" text-anchor="start">PFS short</text>
<circle cx="627.9" cy="339.5" r="2.3" fill="#619CFF" stroke="none" stroke-width="0.5"/>
<text transform="translate(635.5 342.4)" font-size="8.3" fill="#1a1a1a" text-anchor="start">PFS long</text>
<text transform="translate(10.2 470.4)" font-size="15.5" fill="#000" text-anchor="start">E</text>
<text transform="translate(52.9 478.1) scale(0.87 1)" font-size="8.4" fill="#1a1a1a" text-anchor="start">MM1636.23 IDO clone co−cultured with MonoMac1</text>
<line x1="38" y1="497.2" x2="38" y2="659.8" stroke="#ebebeb" stroke-width="0.6"/>
<line x1="56.4" y1="497.2" x2="56.4" y2="659.8" stroke="#ebebeb" stroke-width="0.6"/>
<line x1="74.6" y1="497.2" x2="74.6" y2="659.8" stroke="#ebebeb" stroke-width="0.6"/>
<rect x="27.2" y="482.9" width="58.4" height="14.3" fill="#ffffff" stroke="#333333" stroke-width="1" rx="1"/>
<text transform="translate(56.4 493.51) scale(0.8 1)" font-size="9.6" fill="#1a1a1a" text-anchor="middle">CCL3</text>
<line x1="27.2" y1="497.2" x2="27.2" y2="659.8" stroke="#333" stroke-width="1"/>
<line x1="27.2" y1="659.8" x2="85.6" y2="659.8" stroke="#333" stroke-width="1"/>
<line x1="25.3" y1="652.8" x2="27.2" y2="652.8" stroke="#333" stroke-width="0.6"/>
<text transform="translate(24.8 655.8) scale(0.82 1)" font-size="8.4" fill="#4d4d4d" text-anchor="end">0</text>
<line x1="25.3" y1="608.1" x2="27.2" y2="608.1" stroke="#333" stroke-width="0.6"/>
<text transform="translate(24.8 611.1) scale(0.82 1)" font-size="8.4" fill="#4d4d4d" text-anchor="end">100</text>
<line x1="25.3" y1="563.4" x2="27.2" y2="563.4" stroke="#333" stroke-width="0.6"/>
<text transform="translate(24.8 566.4) scale(0.82 1)" font-size="8.4" fill="#4d4d4d" text-anchor="end">200</text>
<line x1="25.3" y1="518.7" x2="27.2" y2="518.7" stroke="#333" stroke-width="0.6"/>
<text transform="translate(24.8 521.7) scale(0.82 1)" font-size="8.4" fill="#4d4d4d" text-anchor="end">300</text>
<line x1="38" y1="659.8" x2="38" y2="661.7" stroke="#333" stroke-width="0.6"/>
<line x1="56.4" y1="659.8" x2="56.4" y2="661.7" stroke="#333" stroke-width="0.6"/>
<line x1="74.6" y1="659.8" x2="74.6" y2="661.7" stroke="#333" stroke-width="0.6"/>
<path d="M56.4 507.4V504.4H74.6V507.4" fill="none" stroke="#333" stroke-width="0.6"/>
<text transform="translate(65.5 503.6)" font-size="5.2" fill="#1a1a1a" text-anchor="middle">0.00034</text>
<path d="M38 521.2V518.2H74.6V521.2" fill="none" stroke="#333" stroke-width="0.6"/>
<text transform="translate(56.3 517.4)" font-size="5.2" fill="#1a1a1a" text-anchor="middle">0.028</text>
<path d="M38 535V532H56.4V535" fill="none" stroke="#333" stroke-width="0.6"/>
<text transform="translate(47.2 531.2)" font-size="5.2" fill="#1a1a1a" text-anchor="middle">0.00036</text>
<line x1="113.9" y1="497.2" x2="113.9" y2="659.8" stroke="#ebebeb" stroke-width="0.6"/>
<line x1="132.2" y1="497.2" x2="132.2" y2="659.8" stroke="#ebebeb" stroke-width="0.6"/>
<line x1="150.6" y1="497.2" x2="150.6" y2="659.8" stroke="#ebebeb" stroke-width="0.6"/>
<rect x="103.3" y="482.9" width="58.7" height="14.3" fill="#ffffff" stroke="#333333" stroke-width="1" rx="1"/>
<text transform="translate(132.65 493.51) scale(0.8 1)" font-size="9.6" fill="#1a1a1a" text-anchor="middle">CCL4</text>
<line x1="103.3" y1="497.2" x2="103.3" y2="659.8" stroke="#333" stroke-width="1"/>
<line x1="103.3" y1="659.8" x2="162" y2="659.8" stroke="#333" stroke-width="1"/>
<line x1="101.4" y1="652.8" x2="103.3" y2="652.8" stroke="#333" stroke-width="0.6"/>
<text transform="translate(100.9 655.8) scale(0.82 1)" font-size="8.4" fill="#4d4d4d" text-anchor="end">0</text>
<line x1="101.4" y1="612.72" x2="103.3" y2="612.72" stroke="#333" stroke-width="0.6"/>
<text transform="translate(100.9 615.72) scale(0.82 1)" font-size="8.4" fill="#4d4d4d" text-anchor="end">300</text>
<line x1="101.4" y1="572.64" x2="103.3" y2="572.64" stroke="#333" stroke-width="0.6"/>
<text transform="translate(100.9 575.64) scale(0.82 1)" font-size="8.4" fill="#4d4d4d" text-anchor="end">600</text>
<line x1="101.4" y1="532.56" x2="103.3" y2="532.56" stroke="#333" stroke-width="0.6"/>
<text transform="translate(100.9 535.56) scale(0.82 1)" font-size="8.4" fill="#4d4d4d" text-anchor="end">900</text>
<line x1="113.9" y1="659.8" x2="113.9" y2="661.7" stroke="#333" stroke-width="0.6"/>
<line x1="132.2" y1="659.8" x2="132.2" y2="661.7" stroke="#333" stroke-width="0.6"/>
<line x1="150.6" y1="659.8" x2="150.6" y2="661.7" stroke="#333" stroke-width="0.6"/>
<path d="M132.2 507.4V504.4H150.6V507.4" fill="none" stroke="#333" stroke-width="0.6"/>
<text transform="translate(141.4 503.6)" font-size="5.2" fill="#1a1a1a" text-anchor="middle">4.3e−08</text>
<path d="M113.9 521.2V518.2H150.6V521.2" fill="none" stroke="#333" stroke-width="0.6"/>
<text transform="translate(132.25 517.4)" font-size="5.2" fill="#1a1a1a" text-anchor="middle">0.058</text>
<path d="M113.9 535V532H132.2V535" fill="none" stroke="#333" stroke-width="0.6"/>
<text transform="translate(123.05 531.2)" font-size="5.2" fill="#1a1a1a" text-anchor="middle">0.0023</text>
<line x1="198.6" y1="497.2" x2="198.6" y2="659.8" stroke="#ebebeb" stroke-width="0.6"/>
<line x1="216.8" y1="497.2" x2="216.8" y2="659.8" stroke="#ebebeb" stroke-width="0.6"/>
<line x1="235.1" y1="497.2" x2="235.1" y2="659.8" stroke="#ebebeb" stroke-width="0.6"/>
<rect x="187.8" y="482.9" width="57.9" height="14.3" fill="#ffffff" stroke="#333333" stroke-width="1" rx="1"/>
<text transform="translate(216.75 493.51) scale(0.8 1)" font-size="9.6" fill="#1a1a1a" text-anchor="middle">TNFa</text>
<line x1="187.8" y1="497.2" x2="187.8" y2="659.8" stroke="#333" stroke-width="1"/>
<line x1="187.8" y1="659.8" x2="245.7" y2="659.8" stroke="#333" stroke-width="1"/>
<line x1="185.9" y1="652.8" x2="187.8" y2="652.8" stroke="#333" stroke-width="0.6"/>
<text transform="translate(185.4 655.8) scale(0.82 1)" font-size="8.4" fill="#4d4d4d" text-anchor="end">0</text>
<line x1="185.9" y1="615.02" x2="187.8" y2="615.02" stroke="#333" stroke-width="0.6"/>
<text transform="translate(185.4 618.02) scale(0.82 1)" font-size="8.4" fill="#4d4d4d" text-anchor="end">5000</text>
<line x1="185.9" y1="577.24" x2="187.8" y2="577.24" stroke="#333" stroke-width="0.6"/>
<text transform="translate(185.4 580.24) scale(0.82 1)" font-size="8.4" fill="#4d4d4d" text-anchor="end">10000</text>
<line x1="185.9" y1="539.46" x2="187.8" y2="539.46" stroke="#333" stroke-width="0.6"/>
<text transform="translate(185.4 542.46) scale(0.82 1)" font-size="8.4" fill="#4d4d4d" text-anchor="end">15000</text>
<line x1="185.9" y1="501.68" x2="187.8" y2="501.68" stroke="#333" stroke-width="0.6"/>
<text transform="translate(185.4 504.68) scale(0.82 1)" font-size="8.4" fill="#4d4d4d" text-anchor="end">20000</text>
<line x1="198.6" y1="659.8" x2="198.6" y2="661.7" stroke="#333" stroke-width="0.6"/>
<line x1="216.8" y1="659.8" x2="216.8" y2="661.7" stroke="#333" stroke-width="0.6"/>
<line x1="235.1" y1="659.8" x2="235.1" y2="661.7" stroke="#333" stroke-width="0.6"/>
<path d="M216.8 507.4V504.4H235.1V507.4" fill="none" stroke="#333" stroke-width="0.6"/>
<text transform="translate(225.95 503.6)" font-size="5.2" fill="#1a1a1a" text-anchor="middle">0.00028</text>
<path d="M198.6 521.2V518.2H235.1V521.2" fill="none" stroke="#333" stroke-width="0.6"/>
<text transform="translate(216.85 517.4)" font-size="5.2" fill="#1a1a1a" text-anchor="middle">0.03</text>
<path d="M198.6 535V532H216.8V535" fill="none" stroke="#333" stroke-width="0.6"/>
<text transform="translate(207.7 531.2)" font-size="5.2" fill="#1a1a1a" text-anchor="middle">0.00028</text>
<rect x="31.2" y="649.6" width="13.6" height="1.2" fill="none" stroke="#FF1A1A" stroke-width="0.9"/>
<line x1="31.2" y1="650.2" x2="44.8" y2="650.2" stroke="#FF1A1A" stroke-width="0.9"/>
<circle cx="35" cy="650.4" r="1.1" fill="#FF1A1A" stroke="none" stroke-width="0.5"/>
<circle cx="39.5" cy="649.8" r="1.1" fill="#FF1A1A" stroke="none" stroke-width="0.5"/>
<rect x="49.5" y="537.4" width="13.6" height="4" fill="#D3E8D3" stroke="#0A7A0A" stroke-width="0.9"/>
<line x1="49.5" y1="538" x2="63.1" y2="538" stroke="#0A7A0A" stroke-width="0.9"/>
<circle cx="53.5" cy="544.3" r="1.1" fill="#0A7A0A" stroke="none" stroke-width="0.5"/>
<circle cx="57.7" cy="537.7" r="1.1" fill="#0A7A0A" stroke="none" stroke-width="0.5"/>
<circle cx="54.7" cy="538" r="1.1" fill="#0A7A0A" stroke="none" stroke-width="0.5"/>
<rect x="67.7" y="652" width="13.6" height="1" fill="none" stroke="#FFF01F" stroke-width="0.9"/>
<line x1="67.7" y1="652.5" x2="81.3" y2="652.5" stroke="#FFF01F" stroke-width="0.9"/>
<circle cx="72.5" cy="652.6" r="1.1" fill="#FFF01F" stroke="none" stroke-width="0.5"/>
<circle cx="76.5" cy="652.4" r="1.1" fill="#FFF01F" stroke="none" stroke-width="0.5"/>
<rect x="107.4" y="647.6" width="13.6" height="1.2" fill="none" stroke="#FF1A1A" stroke-width="0.9"/>
<line x1="107.4" y1="648.2" x2="121" y2="648.2" stroke="#FF1A1A" stroke-width="0.9"/>
<circle cx="111.2" cy="648.9" r="1.1" fill="#FF1A1A" stroke="none" stroke-width="0.5"/>
<circle cx="115.2" cy="647.6" r="1.1" fill="#FF1A1A" stroke="none" stroke-width="0.5"/>
<rect x="125.4" y="537.2" width="13.6" height="1.2" fill="none" stroke="#0A7A0A" stroke-width="0.9"/>
<line x1="125.4" y1="537.8" x2="139" y2="537.8" stroke="#0A7A0A" stroke-width="0.9"/>
<circle cx="129.7" cy="537.8" r="1.1" fill="#0A7A0A" stroke="none" stroke-width="0.5"/>
<circle cx="133.7" cy="537.8" r="1.1" fill="#0A7A0A" stroke="none" stroke-width="0.5"/>
<rect x="143.7" y="652" width="13.6" height="1" fill="none" stroke="#FFF01F" stroke-width="0.9"/>
<line x1="143.7" y1="652.5" x2="157.3" y2="652.5" stroke="#FFF01F" stroke-width="0.9"/>
<circle cx="148.5" cy="652.6" r="1.1" fill="#FFF01F" stroke="none" stroke-width="0.5"/>
<circle cx="152.5" cy="652.4" r="1.1" fill="#FFF01F" stroke="none" stroke-width="0.5"/>
<rect x="191.8" y="651.6" width="13.6" height="1" fill="none" stroke="#FF1A1A" stroke-width="0.9"/>
<line x1="191.8" y1="652.1" x2="205.4" y2="652.1" stroke="#FF1A1A" stroke-width="0.9"/>
<circle cx="197.1" cy="652.2" r="1.1" fill="#FF1A1A" stroke="none" stroke-width="0.5"/>
<circle cx="200.1" cy="652" r="1.1" fill="#FF1A1A" stroke="none" stroke-width="0.5"/>
<rect x="210" y="538.1" width="13.6" height="3.8" fill="#D3E8D3" stroke="#0A7A0A" stroke-width="0.9"/>
<line x1="210" y1="539" x2="223.6" y2="539" stroke="#0A7A0A" stroke-width="0.9"/>
<circle cx="215.6" cy="537.8" r="1.1" fill="#0A7A0A" stroke="none" stroke-width="0.5"/>
<circle cx="218.3" cy="544" r="1.1" fill="#0A7A0A" stroke="none" stroke-width="0.5"/>
<rect x="228.3" y="652.1" width="13.6" height="1" fill="none" stroke="#FFF01F" stroke-width="0.9"/>
<line x1="228.3" y1="652.6" x2="241.9" y2="652.6" stroke="#FFF01F" stroke-width="0.9"/>
<circle cx="233.1" cy="652.6" r="1.1" fill="#FFF01F" stroke="none" stroke-width="0.5"/>
<circle cx="237.1" cy="652.6" r="1.1" fill="#FFF01F" stroke="none" stroke-width="0.5"/>
<text transform="translate(136.5 669.8) scale(0.85 1)" font-size="8.6" fill="#1a1a1a" text-anchor="middle">Condition</text>
<text transform="translate(10.8 578.5) rotate(-90) scale(0.88 1)" font-size="10.2" fill="#1a1a1a" text-anchor="middle">Protein level (pg/mL)</text>
<text transform="translate(253.8 565.1) scale(0.8 1)" font-size="7.8" fill="#1a1a1a" text-anchor="start">Co−culture condition</text>
<rect x="254.6" y="571.1" width="6.2" height="6" fill="none" stroke="#FF1A1A" stroke-width="0.8"/>
<line x1="254.6" y1="574.1" x2="260.8" y2="574.1" stroke="#FF1A1A" stroke-width="0.8"/>
<line x1="257.7" y1="569.9" x2="257.7" y2="578.3" stroke="#FF1A1A" stroke-width="0.7"/>
<circle cx="257.7" cy="574.1" r="1" fill="#FF1A1A" stroke="none" stroke-width="0.5"/>
<text transform="translate(264.2 576.9) scale(0.8 1)" font-size="7.8" fill="#1a1a1a" text-anchor="start">MonoMac1</text>
<rect x="254.6" y="581.2" width="6.2" height="6" fill="none" stroke="#0A7A0A" stroke-width="0.8"/>
<line x1="254.6" y1="584.2" x2="260.8" y2="584.2" stroke="#0A7A0A" stroke-width="0.8"/>
<line x1="257.7" y1="580" x2="257.7" y2="588.4" stroke="#0A7A0A" stroke-width="0.7"/>
<circle cx="257.7" cy="584.2" r="1" fill="#0A7A0A" stroke="none" stroke-width="0.5"/>
<text transform="translate(264.2 587) scale(0.8 1)" font-size="7.8" fill="#1a1a1a" text-anchor="start">MonoMac1 + IDO clone</text>
<rect x="254.6" y="591.3" width="6.2" height="6" fill="none" stroke="#FFF01F" stroke-width="0.8"/>
<line x1="254.6" y1="594.3" x2="260.8" y2="594.3" stroke="#FFF01F" stroke-width="0.8"/>
<line x1="257.7" y1="590.1" x2="257.7" y2="598.5" stroke="#FFF01F" stroke-width="0.7"/>
<circle cx="257.7" cy="594.3" r="1" fill="#FFF01F" stroke="none" stroke-width="0.5"/>
<text transform="translate(264.2 597.1) scale(0.8 1)" font-size="7.8" fill="#1a1a1a" text-anchor="start">IDO clone</text>
<text transform="translate(331.6 471)" font-size="15.5" fill="#000" text-anchor="start">F</text>
<text transform="translate(400 476.4) scale(0.91 1)" font-size="8.2" fill="#1a1a1a" text-anchor="start">MM1636.05 autologous co−cultures</text>
<line x1="377.6" y1="490.4" x2="377.6" y2="662.8" stroke="#ebebeb" stroke-width="0.6"/>
<line x1="393.6" y1="490.4" x2="393.6" y2="662.8" stroke="#ebebeb" stroke-width="0.6"/>
<line x1="409.6" y1="490.4" x2="409.6" y2="662.8" stroke="#ebebeb" stroke-width="0.6"/>
<rect x="368.3" y="479.3" width="51.1" height="11.1" fill="#ffffff" stroke="#333333" stroke-width="1" rx="1"/>
<text transform="translate(393.85 487.95) scale(0.85 1)" font-size="8.6" fill="#1a1a1a" text-anchor="middle">CCL3</text>
<line x1="368.3" y1="490.4" x2="368.3" y2="662.8" stroke="#333" stroke-width="1"/>
<line x1="368.3" y1="662.8" x2="419.4" y2="662.8" stroke="#333" stroke-width="1"/>
<line x1="366.4" y1="616.2" x2="368.3" y2="616.2" stroke="#333" stroke-width="0.6"/>
<text transform="translate(365.9 619) scale(0.88 1)" font-size="8" fill="#4d4d4d" text-anchor="end">1</text>
<line x1="366.4" y1="566.5" x2="368.3" y2="566.5" stroke="#333" stroke-width="0.6"/>
<text transform="translate(365.9 569.3) scale(0.88 1)" font-size="8" fill="#4d4d4d" text-anchor="end">2</text>
<line x1="366.4" y1="516.8" x2="368.3" y2="516.8" stroke="#333" stroke-width="0.6"/>
<text transform="translate(365.9 519.6) scale(0.88 1)" font-size="8" fill="#4d4d4d" text-anchor="end">3</text>
<line x1="377.6" y1="662.8" x2="377.6" y2="664.7" stroke="#333" stroke-width="0.6"/>
<line x1="393.6" y1="662.8" x2="393.6" y2="664.7" stroke="#333" stroke-width="0.6"/>
<line x1="409.6" y1="662.8" x2="409.6" y2="664.7" stroke="#333" stroke-width="0.6"/>
<path d="M393.6 500.7V498.4H409.6V500.7" fill="none" stroke="#333" stroke-width="0.6"/>
<text transform="translate(401.6 497.6)" font-size="5" fill="#1a1a1a" text-anchor="middle">0.019</text>
<path d="M377.6 515.5V513.2H409.6V515.5" fill="none" stroke="#333" stroke-width="0.6"/>
<text transform="translate(393.6 512.4)" font-size="5" fill="#1a1a1a" text-anchor="middle">0.32</text>
<path d="M377.6 529.7V527.4H393.6V529.7" fill="none" stroke="#333" stroke-width="0.6"/>
<text transform="translate(385.6 526.6)" font-size="5" fill="#1a1a1a" text-anchor="middle">0.022</text>
<line x1="444.6" y1="490.4" x2="444.6" y2="662.8" stroke="#ebebeb" stroke-width="0.6"/>
<line x1="460.2" y1="490.4" x2="460.2" y2="662.8" stroke="#ebebeb" stroke-width="0.6"/>
<line x1="476.1" y1="490.4" x2="476.1" y2="662.8" stroke="#ebebeb" stroke-width="0.6"/>
<rect x="434.8" y="479.3" width="50.6" height="11.1" fill="#ffffff" stroke="#333333" stroke-width="1" rx="1"/>
<text transform="translate(460.1 487.95) scale(0.85 1)" font-size="8.6" fill="#1a1a1a" text-anchor="middle">CCL4</text>
<line x1="434.8" y1="490.4" x2="434.8" y2="662.8" stroke="#333" stroke-width="1"/>
<line x1="434.8" y1="662.8" x2="485.4" y2="662.8" stroke="#333" stroke-width="1"/>
<line x1="432.9" y1="655.7" x2="434.8" y2="655.7" stroke="#333" stroke-width="0.6"/>
<text transform="translate(432.4 658.5) scale(0.88 1)" font-size="8" fill="#4d4d4d" text-anchor="end">0.0</text>
<line x1="432.9" y1="620.35" x2="434.8" y2="620.35" stroke="#333" stroke-width="0.6"/>
<text transform="translate(432.4 623.15) scale(0.88 1)" font-size="8" fill="#4d4d4d" text-anchor="end">0.5</text>
<line x1="432.9" y1="585" x2="434.8" y2="585" stroke="#333" stroke-width="0.6"/>
<text transform="translate(432.4 587.8) scale(0.88 1)" font-size="8" fill="#4d4d4d" text-anchor="end">1.0</text>
<line x1="432.9" y1="549.65" x2="434.8" y2="549.65" stroke="#333" stroke-width="0.6"/>
<text transform="translate(432.4 552.45) scale(0.88 1)" font-size="8" fill="#4d4d4d" text-anchor="end">1.5</text>
<line x1="432.9" y1="514.3" x2="434.8" y2="514.3" stroke="#333" stroke-width="0.6"/>
<text transform="translate(432.4 517.1) scale(0.88 1)" font-size="8" fill="#4d4d4d" text-anchor="end">2.0</text>
<line x1="444.6" y1="662.8" x2="444.6" y2="664.7" stroke="#333" stroke-width="0.6"/>
<line x1="460.2" y1="662.8" x2="460.2" y2="664.7" stroke="#333" stroke-width="0.6"/>
<line x1="476.1" y1="662.8" x2="476.1" y2="664.7" stroke="#333" stroke-width="0.6"/>
<path d="M460.2 500.7V498.4H476.1V500.7" fill="none" stroke="#333" stroke-width="0.6"/>
<text transform="translate(468.15 497.6)" font-size="5" fill="#1a1a1a" text-anchor="middle">0.025</text>
<path d="M444.6 515.5V513.2H476.1V515.5" fill="none" stroke="#333" stroke-width="0.6"/>
<text transform="translate(460.35 512.4)" font-size="5" fill="#1a1a1a" text-anchor="middle">0.95</text>
<path d="M444.6 529.7V527.4H460.2V529.7" fill="none" stroke="#333" stroke-width="0.6"/>
<text transform="translate(452.4 526.6)" font-size="5" fill="#1a1a1a" text-anchor="middle">0.029</text>
<line x1="508.8" y1="490.4" x2="508.8" y2="662.8" stroke="#ebebeb" stroke-width="0.6"/>
<line x1="525" y1="490.4" x2="525" y2="662.8" stroke="#ebebeb" stroke-width="0.6"/>
<line x1="541.1" y1="490.4" x2="541.1" y2="662.8" stroke="#ebebeb" stroke-width="0.6"/>
<rect x="499.4" y="479.3" width="51.2" height="11.1" fill="#ffffff" stroke="#333333" stroke-width="1" rx="1"/>
<text transform="translate(525 487.95) scale(0.85 1)" font-size="8.6" fill="#1a1a1a" text-anchor="middle">TNFa</text>
<line x1="499.4" y1="490.4" x2="499.4" y2="662.8" stroke="#333" stroke-width="1"/>
<line x1="499.4" y1="662.8" x2="550.6" y2="662.8" stroke="#333" stroke-width="1"/>
<line x1="497.5" y1="637.2" x2="499.4" y2="637.2" stroke="#333" stroke-width="0.6"/>
<text transform="translate(497 640) scale(0.88 1)" font-size="8" fill="#4d4d4d" text-anchor="end">30</text>
<line x1="497.5" y1="583.29" x2="499.4" y2="583.29" stroke="#333" stroke-width="0.6"/>
<text transform="translate(497 586.09) scale(0.88 1)" font-size="8" fill="#4d4d4d" text-anchor="end">60</text>
<line x1="497.5" y1="529.38" x2="499.4" y2="529.38" stroke="#333" stroke-width="0.6"/>
<text transform="translate(497 532.18) scale(0.88 1)" font-size="8" fill="#4d4d4d" text-anchor="end">90</text>
<line x1="508.8" y1="662.8" x2="508.8" y2="664.7" stroke="#333" stroke-width="0.6"/>
<line x1="525" y1="662.8" x2="525" y2="664.7" stroke="#333" stroke-width="0.6"/>
<line x1="541.1" y1="662.8" x2="541.1" y2="664.7" stroke="#333" stroke-width="0.6"/>
<path d="M525 500.7V498.4H541.1V500.7" fill="none" stroke="#333" stroke-width="0.6"/>
<text transform="translate(533.05 497.6)" font-size="5" fill="#1a1a1a" text-anchor="middle">0.034</text>
<path d="M508.8 515.5V513.2H541.1V515.5" fill="none" stroke="#333" stroke-width="0.6"/>
<text transform="translate(524.95 512.4)" font-size="5" fill="#1a1a1a" text-anchor="middle">0.42</text>
<path d="M508.8 529.7V527.4H525V529.7" fill="none" stroke="#333" stroke-width="0.6"/>
<text transform="translate(516.9 526.6)" font-size="5" fill="#1a1a1a" text-anchor="middle">0.038</text>
<rect x="371.4" y="646.2" width="12.7" height="3.4" fill="#FDEBD2" stroke="#F7A21B" stroke-width="0.8"/>
<line x1="371.4" y1="647.8" x2="384.1" y2="647.8" stroke="#F7A21B" stroke-width="0.9"/>
<circle cx="377.5" cy="645" r="0.95" fill="#F7A21B" stroke="none" stroke-width="0.5"/>
<circle cx="378" cy="651.3" r="0.95" fill="#F7A21B" stroke="none" stroke-width="0.5"/>
<rect x="387.4" y="535.1" width="12.6" height="23.7" fill="#D9FBEA" stroke="#19EE8C" stroke-width="0.8"/>
<line x1="387.4" y1="537.7" x2="400" y2="537.7" stroke="#19EE8C" stroke-width="0.9"/>
<circle cx="394.2" cy="533.6" r="0.95" fill="#19EE8C" stroke="none" stroke-width="0.5"/>
<circle cx="392.5" cy="580.5" r="0.95" fill="#19EE8C" stroke="none" stroke-width="0.5"/>
<rect x="403.1" y="649.1" width="12.8" height="5.1" fill="#F9F6DF" stroke="#E9E19A" stroke-width="0.8"/>
<line x1="403.1" y1="651" x2="415.9" y2="651" stroke="#E9E19A" stroke-width="0.9"/>
<circle cx="409.5" cy="646.5" r="0.95" fill="#E9E19A" stroke="none" stroke-width="0.5"/>
<circle cx="409.5" cy="655.5" r="0.95" fill="#E9E19A" stroke="none" stroke-width="0.5"/>
<rect x="438.5" y="632.6" width="12" height="15.8" fill="#FDEBD2" stroke="#F7A21B" stroke-width="0.8"/>
<line x1="438.5" y1="641.2" x2="450.5" y2="641.2" stroke="#F7A21B" stroke-width="0.9"/>
<circle cx="445.2" cy="623.7" r="0.95" fill="#F7A21B" stroke="none" stroke-width="0.5"/>
<circle cx="443.3" cy="655.4" r="0.95" fill="#F7A21B" stroke="none" stroke-width="0.5"/>
<rect x="454.3" y="539" width="12.2" height="30.5" fill="#D9FBEA" stroke="#19EE8C" stroke-width="0.8"/>
<line x1="454.3" y1="545.1" x2="466.5" y2="545.1" stroke="#19EE8C" stroke-width="0.9"/>
<circle cx="460.2" cy="533.6" r="0.95" fill="#19EE8C" stroke="none" stroke-width="0.5"/>
<circle cx="459.4" cy="594" r="0.95" fill="#19EE8C" stroke="none" stroke-width="0.5"/>
<rect x="470.4" y="634.5" width="12.2" height="21.1" fill="#F9F6DF" stroke="#E9E19A" stroke-width="0.8"/>
<line x1="470.4" y1="655" x2="482.6" y2="655" stroke="#E9E19A" stroke-width="0.9"/>
<circle cx="475" cy="612.9" r="0.95" fill="#E9E19A" stroke="none" stroke-width="0.5"/>
<rect x="503.1" y="648.4" width="12.3" height="3.2" fill="#FDEBD2" stroke="#F7A21B" stroke-width="0.8"/>
<line x1="503.1" y1="650" x2="515.4" y2="650" stroke="#F7A21B" stroke-width="0.9"/>
<circle cx="508.2" cy="646.5" r="0.95" fill="#F7A21B" stroke="none" stroke-width="0.5"/>
<circle cx="509.3" cy="653.5" r="0.95" fill="#F7A21B" stroke="none" stroke-width="0.5"/>
<rect x="518.9" y="549.1" width="12.1" height="30.9" fill="#D9FBEA" stroke="#19EE8C" stroke-width="0.8"/>
<line x1="518.9" y1="565.6" x2="531" y2="565.6" stroke="#19EE8C" stroke-width="0.9"/>
<circle cx="525.2" cy="533.8" r="0.95" fill="#19EE8C" stroke="none" stroke-width="0.5"/>
<circle cx="524.1" cy="593.9" r="0.95" fill="#19EE8C" stroke="none" stroke-width="0.5"/>
<rect x="534.7" y="638.3" width="12.4" height="10.1" fill="#F9F6DF" stroke="#E9E19A" stroke-width="0.8"/>
<line x1="534.7" y1="640.2" x2="547.1" y2="640.2" stroke="#E9E19A" stroke-width="0.9"/>
<circle cx="539.5" cy="635.7" r="0.95" fill="#E9E19A" stroke="none" stroke-width="0.5"/>
<circle cx="539.5" cy="655.6" r="0.95" fill="#E9E19A" stroke="none" stroke-width="0.5"/>
<text transform="translate(459.4 671) scale(0.9 1)" font-size="8.4" fill="#1a1a1a" text-anchor="middle">Condition</text>
<text transform="translate(358.9 577.3) rotate(-90) scale(0.92 1)" font-size="7.8" fill="#1a1a1a" text-anchor="middle">Protein level (pg/mL)</text>
<text transform="translate(557.9 566.7) scale(0.9 1)" font-size="7.2" fill="#1a1a1a" text-anchor="start">Co−culture condition</text>
<rect x="559.4" y="571" width="6.3" height="5.2" fill="none" stroke="#F7A21B" stroke-width="0.8"/>
<line x1="559.4" y1="573.6" x2="565.7" y2="573.6" stroke="#F7A21B" stroke-width="0.8"/>
<line x1="562.55" y1="570" x2="562.55" y2="577.2" stroke="#F7A21B" stroke-width="0.6"/>
<text transform="translate(568.6 576.1) scale(0.89 1)" font-size="6.8" fill="#1a1a1a" text-anchor="start">Cancer cells + CD14 cells</text>
<rect x="559.4" y="578.8" width="6.3" height="5.2" fill="none" stroke="#19EE8C" stroke-width="0.8"/>
<line x1="559.4" y1="581.4" x2="565.7" y2="581.4" stroke="#19EE8C" stroke-width="0.8"/>
<line x1="562.55" y1="577.8" x2="562.55" y2="585" stroke="#19EE8C" stroke-width="0.6"/>
<text transform="translate(568.6 583.9) scale(0.89 1)" font-size="6.8" fill="#1a1a1a" text-anchor="start">Cancer cells + CD14 cells + PD−L1 clone</text>
<rect x="559.4" y="586.6" width="6.3" height="5.2" fill="none" stroke="#E9E19A" stroke-width="0.8"/>
<line x1="559.4" y1="589.2" x2="565.7" y2="589.2" stroke="#E9E19A" stroke-width="0.8"/>
<line x1="562.55" y1="585.6" x2="562.55" y2="592.8" stroke="#E9E19A" stroke-width="0.6"/>
<text transform="translate(568.6 591.7) scale(0.89 1)" font-size="6.8" fill="#1a1a1a" text-anchor="start">Cancer cells + CD14 cells + PBLs</text>
</svg></body></html>
